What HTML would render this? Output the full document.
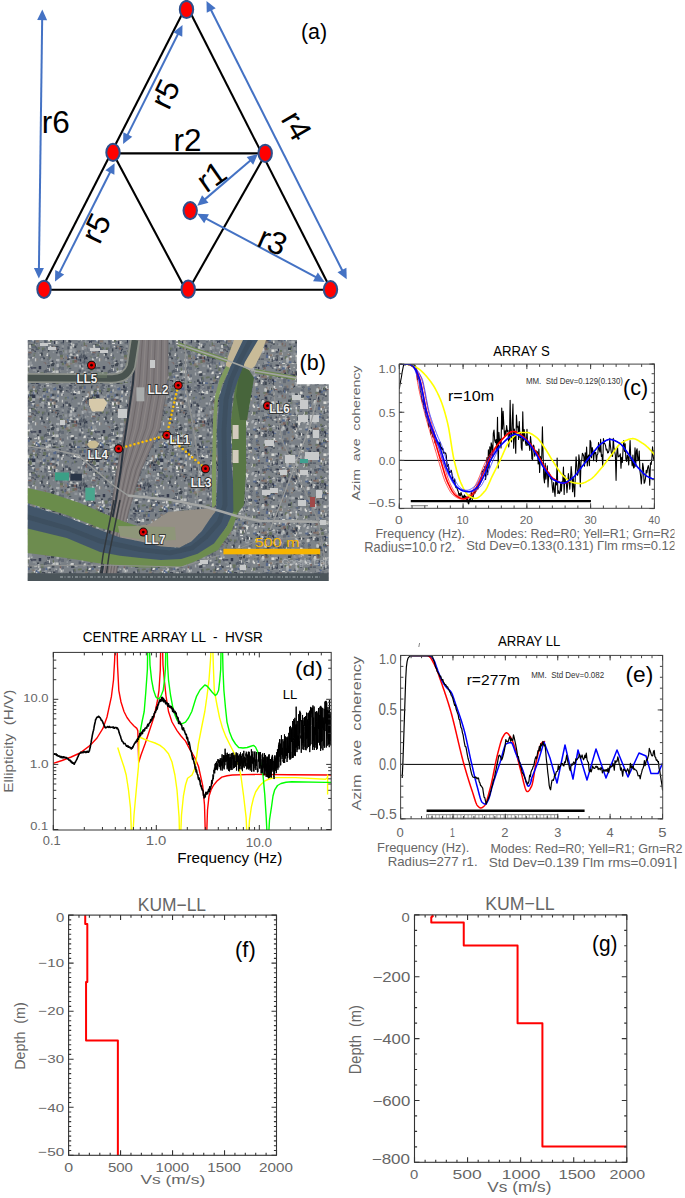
<!DOCTYPE html>
<html><head><meta charset="utf-8"><title>Figure</title>
<style>html,body{margin:0;padding:0;background:#fff;}svg{display:block;}</style>
</head><body>
<svg width="685" height="1198" viewBox="0 0 685 1198">
<rect width="685" height="1198" fill="#fff"/>
<line x1="184.73" y1="9" x2="41.65" y2="289" stroke="#000" stroke-width="2.1" />
<line x1="188.49" y1="9" x2="330.93" y2="289.5" stroke="#000" stroke-width="2.1" />
<line x1="113" y1="153.4" x2="265" y2="153.4" stroke="#000" stroke-width="2.1" />
<line x1="44" y1="289.7" x2="330.5" y2="289.7" stroke="#000" stroke-width="2.1" />
<line x1="112.54" y1="152.4" x2="185.45" y2="289.2" stroke="#000" stroke-width="2.1" />
<line x1="266.07" y1="153.3" x2="188.87" y2="289.2" stroke="#000" stroke-width="2.1" />
<line x1="42.18" y1="19.1" x2="38.92" y2="269" stroke="#4472c4" stroke-width="2" />
<polygon points="42.3,9.6 37.16,20.03 47.16,20.16" fill="#4472c4"/>
<polygon points="38.8,278.5 33.94,267.94 43.94,268.07" fill="#4472c4"/>
<line x1="178.25" y1="33.5" x2="127.35" y2="135.4" stroke="#4472c4" stroke-width="2" />
<polygon points="182.5,25 173.33,32.16 182.28,36.63" fill="#4472c4"/>
<polygon points="123.1,143.9 123.32,132.27 132.27,136.74" fill="#4472c4"/>
<line x1="110.33" y1="171.69" x2="59.27" y2="273.11" stroke="#4472c4" stroke-width="2" />
<polygon points="114.6,163.2 105.41,170.33 114.35,174.83" fill="#4472c4"/>
<polygon points="55,281.6 55.25,269.97 64.19,274.47" fill="#4472c4"/>
<line x1="210.77" y1="9.48" x2="342.43" y2="270.82" stroke="#4472c4" stroke-width="2" />
<polygon points="206.5,1 206.76,12.63 215.69,8.13" fill="#4472c4"/>
<polygon points="346.7,279.3 337.51,272.17 346.44,267.67" fill="#4472c4"/>
<line x1="204.53" y1="199.63" x2="250.67" y2="160.27" stroke="#4472c4" stroke-width="2" />
<polygon points="197.3,205.8 208.53,202.79 202.04,195.18" fill="#4472c4"/>
<polygon points="257.9,154.1 253.16,164.72 246.67,157.11" fill="#4472c4"/>
<line x1="205.68" y1="218.28" x2="316.32" y2="277.42" stroke="#4472c4" stroke-width="2" />
<polygon points="197.3,213.8 204.2,223.16 208.92,214.34" fill="#4472c4"/>
<polygon points="324.7,281.9 313.08,281.36 317.8,272.54" fill="#4472c4"/>
<ellipse cx="186.5" cy="9.5" rx="6.7" ry="8.6" fill="#ff0000" stroke="#2e4f8c" stroke-width="2"/>
<ellipse cx="113" cy="152.4" rx="6.7" ry="8.6" fill="#ff0000" stroke="#2e4f8c" stroke-width="2"/>
<ellipse cx="265.2" cy="153.3" rx="6.7" ry="8.6" fill="#ff0000" stroke="#2e4f8c" stroke-width="2"/>
<ellipse cx="190.2" cy="210.6" rx="6.7" ry="8.6" fill="#ff0000" stroke="#2e4f8c" stroke-width="2"/>
<ellipse cx="44" cy="289.3" rx="6.7" ry="8.6" fill="#ff0000" stroke="#2e4f8c" stroke-width="2"/>
<ellipse cx="188.2" cy="289.2" rx="6.7" ry="8.6" fill="#ff0000" stroke="#2e4f8c" stroke-width="2"/>
<ellipse cx="330.5" cy="289.6" rx="6.7" ry="8.6" fill="#ff0000" stroke="#2e4f8c" stroke-width="2"/>
<text x="41.7" y="133" font-family="Liberation Sans" font-size="31.5" fill="#000">r6</text>
<text x="173.5" y="150.7" font-family="Liberation Sans" font-size="31.5" fill="#000">r2</text>
<g transform="translate(165,93.9) rotate(-64)"><text x="0" y="0" font-family="Liberation Sans" font-size="31.5" text-anchor="middle" dominant-baseline="central" fill="#000">r5</text></g>
<g transform="translate(95.8,228) rotate(-64)"><text x="0" y="0" font-family="Liberation Sans" font-size="31.5" text-anchor="middle" dominant-baseline="central" fill="#000">r5</text></g>
<g transform="translate(296.7,125.6) rotate(60)"><text x="0" y="0" font-family="Liberation Sans" font-size="31.5" text-anchor="middle" dominant-baseline="central" fill="#000">r4</text></g>
<g transform="translate(272.7,240.9) rotate(23.5)"><text x="0" y="0" font-family="Liberation Sans" font-size="31.5" text-anchor="middle" dominant-baseline="central" fill="#000">r3</text></g>
<g transform="translate(211.4,176.5) rotate(-35)"><text x="0" y="0" font-family="Liberation Sans" font-size="31.5" text-anchor="middle" dominant-baseline="central" fill="#000">r1</text></g>
<text x="300.9" y="39.4" font-family="Liberation Sans" font-size="21.87" fill="#000" text-anchor="start" textLength="26.22" lengthAdjust="spacingAndGlyphs" style="white-space:pre" >(a)</text>
<defs><pattern id="urb1" patternUnits="userSpaceOnUse" width="64" height="64"><rect width="64" height="64" fill="#7a8086"/><rect x="32.76" y="60.83" width="1.35" height="3.28" fill="#646b75"/><rect x="27.09" y="52.97" width="1.98" height="2.32" fill="#3e4550"/><rect x="48.22" y="34.44" width="1.79" height="2.89" fill="#646b75"/><rect x="29.02" y="8.58" width="1.97" height="1.49" fill="#646b75"/><rect x="48.02" y="17.95" width="2.16" height="3.35" fill="#dcdcd8"/><rect x="46.39" y="34.64" width="1.66" height="1.39" fill="#dcdcd8"/><rect x="33.03" y="7.42" width="2.5" height="2.86" fill="#a9adb0"/><rect x="58.71" y="2.53" width="2.27" height="2.1" fill="#3e4550"/><rect x="41.05" y="54.57" width="2.42" height="1.62" fill="#66725f"/><rect x="32.61" y="32.7" width="2.81" height="1.36" fill="#66725f"/><rect x="43.73" y="50.37" width="1.46" height="2.93" fill="#525a66"/><rect x="5.22" y="54.73" width="3.07" height="3.1" fill="#7a8088"/><rect x="17.54" y="0.45" width="2.55" height="2.73" fill="#66725f"/><rect x="18.04" y="13.77" width="2.53" height="2.93" fill="#dcdcd8"/><rect x="9.63" y="30.86" width="3.15" height="2.01" fill="#a9adb0"/><rect x="1.57" y="43.1" width="3.21" height="2.98" fill="#857a72"/><rect x="42.26" y="15.72" width="2.84" height="1.51" fill="#66725f"/><rect x="4.01" y="52.83" width="1.39" height="1.9" fill="#646b75"/><rect x="44.25" y="11.43" width="1.95" height="1.01" fill="#646b75"/><rect x="26.96" y="6.78" width="2.52" height="1.91" fill="#c4c6c4"/><rect x="41.85" y="27.6" width="3.08" height="2.52" fill="#66725f"/><rect x="21.87" y="34.79" width="1.47" height="3.39" fill="#646b75"/><rect x="16.44" y="4.68" width="1.62" height="2.83" fill="#c4c6c4"/><rect x="8.24" y="24.08" width="2.01" height="2.6" fill="#7a8088"/><rect x="37.54" y="53.74" width="2.74" height="1.88" fill="#7a8088"/><rect x="23.53" y="7.02" width="1.49" height="1.68" fill="#646b75"/><rect x="20.04" y="36.91" width="3.33" height="2.86" fill="#30374a"/><rect x="48.59" y="38.21" width="3.2" height="2.66" fill="#90959a"/><rect x="4.93" y="31.26" width="1.51" height="1.32" fill="#90959a"/><rect x="50.25" y="18.88" width="2.85" height="2.26" fill="#525a66"/><rect x="61.76" y="25.7" width="1.71" height="3.03" fill="#525a66"/><rect x="46.95" y="12.02" width="1.94" height="1.56" fill="#66725f"/><rect x="24.96" y="62.38" width="2.5" height="2.66" fill="#90959a"/><rect x="19.77" y="25.32" width="3.26" height="1.48" fill="#7a6460"/><rect x="48.53" y="23.03" width="2.54" height="1.91" fill="#7a8088"/><rect x="32.24" y="1.07" width="2.18" height="3.33" fill="#646b75"/><rect x="47.89" y="28.34" width="1.5" height="3.17" fill="#3e4550"/><rect x="19.42" y="63.94" width="1.63" height="3.04" fill="#a9adb0"/><rect x="51.59" y="40.34" width="1.87" height="2.83" fill="#3e4550"/><rect x="28.6" y="23.8" width="2.14" height="1.31" fill="#525a66"/><rect x="35.97" y="24.82" width="2.9" height="2.45" fill="#857a72"/><rect x="46.87" y="38.52" width="1.69" height="2.88" fill="#646b75"/><rect x="4.81" y="61.62" width="2.3" height="2.86" fill="#90959a"/><rect x="39.14" y="2.17" width="1.45" height="2.62" fill="#90959a"/><rect x="10.15" y="60.93" width="1.37" height="2.22" fill="#525a66"/><rect x="45.91" y="17.68" width="1.32" height="1.11" fill="#525a66"/><rect x="12.28" y="34.37" width="2.08" height="3.3" fill="#dcdcd8"/><rect x="50.98" y="42.98" width="3.03" height="3.25" fill="#3e4550"/><rect x="7.56" y="23.06" width="1.22" height="2.44" fill="#646b75"/><rect x="16.92" y="18.45" width="1.23" height="2.78" fill="#a9adb0"/><rect x="38.82" y="2.18" width="2.03" height="2.64" fill="#525a66"/><rect x="24.68" y="1.27" width="1.2" height="1.52" fill="#7a8088"/><rect x="29.65" y="56.61" width="1.76" height="1.05" fill="#66725f"/><rect x="3.96" y="5.95" width="3.31" height="2.81" fill="#646b75"/><rect x="8.46" y="24.75" width="1.81" height="3.1" fill="#7a8088"/><rect x="5.25" y="59.32" width="2.49" height="1.28" fill="#525a66"/><rect x="29.82" y="5.89" width="2.52" height="2.48" fill="#3e4550"/><rect x="51.68" y="50.35" width="3.2" height="2.61" fill="#c4c6c4"/><rect x="10.48" y="1.53" width="1.16" height="3.31" fill="#a9adb0"/><rect x="60.6" y="22.36" width="2.81" height="1.16" fill="#525a66"/><rect x="17.74" y="35.22" width="2.34" height="2.2" fill="#7a8088"/><rect x="36.85" y="61.87" width="2.1" height="3.01" fill="#3e4550"/><rect x="24.68" y="35.87" width="2.49" height="1.6" fill="#7a8088"/><rect x="60.61" y="41.53" width="2.4" height="1.16" fill="#3e4550"/><rect x="13.53" y="8.82" width="3.36" height="1.01" fill="#7a8088"/><rect x="3.74" y="40.96" width="1.11" height="1.16" fill="#3e4550"/><rect x="17.39" y="36.89" width="2.93" height="1.64" fill="#646b75"/><rect x="52.77" y="47.74" width="1.3" height="2.94" fill="#66725f"/><rect x="11.38" y="40.12" width="1.47" height="1.58" fill="#90959a"/><rect x="33.42" y="30.66" width="2.3" height="1.51" fill="#30374a"/><rect x="17.78" y="58.41" width="2.24" height="1.73" fill="#525a66"/><rect x="31.05" y="24.08" width="2.5" height="2.2" fill="#3e4550"/><rect x="53.32" y="3.31" width="2.99" height="2.95" fill="#56688a"/><rect x="42.52" y="10.28" width="2.06" height="2.05" fill="#a9adb0"/><rect x="24.39" y="43.24" width="1.49" height="1.85" fill="#90959a"/><rect x="27.37" y="7.84" width="3.32" height="2.66" fill="#66725f"/><rect x="22.88" y="60.47" width="2.95" height="3.35" fill="#525a66"/><rect x="30.54" y="24.69" width="2.47" height="1.6" fill="#3e4550"/><rect x="30.5" y="40.93" width="1.92" height="3.37" fill="#7a8088"/><rect x="19.19" y="52.09" width="2.12" height="1.66" fill="#646b75"/><rect x="60.62" y="61.55" width="2.55" height="1.67" fill="#c4c6c4"/><rect x="13.87" y="20.61" width="2.3" height="1.96" fill="#646b75"/><rect x="62.34" y="10.89" width="2.47" height="1.09" fill="#3e4550"/><rect x="13.44" y="63.47" width="2.74" height="3.08" fill="#3e4550"/><rect x="43.61" y="28.16" width="2" height="2.7" fill="#646b75"/><rect x="32.86" y="16.69" width="1.94" height="2.28" fill="#525a66"/><rect x="17.68" y="26.91" width="2.13" height="2.92" fill="#a9adb0"/><rect x="36" y="55.67" width="1.47" height="1.25" fill="#7a8088"/><rect x="8.78" y="35.58" width="2.38" height="1.32" fill="#c4c6c4"/><rect x="35.62" y="27.08" width="3.2" height="3.05" fill="#525a66"/><rect x="10.66" y="58.59" width="1.38" height="2.82" fill="#646b75"/><rect x="23.12" y="35.44" width="3.22" height="1" fill="#525a66"/><rect x="46.09" y="25.25" width="1.69" height="3.31" fill="#646b75"/><rect x="45.71" y="61.71" width="2.83" height="2.7" fill="#c4c6c4"/><rect x="51.53" y="17.36" width="2.5" height="2.93" fill="#857a72"/><rect x="57.97" y="57.85" width="1.23" height="1.9" fill="#7a8088"/><rect x="57.07" y="26.83" width="1.64" height="1.05" fill="#646b75"/><rect x="49.97" y="1.29" width="1.4" height="1.75" fill="#90959a"/><rect x="23.23" y="56.49" width="1.5" height="2.35" fill="#30374a"/><rect x="59.49" y="55.9" width="1.33" height="2.9" fill="#c4c6c4"/><rect x="26.98" y="1.64" width="1.4" height="2.8" fill="#3e4550"/><rect x="20.01" y="16.33" width="2.79" height="1.86" fill="#3e4550"/><rect x="23.71" y="20.92" width="2.72" height="1.77" fill="#c4c6c4"/><rect x="34.47" y="56.81" width="2.76" height="1.98" fill="#90959a"/><rect x="30.17" y="55.79" width="1.33" height="2.02" fill="#90959a"/><rect x="27.92" y="38.27" width="2.2" height="1.99" fill="#c4c6c4"/><rect x="21.08" y="38.84" width="2.75" height="1.31" fill="#646b75"/><rect x="60.46" y="61.83" width="3.38" height="1.1" fill="#66725f"/><rect x="59.86" y="57.72" width="2.72" height="2.62" fill="#c4c6c4"/><rect x="36.79" y="50.46" width="2.2" height="1.54" fill="#3e4550"/><rect x="58.13" y="48.31" width="1.43" height="2.97" fill="#646b75"/><rect x="40.68" y="22.79" width="1.51" height="1.42" fill="#3e4550"/><rect x="4.76" y="4.42" width="1.22" height="3" fill="#90959a"/><rect x="8.23" y="33.6" width="2.3" height="2.19" fill="#525a66"/><rect x="27.8" y="55.73" width="1.92" height="2.21" fill="#56688a"/><rect x="14.9" y="46.43" width="2.16" height="2.89" fill="#7a8088"/><rect x="34.71" y="23.57" width="3.08" height="3.2" fill="#a9adb0"/><rect x="62.79" y="46.85" width="2.99" height="3.15" fill="#646b75"/><rect x="63.15" y="24.99" width="2.19" height="1.43" fill="#66725f"/><rect x="21.56" y="44.12" width="1.52" height="1.84" fill="#7a8088"/><rect x="15.14" y="2.24" width="2.85" height="3.28" fill="#525a66"/><rect x="10.41" y="22.25" width="1.2" height="2.56" fill="#7a8088"/><rect x="36" y="57.97" width="3.07" height="3.21" fill="#56688a"/><rect x="37.75" y="32.15" width="1.09" height="1.25" fill="#90959a"/><rect x="54.78" y="27.69" width="1.01" height="1.51" fill="#30374a"/><rect x="10.14" y="12.77" width="1.69" height="2.46" fill="#66725f"/><rect x="14.01" y="38.37" width="2.27" height="2.07" fill="#90959a"/><rect x="52.1" y="13.92" width="2.19" height="1.24" fill="#90959a"/><rect x="50.62" y="63.91" width="2.14" height="1.71" fill="#90959a"/><rect x="23.79" y="7.49" width="2.26" height="2.92" fill="#857a72"/><rect x="62.6" y="23.53" width="1.6" height="1.27" fill="#7a8088"/><rect x="51.65" y="15.02" width="3.04" height="2.71" fill="#525a66"/><rect x="40.43" y="52.46" width="3.24" height="1.39" fill="#66725f"/><rect x="49.65" y="15.6" width="1.71" height="3.3" fill="#7a8088"/><rect x="18.49" y="46.08" width="1.32" height="2.16" fill="#7a8088"/><rect x="34.82" y="38.61" width="2.54" height="2.04" fill="#857a72"/><rect x="53.48" y="59.73" width="2.07" height="2.75" fill="#7a8088"/><rect x="17.84" y="41.72" width="3.27" height="2.93" fill="#646b75"/><rect x="14.6" y="49.39" width="2.69" height="3.07" fill="#525a66"/><rect x="55.15" y="27.69" width="1.66" height="1.82" fill="#7a6460"/><rect x="61.19" y="5.36" width="1.76" height="2.73" fill="#3e4550"/><rect x="2.3" y="2.87" width="3.08" height="1.8" fill="#646b75"/><rect x="50.77" y="20.39" width="2.77" height="1.89" fill="#646b75"/><rect x="24.78" y="10.75" width="1.18" height="3.09" fill="#857a72"/><rect x="29.49" y="44.06" width="3.07" height="1.94" fill="#c4c6c4"/><rect x="48.31" y="5" width="1.33" height="2.8" fill="#c4c6c4"/><rect x="11.86" y="52.91" width="2.92" height="1.8" fill="#646b75"/><rect x="7.08" y="28.51" width="1.26" height="2.3" fill="#a9adb0"/><rect x="37.24" y="4.59" width="2.49" height="2.81" fill="#525a66"/><rect x="38.08" y="52.42" width="1.46" height="3.19" fill="#dcdcd8"/><rect x="45.55" y="55.81" width="1.65" height="2.6" fill="#56688a"/><rect x="2.86" y="52.53" width="1.57" height="2.92" fill="#a9adb0"/><rect x="51.3" y="25.66" width="2.08" height="3.22" fill="#3e4550"/><rect x="10" y="62.26" width="3.19" height="1.35" fill="#dcdcd8"/><rect x="16.99" y="57.09" width="3.17" height="1.06" fill="#3e4550"/><rect x="20.93" y="59.6" width="2.9" height="1.93" fill="#857a72"/><rect x="19.68" y="22.23" width="1.46" height="3.3" fill="#66725f"/><rect x="29.6" y="16.91" width="3.32" height="1.95" fill="#525a66"/><rect x="27.18" y="46.02" width="2.85" height="1.26" fill="#dcdcd8"/><rect x="43.17" y="4" width="3.01" height="3.33" fill="#66725f"/><rect x="0.63" y="30.28" width="2.41" height="3.13" fill="#90959a"/><rect x="4.95" y="59.75" width="3.28" height="2.17" fill="#3e4550"/><rect x="53.69" y="47.47" width="3.33" height="1.02" fill="#7a8088"/><rect x="18.16" y="6.89" width="2.76" height="1.82" fill="#3e4550"/><rect x="8.55" y="51.58" width="2.45" height="1.52" fill="#c4c6c4"/><rect x="8.35" y="43.08" width="2.57" height="1.01" fill="#90959a"/><rect x="46.48" y="48.55" width="2.69" height="3.12" fill="#30374a"/><rect x="59.01" y="26.55" width="1.08" height="1.43" fill="#646b75"/><rect x="2.67" y="6.92" width="2.25" height="1.61" fill="#646b75"/><rect x="47.45" y="54.7" width="3.07" height="1.89" fill="#c4c6c4"/><rect x="54.55" y="9.66" width="1.48" height="2.56" fill="#646b75"/><rect x="12.33" y="23.52" width="1.04" height="2.05" fill="#3e4550"/><rect x="15.66" y="13.92" width="1.79" height="1.3" fill="#7a8088"/><rect x="44.02" y="21.69" width="3.23" height="3.06" fill="#646b75"/><rect x="2.49" y="49.16" width="1.58" height="1.8" fill="#90959a"/><rect x="63.93" y="19.18" width="2.12" height="2.51" fill="#c4c6c4"/><rect x="13.58" y="38.1" width="2.31" height="2.58" fill="#525a66"/><rect x="8.08" y="62.43" width="2.97" height="2.99" fill="#56688a"/><rect x="61.48" y="25.18" width="2.81" height="2.54" fill="#90959a"/><rect x="43.48" y="20.44" width="3.07" height="1.98" fill="#525a66"/><rect x="0.7" y="40.91" width="1.56" height="3.29" fill="#525a66"/><rect x="20.24" y="62.98" width="2.25" height="3.21" fill="#30374a"/><rect x="7.61" y="13.82" width="1.93" height="3.11" fill="#646b75"/><rect x="29.64" y="30.77" width="1.78" height="2.89" fill="#3e4550"/><rect x="14.46" y="52.81" width="2.48" height="2.23" fill="#7a8088"/><rect x="8.33" y="29.23" width="3.37" height="2.43" fill="#90959a"/><rect x="63.37" y="56.67" width="3.4" height="3.29" fill="#a9adb0"/><rect x="19.54" y="40.2" width="1.84" height="2.95" fill="#525a66"/><rect x="29.6" y="53.81" width="2.09" height="2.44" fill="#3e4550"/><rect x="18.25" y="61.09" width="2.58" height="1.88" fill="#90959a"/><rect x="49.59" y="50.4" width="2.99" height="1.7" fill="#646b75"/><rect x="40.86" y="33.74" width="2.36" height="1.52" fill="#646b75"/><rect x="48.13" y="22.93" width="2.82" height="1.11" fill="#dcdcd8"/><rect x="13.32" y="30.61" width="3.21" height="1.61" fill="#525a66"/><rect x="63.08" y="57.88" width="2.28" height="1.15" fill="#a9adb0"/><rect x="16.1" y="13.7" width="3.24" height="2.49" fill="#7a8088"/><rect x="4.01" y="23.78" width="3.07" height="1.73" fill="#646b75"/><rect x="38.84" y="16.14" width="2.34" height="2.84" fill="#646b75"/><rect x="30.26" y="36.88" width="1.87" height="1.54" fill="#525a66"/><rect x="36.19" y="60" width="1.05" height="3.08" fill="#dcdcd8"/><rect x="34.71" y="61.94" width="2.69" height="2.31" fill="#7a8088"/><rect x="29.85" y="43.65" width="1.56" height="2.72" fill="#90959a"/><rect x="43.18" y="60.22" width="1.56" height="1.97" fill="#646b75"/><rect x="3.37" y="39.81" width="2.51" height="3.4" fill="#a9adb0"/><rect x="25.35" y="57.67" width="1.04" height="1.73" fill="#30374a"/><rect x="10.34" y="23.12" width="3.04" height="1.83" fill="#646b75"/><rect x="57" y="4.95" width="3.06" height="1.76" fill="#525a66"/><rect x="31.22" y="30.94" width="3.32" height="2.81" fill="#7a8088"/><rect x="35.8" y="20.38" width="3.36" height="1.93" fill="#857a72"/><rect x="41.99" y="58.63" width="1.85" height="2" fill="#7a8088"/><rect x="52.93" y="61" width="2.98" height="2.08" fill="#66725f"/><rect x="46.73" y="33.22" width="1.44" height="1.57" fill="#c4c6c4"/><rect x="12.72" y="35.86" width="2.93" height="2.57" fill="#a9adb0"/><rect x="16.49" y="7.68" width="1.08" height="1.11" fill="#646b75"/><rect x="35.69" y="27.12" width="1.49" height="1.73" fill="#7a8088"/><rect x="51.13" y="41.98" width="1.1" height="2.16" fill="#525a66"/><rect x="54.71" y="56.63" width="2.33" height="2.77" fill="#c4c6c4"/><rect x="52.28" y="17.84" width="1.55" height="2.79" fill="#dcdcd8"/><rect x="14.71" y="36.34" width="2.31" height="1.9" fill="#30374a"/><rect x="8.43" y="23.79" width="2.03" height="3.29" fill="#c4c6c4"/><rect x="45.5" y="63.99" width="1.54" height="2.45" fill="#3e4550"/><rect x="10.4" y="44.55" width="2.98" height="2.53" fill="#90959a"/><rect x="50.6" y="61.2" width="3.22" height="2.94" fill="#7a8088"/><rect x="49.05" y="14.97" width="3.17" height="1.67" fill="#7a6460"/><rect x="19.31" y="16.9" width="1.81" height="2.16" fill="#525a66"/><rect x="16.88" y="56.59" width="3.24" height="1.37" fill="#7a8088"/><rect x="26.87" y="53.01" width="2.58" height="1.98" fill="#30374a"/><rect x="38.73" y="13.4" width="2.9" height="2.12" fill="#857a72"/><rect x="42.57" y="9.67" width="2.82" height="2.39" fill="#90959a"/><rect x="26.86" y="42.42" width="1.15" height="2.21" fill="#56688a"/><rect x="13.11" y="8.77" width="1.99" height="2.25" fill="#7a8088"/><rect x="30.97" y="43.18" width="2.9" height="1.12" fill="#7a8088"/><rect x="39.63" y="1.34" width="3.28" height="2.54" fill="#90959a"/><rect x="28.69" y="9.42" width="1.16" height="2.63" fill="#56688a"/><rect x="50.71" y="1.37" width="1.09" height="2.23" fill="#90959a"/><rect x="38.81" y="56.07" width="3.15" height="3.37" fill="#646b75"/><rect x="29.99" y="63.59" width="2.68" height="1.14" fill="#56688a"/><rect x="39.47" y="12.4" width="1.83" height="2.39" fill="#a9adb0"/><rect x="26.29" y="47.64" width="2.28" height="3.34" fill="#66725f"/><rect x="9.61" y="6.6" width="3.05" height="2.46" fill="#dcdcd8"/><rect x="27.89" y="11.48" width="1.09" height="2.84" fill="#3e4550"/><rect x="41.21" y="36.07" width="2.77" height="3.27" fill="#646b75"/><rect x="30.89" y="48.1" width="1.49" height="1.22" fill="#525a66"/><rect x="59.63" y="50.52" width="1.48" height="1.04" fill="#a9adb0"/><rect x="20.6" y="14.59" width="1.48" height="2.13" fill="#646b75"/><rect x="60.17" y="36.22" width="3.16" height="3.22" fill="#857a72"/><rect x="31.89" y="37.33" width="2.28" height="1.05" fill="#dcdcd8"/><rect x="9.67" y="35.42" width="2.64" height="2.89" fill="#90959a"/><rect x="40.9" y="52.93" width="2.54" height="2.6" fill="#66725f"/><rect x="4.7" y="33.19" width="1.06" height="1.36" fill="#3e4550"/><rect x="55.44" y="21.1" width="2.25" height="2.89" fill="#c4c6c4"/><rect x="59.28" y="31.35" width="2.69" height="3.08" fill="#3e4550"/><rect x="30.07" y="5.63" width="2.34" height="1.75" fill="#66725f"/><rect x="29.98" y="10.43" width="3.1" height="2.02" fill="#3e4550"/><rect x="17.2" y="24.52" width="1.06" height="1.34" fill="#646b75"/><rect x="21.61" y="28.01" width="1.71" height="1.77" fill="#7a8088"/><rect x="22.52" y="47.99" width="2.87" height="1.04" fill="#525a66"/><rect x="6.52" y="22.58" width="1.86" height="2.8" fill="#c4c6c4"/><rect x="56.47" y="43.71" width="2.43" height="3.39" fill="#a9adb0"/><rect x="24.93" y="19.51" width="1.09" height="3.27" fill="#30374a"/><rect x="24.13" y="56" width="2.83" height="2.12" fill="#dcdcd8"/><rect x="57.11" y="28.55" width="2.02" height="1.36" fill="#3e4550"/><rect x="22.86" y="13.73" width="1.16" height="2.77" fill="#dcdcd8"/><rect x="43.99" y="58.08" width="3.09" height="2.55" fill="#90959a"/><rect x="22.91" y="31.68" width="1.77" height="1.41" fill="#90959a"/><rect x="42.31" y="37.46" width="2.77" height="1.81" fill="#3e4550"/><rect x="13.61" y="18.54" width="2.33" height="1.93" fill="#a9adb0"/><rect x="14.33" y="29.95" width="1.01" height="2.65" fill="#857a72"/><rect x="54.95" y="55.98" width="1.47" height="3.36" fill="#90959a"/><rect x="11.88" y="5.83" width="1.17" height="2.53" fill="#a9adb0"/><rect x="50.35" y="42.15" width="2.25" height="1.39" fill="#c4c6c4"/><rect x="0.26" y="42.26" width="1.4" height="1.38" fill="#56688a"/><rect x="59.35" y="46.1" width="1.55" height="2.13" fill="#646b75"/><rect x="7.53" y="15.16" width="1.14" height="3.33" fill="#646b75"/><rect x="24.78" y="15.78" width="2.56" height="2.35" fill="#30374a"/><rect x="0.73" y="13.1" width="2.44" height="2.38" fill="#66725f"/><rect x="5.15" y="23.75" width="1.97" height="2.23" fill="#646b75"/><rect x="47.02" y="6.68" width="1.15" height="1.75" fill="#3e4550"/><rect x="25.11" y="37.02" width="1.2" height="2.1" fill="#90959a"/><rect x="36.13" y="1.93" width="2.86" height="2.73" fill="#646b75"/><rect x="30.17" y="47.31" width="3" height="1.59" fill="#30374a"/><rect x="27.15" y="61" width="3.11" height="1.86" fill="#7a8088"/><rect x="31.09" y="61.48" width="1.35" height="2.32" fill="#a9adb0"/><rect x="46.08" y="4.3" width="2.44" height="2.08" fill="#646b75"/><rect x="62.11" y="6.79" width="2.7" height="1.49" fill="#dcdcd8"/><rect x="32.02" y="29.02" width="1.6" height="2.28" fill="#857a72"/><rect x="4.61" y="42.13" width="1.35" height="1.54" fill="#66725f"/><rect x="4.63" y="46.83" width="1.14" height="2.22" fill="#a9adb0"/><rect x="9.41" y="51.34" width="1.53" height="2.14" fill="#646b75"/><rect x="48.87" y="16.07" width="1.63" height="1.03" fill="#857a72"/><rect x="2.15" y="20.13" width="2.55" height="1.8" fill="#a9adb0"/><rect x="23.33" y="56.32" width="1.38" height="1.04" fill="#3e4550"/><rect x="33.54" y="37.91" width="3" height="3.29" fill="#7a8088"/><rect x="52.72" y="25.93" width="1.89" height="1.32" fill="#857a72"/><rect x="21.51" y="41.39" width="2.24" height="3.39" fill="#646b75"/><rect x="35.3" y="50.54" width="1.46" height="2.98" fill="#90959a"/><rect x="6.63" y="61.96" width="1.99" height="2.14" fill="#30374a"/><rect x="61.74" y="15.71" width="1.33" height="2.79" fill="#c4c6c4"/><rect x="28.58" y="41.45" width="3.27" height="3.02" fill="#90959a"/><rect x="58.15" y="58.43" width="2.85" height="1.28" fill="#90959a"/><rect x="38.87" y="56.28" width="2.24" height="2.47" fill="#c4c6c4"/><rect x="5.37" y="3.61" width="1.07" height="1.26" fill="#646b75"/><rect x="3.1" y="38.17" width="2.37" height="2.09" fill="#3e4550"/><rect x="33.23" y="8.09" width="1.01" height="2.91" fill="#56688a"/><rect x="4.63" y="42.18" width="1.13" height="2.4" fill="#a9adb0"/><rect x="37.55" y="63.38" width="2.47" height="1.4" fill="#56688a"/><rect x="19.14" y="34.52" width="2.04" height="2.94" fill="#3e4550"/><rect x="23.53" y="28.33" width="2.43" height="3.18" fill="#646b75"/><rect x="22.11" y="43.01" width="1.5" height="2.22" fill="#646b75"/><rect x="39.92" y="37.16" width="2.65" height="2.03" fill="#646b75"/><rect x="0.94" y="38.5" width="1.54" height="1.01" fill="#7a8088"/><rect x="17.54" y="43.7" width="1.71" height="1.88" fill="#c4c6c4"/><rect x="43.15" y="10.29" width="2.41" height="3.24" fill="#56688a"/><rect x="54.36" y="18.05" width="3.3" height="1.48" fill="#7a8088"/><rect x="7.3" y="36.2" width="2.73" height="2.65" fill="#3e4550"/><rect x="62.88" y="19.84" width="2.78" height="3.22" fill="#30374a"/><rect x="33.49" y="34.47" width="1.35" height="1.92" fill="#66725f"/><rect x="43.6" y="42.47" width="2.64" height="1.84" fill="#7a6460"/><rect x="21.52" y="11.98" width="2.6" height="1.41" fill="#dcdcd8"/><rect x="36.83" y="7.69" width="1.06" height="2.44" fill="#3e4550"/><rect x="3.36" y="26.4" width="2.08" height="2.99" fill="#525a66"/><rect x="55.57" y="25.92" width="3.05" height="1.36" fill="#3e4550"/><rect x="27.89" y="13.8" width="2.15" height="2.97" fill="#857a72"/><rect x="5.56" y="16.45" width="1.73" height="1.42" fill="#7a8088"/><rect x="3.43" y="12.63" width="1.16" height="2.1" fill="#56688a"/><rect x="9.8" y="56.78" width="1.76" height="2.79" fill="#66725f"/><rect x="38.72" y="46.03" width="2.52" height="3.23" fill="#30374a"/><rect x="26.9" y="18.62" width="1.38" height="2.23" fill="#525a66"/><rect x="15.03" y="56.45" width="2.68" height="2.29" fill="#66725f"/><rect x="33.62" y="25.24" width="2.65" height="2.46" fill="#525a66"/><rect x="20.39" y="35.9" width="1.52" height="3.2" fill="#3e4550"/><rect x="56.09" y="62.71" width="2.48" height="1.51" fill="#66725f"/><rect x="28.25" y="45.6" width="1.77" height="1.53" fill="#dcdcd8"/><rect x="4.85" y="3.72" width="2.88" height="2.86" fill="#646b75"/><rect x="23.94" y="44.03" width="2.44" height="2.56" fill="#7a8088"/><rect x="62.74" y="9.47" width="2.52" height="1.49" fill="#646b75"/><rect x="19.04" y="52.81" width="2.39" height="1.79" fill="#90959a"/><rect x="29.52" y="34.82" width="1.57" height="1.9" fill="#7a8088"/><rect x="5.32" y="0.92" width="2.42" height="1.5" fill="#30374a"/><rect x="1.6" y="14.29" width="2.51" height="1.32" fill="#7a8088"/><rect x="19.09" y="17.19" width="1.56" height="3.34" fill="#646b75"/><rect x="7.54" y="58.58" width="1.38" height="2.77" fill="#a9adb0"/><rect x="45.93" y="49.49" width="1.43" height="1.09" fill="#7a8088"/><rect x="28.47" y="15.14" width="2.94" height="1.26" fill="#90959a"/><rect x="33.82" y="0.6" width="2.95" height="1.86" fill="#7a8088"/><rect x="10.29" y="25.54" width="2.09" height="2.45" fill="#3e4550"/><rect x="27.36" y="31.3" width="3.29" height="2.43" fill="#c4c6c4"/><rect x="28.17" y="31.6" width="3.36" height="2" fill="#7a6460"/><rect x="39.01" y="58.65" width="2.38" height="2.97" fill="#66725f"/><rect x="24.69" y="21.07" width="3.26" height="1.79" fill="#30374a"/><rect x="11.35" y="31.3" width="1.91" height="1.66" fill="#646b75"/><rect x="61.77" y="42.81" width="2.12" height="2.37" fill="#66725f"/><rect x="43.32" y="8.22" width="1.51" height="3.14" fill="#90959a"/><rect x="37.79" y="10.43" width="1.33" height="1.52" fill="#646b75"/><rect x="35.77" y="23.84" width="2.63" height="2.04" fill="#90959a"/><rect x="60.92" y="2.7" width="2.53" height="2.77" fill="#525a66"/><rect x="55.07" y="7.86" width="2.94" height="1.46" fill="#7a8088"/><rect x="25.31" y="36.63" width="2.52" height="1.1" fill="#66725f"/><rect x="33.69" y="58.78" width="1.41" height="2.07" fill="#dcdcd8"/><rect x="40.62" y="32.46" width="2.13" height="3.2" fill="#3e4550"/><rect x="63.39" y="30.14" width="2.97" height="2.16" fill="#66725f"/><rect x="6.3" y="27.24" width="2.85" height="3.39" fill="#90959a"/><rect x="4.76" y="47.84" width="2.56" height="1.36" fill="#525a66"/><rect x="32.12" y="10.64" width="3.2" height="3.38" fill="#30374a"/><rect x="54.02" y="21.2" width="1.26" height="2.75" fill="#30374a"/><rect x="44.47" y="11.33" width="1.06" height="2.33" fill="#525a66"/><rect x="18.86" y="30.49" width="1.6" height="3.24" fill="#646b75"/><rect x="35.9" y="62.27" width="2.61" height="1.93" fill="#30374a"/><rect x="12.39" y="6.65" width="1.09" height="2.6" fill="#a9adb0"/><rect x="42.94" y="43.1" width="2.4" height="3.26" fill="#7a8088"/><rect x="7.89" y="16" width="1.98" height="2.47" fill="#7a8088"/><rect x="27.89" y="18.79" width="2.75" height="3.03" fill="#646b75"/><rect x="51.22" y="12.61" width="3.34" height="1.85" fill="#a9adb0"/><rect x="38.54" y="5.26" width="2.41" height="1.11" fill="#90959a"/><rect x="34.38" y="60.93" width="1.44" height="1.12" fill="#a9adb0"/><rect x="19.84" y="35.22" width="1.61" height="2.66" fill="#525a66"/><rect x="32.76" y="49.38" width="3.14" height="1.79" fill="#90959a"/><rect x="61" y="8.86" width="2.99" height="2.76" fill="#dcdcd8"/><rect x="31.27" y="29.14" width="2.31" height="1.87" fill="#3e4550"/><rect x="36.39" y="24.95" width="2.21" height="2.68" fill="#7a8088"/><rect x="10.38" y="53.17" width="3.27" height="1.56" fill="#a9adb0"/><rect x="24.15" y="44.92" width="1.13" height="3.21" fill="#66725f"/><rect x="8.88" y="41.03" width="1.79" height="1.5" fill="#66725f"/><rect x="48.19" y="36.94" width="2.49" height="3.09" fill="#646b75"/><rect x="31.55" y="14.68" width="2.09" height="1.41" fill="#646b75"/><rect x="41.16" y="17.71" width="2.57" height="2.91" fill="#a9adb0"/><rect x="30.03" y="25.01" width="1.17" height="2.84" fill="#dcdcd8"/><rect x="15.44" y="44.56" width="2.45" height="2.95" fill="#c4c6c4"/><rect x="12.55" y="8.63" width="1.81" height="1.45" fill="#a9adb0"/><rect x="5.62" y="43.22" width="2.88" height="1.1" fill="#857a72"/><rect x="52.5" y="2.73" width="2.31" height="1.07" fill="#90959a"/><rect x="5.19" y="36.86" width="1.19" height="1.21" fill="#dcdcd8"/><rect x="51.75" y="43.05" width="2.89" height="1.51" fill="#3e4550"/><rect x="20.61" y="48.7" width="2.81" height="2.72" fill="#7a8088"/><rect x="32.56" y="47.36" width="2.41" height="1.53" fill="#7a8088"/><rect x="59.83" y="61.51" width="1.19" height="1.29" fill="#3e4550"/><rect x="32.34" y="57.48" width="2.24" height="1.8" fill="#857a72"/><rect x="15.45" y="35.17" width="3.13" height="3.09" fill="#525a66"/><rect x="19.52" y="26.1" width="2.85" height="2.65" fill="#90959a"/><rect x="24.12" y="18.36" width="2.4" height="2.93" fill="#646b75"/><rect x="18.19" y="0.63" width="1.26" height="1.32" fill="#7a8088"/><rect x="49.65" y="25.88" width="1.35" height="1.4" fill="#dcdcd8"/><rect x="39.69" y="18.97" width="3.03" height="3.27" fill="#90959a"/><rect x="28.99" y="24.74" width="1.9" height="3.07" fill="#c4c6c4"/><rect x="58.34" y="2.12" width="1.32" height="2.26" fill="#a9adb0"/><rect x="27.53" y="33.12" width="3.16" height="2.35" fill="#646b75"/><rect x="31.99" y="19.05" width="2.51" height="2.41" fill="#c4c6c4"/><rect x="62.34" y="31.91" width="1.09" height="2.19" fill="#90959a"/><rect x="50.61" y="59.37" width="1.39" height="3.13" fill="#525a66"/><rect x="37.78" y="0.3" width="3.03" height="1.99" fill="#525a66"/><rect x="60.55" y="5.49" width="1.84" height="2.12" fill="#646b75"/><rect x="22.89" y="54.01" width="1.47" height="2.34" fill="#525a66"/><rect x="39.64" y="16.03" width="1.76" height="2.26" fill="#646b75"/><rect x="46.7" y="14.37" width="3.01" height="2.68" fill="#525a66"/><rect x="33.29" y="4.24" width="1.41" height="1.75" fill="#c4c6c4"/><rect x="39.57" y="34.05" width="1.44" height="1.71" fill="#c4c6c4"/><rect x="31.4" y="20.65" width="1.17" height="1.11" fill="#56688a"/><rect x="26.63" y="57.13" width="1.58" height="2.42" fill="#646b75"/><rect x="56.48" y="14.32" width="2.31" height="3.32" fill="#c4c6c4"/><rect x="35.49" y="23.31" width="2.27" height="1.01" fill="#525a66"/><rect x="17.86" y="3" width="1.57" height="2.01" fill="#857a72"/><rect x="58.82" y="1.32" width="2.1" height="2.64" fill="#30374a"/><rect x="10.2" y="0.46" width="1.6" height="1.75" fill="#525a66"/><rect x="14.11" y="42.37" width="1.53" height="1.45" fill="#646b75"/><rect x="29.15" y="12.68" width="2.19" height="3.25" fill="#66725f"/><rect x="48.09" y="60.32" width="3.21" height="2.33" fill="#c4c6c4"/><rect x="22.57" y="34.45" width="3.21" height="2.22" fill="#7a8088"/><rect x="42.12" y="29.76" width="1.23" height="1.91" fill="#525a66"/><rect x="58.54" y="47.42" width="2.05" height="1.17" fill="#525a66"/><rect x="16.79" y="33.55" width="1.25" height="1.87" fill="#525a66"/><rect x="6.66" y="7.73" width="1.29" height="3" fill="#525a66"/><rect x="7.13" y="53.17" width="3.31" height="2.76" fill="#3e4550"/><rect x="8.65" y="9.31" width="1.23" height="2.15" fill="#3e4550"/><rect x="50.87" y="26.29" width="1.47" height="1.22" fill="#90959a"/><rect x="49.8" y="37.3" width="1.57" height="2.93" fill="#90959a"/><rect x="37.46" y="58.09" width="2.62" height="1.28" fill="#c4c6c4"/><rect x="18.59" y="50.56" width="2.35" height="2.3" fill="#525a66"/><rect x="1.74" y="62.39" width="1.07" height="1.12" fill="#7a8088"/><rect x="59.99" y="34.65" width="3.38" height="2.72" fill="#66725f"/><rect x="52.44" y="60.35" width="3.33" height="1.79" fill="#c4c6c4"/><rect x="32.54" y="62.64" width="2.42" height="1.96" fill="#3e4550"/><rect x="46.65" y="0.81" width="2.56" height="1.64" fill="#c4c6c4"/><rect x="63.48" y="22.3" width="2.34" height="2.34" fill="#525a66"/><rect x="47.23" y="45" width="2.85" height="1.53" fill="#3e4550"/><rect x="25.2" y="7.5" width="1.66" height="1.04" fill="#7a8088"/><rect x="23.08" y="20.88" width="1.93" height="1.1" fill="#7a8088"/><rect x="41.84" y="20.75" width="2.36" height="2.93" fill="#90959a"/><rect x="59.32" y="49.33" width="2.34" height="1.2" fill="#7a8088"/><rect x="2.21" y="61.16" width="1.11" height="1.5" fill="#525a66"/><rect x="55.12" y="58.09" width="2.74" height="3.05" fill="#646b75"/><rect x="57.3" y="6.47" width="1.74" height="3.06" fill="#c4c6c4"/><rect x="59.74" y="54.32" width="1.51" height="2" fill="#7a6460"/><rect x="44.99" y="50.81" width="1.2" height="3.29" fill="#90959a"/><rect x="9.83" y="36.72" width="3.2" height="2.31" fill="#7a6460"/><rect x="59.36" y="31.82" width="3.32" height="2.84" fill="#646b75"/><rect x="6.3" y="1.74" width="2.25" height="2.81" fill="#525a66"/><rect x="12.92" y="62.32" width="2.94" height="1.78" fill="#56688a"/><rect x="30.55" y="16.25" width="1.83" height="1.65" fill="#c4c6c4"/><rect x="23.93" y="36.98" width="2.49" height="2.21" fill="#7a8088"/><rect x="22.55" y="14.95" width="1.23" height="2.68" fill="#3e4550"/><rect x="46.94" y="48.26" width="2.93" height="2.54" fill="#dcdcd8"/><rect x="24.48" y="29.37" width="1.69" height="1.02" fill="#7a8088"/><rect x="31.94" y="29.69" width="1.09" height="1.38" fill="#646b75"/><rect x="26.2" y="13.14" width="1.87" height="1.69" fill="#3e4550"/><rect x="56.08" y="38.9" width="3.36" height="2.45" fill="#a9adb0"/><rect x="23.29" y="51.52" width="2.11" height="2.98" fill="#7a8088"/><rect x="47.31" y="42.4" width="1.95" height="1.22" fill="#646b75"/><rect x="28.2" y="30.39" width="1.52" height="1.63" fill="#646b75"/><rect x="35.05" y="5.72" width="1.98" height="2.64" fill="#66725f"/><rect x="33.02" y="60.8" width="2.77" height="2.9" fill="#525a66"/><rect x="32.35" y="2.27" width="2.6" height="1.78" fill="#857a72"/><rect x="8.37" y="4.76" width="1.95" height="1.38" fill="#90959a"/><rect x="27.75" y="1.49" width="1.58" height="1.37" fill="#525a66"/><rect x="63.13" y="37.14" width="2.87" height="1.92" fill="#525a66"/><rect x="21.48" y="44.53" width="1.99" height="1.02" fill="#90959a"/><rect x="32.74" y="43.61" width="1.07" height="3.13" fill="#7a8088"/><rect x="23.1" y="18.5" width="3.04" height="1.64" fill="#646b75"/><rect x="57" y="30.07" width="1.12" height="1.29" fill="#30374a"/><rect x="20.84" y="19.49" width="1.71" height="3.33" fill="#90959a"/><rect x="57.34" y="50.85" width="2.89" height="2.86" fill="#646b75"/><rect x="52.76" y="31.43" width="1.42" height="1.61" fill="#90959a"/><rect x="30.82" y="63.15" width="2.49" height="2.49" fill="#3e4550"/><rect x="4.32" y="19.34" width="2.07" height="3.23" fill="#3e4550"/><rect x="46.28" y="39.77" width="1.59" height="3.2" fill="#7a8088"/><rect x="53.51" y="17.51" width="2.36" height="2.87" fill="#857a72"/><rect x="22.9" y="13.52" width="2.57" height="2.54" fill="#3e4550"/><rect x="38.52" y="60.31" width="1.59" height="2.51" fill="#56688a"/><rect x="24.64" y="52.41" width="3.15" height="1.12" fill="#646b75"/><rect x="15.59" y="58.16" width="2.44" height="1.3" fill="#7a8088"/><rect x="17.41" y="63.65" width="3.11" height="3.04" fill="#3e4550"/><rect x="24.41" y="28.23" width="1.77" height="3.13" fill="#7a8088"/><rect x="48.94" y="37.28" width="1.97" height="1.21" fill="#66725f"/><rect x="30.76" y="4.66" width="2.15" height="1.11" fill="#646b75"/><rect x="57.45" y="22.01" width="1.8" height="1.73" fill="#90959a"/><rect x="31.94" y="24.41" width="3.05" height="2.12" fill="#66725f"/><rect x="25.83" y="22.49" width="1.42" height="1.16" fill="#90959a"/><rect x="22.8" y="9.35" width="2.26" height="2.72" fill="#a9adb0"/><rect x="1.23" y="23.7" width="2.61" height="1.95" fill="#7a8088"/><rect x="50.5" y="9.89" width="1.41" height="2.84" fill="#56688a"/><rect x="10.51" y="3.73" width="2.96" height="2.36" fill="#646b75"/><rect x="3" y="35.23" width="1.37" height="3.16" fill="#56688a"/><rect x="47.08" y="62.94" width="1.73" height="1.28" fill="#a9adb0"/><rect x="15.64" y="44.51" width="1.18" height="1.82" fill="#a9adb0"/><rect x="59.96" y="5.48" width="2.08" height="3.27" fill="#3e4550"/><rect x="29.15" y="47.86" width="2.15" height="3.05" fill="#7a8088"/><rect x="19.59" y="1.63" width="2.18" height="3.35" fill="#56688a"/><rect x="0.05" y="2.04" width="1.14" height="3.06" fill="#7a8088"/><rect x="17.67" y="47.54" width="1.81" height="1.92" fill="#c4c6c4"/><rect x="57.13" y="11.36" width="1.49" height="1.48" fill="#56688a"/><rect x="35.81" y="52.52" width="1.45" height="3.07" fill="#646b75"/><rect x="39.69" y="13.86" width="2.23" height="2.81" fill="#525a66"/><rect x="61.7" y="54.33" width="2.69" height="2.81" fill="#646b75"/><rect x="5.93" y="20.82" width="1.32" height="1.8" fill="#30374a"/><rect x="10.97" y="4.75" width="2.94" height="3.24" fill="#7a8088"/><rect x="13.77" y="56.65" width="1.14" height="1.83" fill="#66725f"/><rect x="46.81" y="48.76" width="2.15" height="2.69" fill="#646b75"/><rect x="55.39" y="50.43" width="3.26" height="2.84" fill="#c4c6c4"/><rect x="12.13" y="36.43" width="1.18" height="3.2" fill="#30374a"/><rect x="34.22" y="53.3" width="3.09" height="1.86" fill="#c4c6c4"/><rect x="8.43" y="3.17" width="2.86" height="1.52" fill="#7a8088"/><rect x="31.33" y="60.45" width="2.87" height="2.32" fill="#66725f"/><rect x="15.94" y="5.5" width="1.61" height="2.43" fill="#646b75"/><rect x="63.26" y="35.35" width="2.36" height="2.78" fill="#90959a"/><rect x="11.12" y="12.89" width="2.09" height="1.61" fill="#525a66"/><rect x="23.54" y="51.34" width="3.08" height="1.63" fill="#525a66"/><rect x="2.3" y="0.59" width="1.88" height="1.46" fill="#90959a"/><rect x="8.41" y="40.11" width="2.34" height="3.19" fill="#66725f"/><rect x="7.78" y="35.01" width="1.88" height="1.1" fill="#90959a"/><rect x="62.44" y="9.29" width="1.01" height="1.48" fill="#7a8088"/><rect x="16.91" y="44.37" width="1.64" height="3.07" fill="#525a66"/><rect x="9.95" y="62.04" width="1.18" height="2.81" fill="#3e4550"/><rect x="10.16" y="39.98" width="2.98" height="2.48" fill="#7a6460"/><rect x="63.12" y="9.58" width="2.12" height="2.13" fill="#525a66"/><rect x="42.16" y="55.68" width="2.77" height="2.89" fill="#646b75"/><rect x="36.22" y="11.34" width="2.83" height="3.23" fill="#90959a"/><rect x="33.15" y="47.27" width="3.14" height="1.22" fill="#30374a"/><rect x="57.31" y="13.34" width="1.71" height="2.13" fill="#a9adb0"/><rect x="29.31" y="36.69" width="1.93" height="2.01" fill="#646b75"/><rect x="41.85" y="60.02" width="3.37" height="1.92" fill="#3e4550"/><rect x="40.61" y="61.02" width="3.29" height="2.65" fill="#7a8088"/><rect x="5.33" y="29.56" width="2.57" height="2.73" fill="#a9adb0"/><rect x="50.35" y="7.21" width="2.24" height="2.08" fill="#90959a"/><rect x="29.82" y="38.7" width="1.26" height="1.03" fill="#7a8088"/><rect x="37.67" y="27.15" width="2.24" height="1.96" fill="#66725f"/><rect x="51.85" y="9.67" width="2.5" height="2.26" fill="#3e4550"/><rect x="5.64" y="52.1" width="2.72" height="1.38" fill="#a9adb0"/><rect x="57.19" y="33.49" width="2.44" height="2.62" fill="#90959a"/><rect x="56.28" y="16.34" width="1.54" height="1.24" fill="#7a8088"/><rect x="20.9" y="31.99" width="1.42" height="2.15" fill="#90959a"/><rect x="19.56" y="51.48" width="2.21" height="2.43" fill="#dcdcd8"/><rect x="56.13" y="41.28" width="1.01" height="2.55" fill="#646b75"/><rect x="15.81" y="38.74" width="1.42" height="2.77" fill="#30374a"/><rect x="8.82" y="9.73" width="3.22" height="1.07" fill="#30374a"/><rect x="47.8" y="45.01" width="1.08" height="3.26" fill="#525a66"/><rect x="55.86" y="32.05" width="1.78" height="1.42" fill="#3e4550"/><rect x="14.99" y="7.44" width="1.02" height="2.6" fill="#dcdcd8"/><rect x="32.92" y="52.51" width="3.33" height="1.19" fill="#7a8088"/><rect x="26.99" y="15.92" width="2.72" height="2.33" fill="#525a66"/><rect x="60.53" y="7.63" width="1.12" height="2.81" fill="#7a8088"/><rect x="41.77" y="1.88" width="1.19" height="1.68" fill="#646b75"/><rect x="33.78" y="20.36" width="1.56" height="3.28" fill="#525a66"/><rect x="32.16" y="14.31" width="2.95" height="2.49" fill="#a9adb0"/><rect x="27.87" y="29.33" width="3.38" height="2.02" fill="#a9adb0"/><rect x="5.64" y="33.57" width="2.81" height="2.13" fill="#c4c6c4"/><rect x="42.51" y="7.03" width="2.15" height="1.07" fill="#3e4550"/><rect x="43.09" y="14.07" width="1.12" height="2.12" fill="#c4c6c4"/><rect x="17.93" y="12.2" width="1.55" height="1.06" fill="#3e4550"/><rect x="29.6" y="13.79" width="2.03" height="3.19" fill="#66725f"/><rect x="52.91" y="59.46" width="2.6" height="2.05" fill="#3e4550"/><rect x="46.19" y="7.12" width="1.73" height="1.67" fill="#56688a"/><rect x="55.46" y="16.29" width="1.9" height="2.15" fill="#3e4550"/><rect x="1.23" y="36.42" width="2.2" height="2.51" fill="#857a72"/><rect x="8.85" y="57.34" width="1.5" height="3.21" fill="#525a66"/><rect x="25.57" y="47.13" width="1.48" height="1.28" fill="#646b75"/><rect x="21.53" y="56.7" width="1.6" height="2.64" fill="#66725f"/><rect x="0.85" y="17.52" width="3.17" height="2.4" fill="#525a66"/><rect x="31.56" y="25.61" width="3.01" height="2.9" fill="#646b75"/><rect x="62.92" y="3.06" width="3.18" height="1.23" fill="#90959a"/><rect x="26.81" y="52.7" width="2.15" height="1.68" fill="#c4c6c4"/><rect x="24.45" y="27.21" width="2.96" height="1.85" fill="#90959a"/><rect x="51.76" y="52.91" width="2.64" height="2.7" fill="#3e4550"/><rect x="34.89" y="38.27" width="1.34" height="3.13" fill="#c4c6c4"/><rect x="6.6" y="7.79" width="1.25" height="1.35" fill="#a9adb0"/><rect x="6.24" y="26.16" width="1.69" height="2.57" fill="#c4c6c4"/><rect x="40.86" y="38.11" width="2.33" height="2.84" fill="#90959a"/><rect x="13.7" y="7" width="2.44" height="2.93" fill="#c4c6c4"/><rect x="45.3" y="49.74" width="1.19" height="3.04" fill="#3e4550"/><rect x="35.81" y="26.59" width="1.32" height="2.38" fill="#525a66"/><rect x="3.24" y="45.5" width="3.14" height="2.06" fill="#66725f"/><rect x="61.05" y="46.76" width="2.01" height="3.26" fill="#646b75"/><rect x="15.27" y="42.87" width="2.98" height="1.63" fill="#646b75"/><rect x="1.78" y="6.07" width="1.79" height="1.23" fill="#3e4550"/><rect x="49.32" y="56.53" width="1.33" height="1.82" fill="#3e4550"/><rect x="26.92" y="7.64" width="2.36" height="2.63" fill="#c4c6c4"/><rect x="6.68" y="51.15" width="3.01" height="1.65" fill="#dcdcd8"/><rect x="21.6" y="16.48" width="1.38" height="3.31" fill="#7a6460"/><rect x="50.14" y="19.21" width="1.45" height="2.96" fill="#66725f"/><rect x="44.27" y="0.9" width="1.22" height="2.37" fill="#3e4550"/><rect x="52.35" y="62.58" width="3.35" height="2.99" fill="#3e4550"/><rect x="7.26" y="62.65" width="2.3" height="1.27" fill="#3e4550"/></pattern><pattern id="urb2" patternUnits="userSpaceOnUse" width="52" height="52"><rect width="52" height="52" fill="#7e8489"/><rect x="13.6" y="15.52" width="2.95" height="1.22" fill="#a9adb0"/><rect x="37.89" y="9.77" width="1.13" height="1.66" fill="#a9adb0"/><rect x="29.24" y="7.8" width="2.04" height="2.61" fill="#7a8088"/><rect x="32.93" y="50.31" width="2.64" height="1.94" fill="#525a66"/><rect x="17.99" y="26.58" width="3.14" height="2.86" fill="#646b75"/><rect x="48.06" y="24.49" width="2.67" height="1.26" fill="#3e4550"/><rect x="10.5" y="45.99" width="2.63" height="3.04" fill="#a9adb0"/><rect x="21.14" y="26.86" width="2.42" height="3.07" fill="#7a8088"/><rect x="46.4" y="31.91" width="2.99" height="2.2" fill="#c4c6c4"/><rect x="17.63" y="27.19" width="1.52" height="1.24" fill="#3e4550"/><rect x="36.5" y="23.73" width="3.15" height="3" fill="#7a8088"/><rect x="50.63" y="30.79" width="2.84" height="1.98" fill="#525a66"/><rect x="8.93" y="9.42" width="2.45" height="1.27" fill="#3e4550"/><rect x="43.32" y="5.17" width="2.08" height="2.17" fill="#a9adb0"/><rect x="26.21" y="48.74" width="2.8" height="2.38" fill="#a9adb0"/><rect x="26.34" y="50.17" width="1.54" height="2.65" fill="#90959a"/><rect x="2.18" y="15.4" width="3.23" height="2.88" fill="#3e4550"/><rect x="15.42" y="0.51" width="2.99" height="1.26" fill="#3e4550"/><rect x="51.06" y="23.19" width="1.76" height="1.12" fill="#7a8088"/><rect x="19.03" y="27.22" width="1.02" height="1.36" fill="#525a66"/><rect x="22.91" y="15.72" width="2.47" height="1.69" fill="#56688a"/><rect x="50.02" y="3.09" width="1.5" height="2.35" fill="#30374a"/><rect x="3.33" y="9.61" width="2.1" height="2.6" fill="#56688a"/><rect x="45.08" y="41.28" width="1.13" height="3.34" fill="#a9adb0"/><rect x="4.48" y="13.26" width="2.49" height="1.93" fill="#7a8088"/><rect x="41.84" y="42.85" width="2.31" height="2.9" fill="#7a8088"/><rect x="50.67" y="31.47" width="3.32" height="1.11" fill="#857a72"/><rect x="29.09" y="37.11" width="1.46" height="2.32" fill="#646b75"/><rect x="5.48" y="0.17" width="3.18" height="2.61" fill="#525a66"/><rect x="13.41" y="24.21" width="2.96" height="1.28" fill="#dcdcd8"/><rect x="49.08" y="12.72" width="2.54" height="1.86" fill="#c4c6c4"/><rect x="4.52" y="24.44" width="2.41" height="2.5" fill="#c4c6c4"/><rect x="46.35" y="12.55" width="1.37" height="1.94" fill="#90959a"/><rect x="49.95" y="36.95" width="2.77" height="3.33" fill="#646b75"/><rect x="13.49" y="21.97" width="1.71" height="2.56" fill="#dcdcd8"/><rect x="7.98" y="26.93" width="2.63" height="2.18" fill="#56688a"/><rect x="38.32" y="45.87" width="1.27" height="1.47" fill="#3e4550"/><rect x="43.12" y="50.07" width="1.03" height="2.89" fill="#c4c6c4"/><rect x="47.23" y="14.06" width="2.72" height="1.57" fill="#3e4550"/><rect x="38.75" y="2.2" width="2.68" height="1.68" fill="#90959a"/><rect x="46.36" y="12.66" width="2.12" height="1.85" fill="#525a66"/><rect x="24.63" y="9.44" width="2.92" height="2.48" fill="#646b75"/><rect x="50.6" y="17.95" width="2.61" height="2.76" fill="#646b75"/><rect x="0.61" y="46.42" width="3.3" height="1.41" fill="#525a66"/><rect x="22.5" y="31.07" width="3.37" height="3.31" fill="#7a6460"/><rect x="12.77" y="31.14" width="2.05" height="1.56" fill="#3e4550"/><rect x="8.77" y="18.64" width="1.21" height="1.36" fill="#3e4550"/><rect x="32.39" y="25.62" width="1.58" height="2.26" fill="#7a8088"/><rect x="34.28" y="48.5" width="1.85" height="2.55" fill="#525a66"/><rect x="48.87" y="32.12" width="1.38" height="1.62" fill="#525a66"/><rect x="9.31" y="15.95" width="2.98" height="2.1" fill="#646b75"/><rect x="21.79" y="13.9" width="2.76" height="1.14" fill="#646b75"/><rect x="16.81" y="9.44" width="2.77" height="1.43" fill="#646b75"/><rect x="2.94" y="39.29" width="1.87" height="2.57" fill="#525a66"/><rect x="1.13" y="16.77" width="2.87" height="3.01" fill="#646b75"/><rect x="44.04" y="2.62" width="2.25" height="1.62" fill="#7a8088"/><rect x="11.53" y="46.47" width="1.73" height="3.27" fill="#3e4550"/><rect x="22.35" y="23.06" width="2.7" height="1.83" fill="#90959a"/><rect x="3.66" y="16.17" width="2.74" height="1.25" fill="#7a8088"/><rect x="12.31" y="8.61" width="1.29" height="2.95" fill="#c4c6c4"/><rect x="19.73" y="20.37" width="2.75" height="2.45" fill="#56688a"/><rect x="47.81" y="25.07" width="2.58" height="2.31" fill="#646b75"/><rect x="23.58" y="37.5" width="2.33" height="2.52" fill="#90959a"/><rect x="49.55" y="40.38" width="1.31" height="2.95" fill="#56688a"/><rect x="42.47" y="17.84" width="1.88" height="1.58" fill="#3e4550"/><rect x="24.55" y="44.22" width="2.85" height="2.59" fill="#66725f"/><rect x="34.27" y="11.61" width="2.93" height="1.88" fill="#857a72"/><rect x="16.98" y="4.78" width="2.75" height="1.26" fill="#857a72"/><rect x="21.42" y="40.57" width="1.13" height="2.31" fill="#c4c6c4"/><rect x="6.73" y="31.64" width="1.34" height="1.73" fill="#7a8088"/><rect x="32.22" y="6.77" width="1.44" height="2.88" fill="#c4c6c4"/><rect x="23.62" y="14.66" width="2.66" height="2.12" fill="#646b75"/><rect x="45.48" y="10.5" width="2.93" height="2.48" fill="#a9adb0"/><rect x="35.47" y="38.91" width="3.11" height="3.21" fill="#646b75"/><rect x="8.52" y="46.61" width="1.49" height="1.53" fill="#66725f"/><rect x="50.24" y="43.92" width="2.24" height="1.9" fill="#7a6460"/><rect x="38.28" y="32.71" width="1.03" height="1.47" fill="#3e4550"/><rect x="47.17" y="12.3" width="1.41" height="2.4" fill="#525a66"/><rect x="28.42" y="49.39" width="3.07" height="1.59" fill="#56688a"/><rect x="20.77" y="27.2" width="1.78" height="3.4" fill="#646b75"/><rect x="38.34" y="32.23" width="2.65" height="1.25" fill="#90959a"/><rect x="51.85" y="29.28" width="1.47" height="1.13" fill="#646b75"/><rect x="38.77" y="1.29" width="1.12" height="2.58" fill="#857a72"/><rect x="22.81" y="32.46" width="1.62" height="1.65" fill="#90959a"/><rect x="11.39" y="23.6" width="1.36" height="3.22" fill="#a9adb0"/><rect x="4.9" y="10.04" width="2.99" height="1.89" fill="#646b75"/><rect x="1.21" y="35.11" width="2.37" height="3.02" fill="#525a66"/><rect x="39.12" y="43.01" width="2.98" height="2.79" fill="#7a8088"/><rect x="2.47" y="33.5" width="1.06" height="1.21" fill="#7a8088"/><rect x="6.28" y="23.5" width="3.04" height="1.42" fill="#30374a"/><rect x="51.87" y="1.94" width="2.02" height="2.7" fill="#c4c6c4"/><rect x="14.56" y="42.07" width="1.89" height="1.48" fill="#90959a"/><rect x="31.85" y="43.56" width="2.59" height="1.2" fill="#90959a"/><rect x="17.9" y="36.66" width="1.11" height="2.58" fill="#30374a"/><rect x="2.09" y="0.8" width="3.14" height="3.15" fill="#525a66"/><rect x="47.97" y="21.14" width="2.25" height="2.13" fill="#646b75"/><rect x="45.98" y="31.75" width="3.24" height="2.49" fill="#56688a"/><rect x="26.79" y="24.69" width="2.37" height="1.01" fill="#30374a"/><rect x="7.26" y="49.09" width="1.11" height="2.7" fill="#30374a"/><rect x="28.17" y="4.98" width="2.95" height="1.77" fill="#646b75"/><rect x="36" y="50.54" width="1.23" height="2.05" fill="#c4c6c4"/><rect x="14.4" y="48.1" width="2.45" height="1.18" fill="#525a66"/><rect x="7.45" y="23.71" width="3.18" height="1.27" fill="#525a66"/><rect x="11.01" y="29.8" width="2.03" height="2" fill="#525a66"/><rect x="42.86" y="24.93" width="3.08" height="1.07" fill="#7a8088"/><rect x="19.16" y="43.75" width="2.66" height="2.25" fill="#525a66"/><rect x="35.49" y="46.59" width="2.86" height="3.32" fill="#a9adb0"/><rect x="16.31" y="11.49" width="2.92" height="2.95" fill="#a9adb0"/><rect x="40.67" y="25.27" width="3.04" height="2.67" fill="#646b75"/><rect x="30.55" y="34.12" width="1.49" height="3.25" fill="#66725f"/><rect x="7.55" y="11.43" width="1.01" height="3.25" fill="#525a66"/><rect x="43.36" y="26.6" width="1.14" height="1.51" fill="#646b75"/><rect x="39.75" y="19.12" width="1.34" height="3.27" fill="#90959a"/><rect x="3.46" y="50.6" width="2.62" height="2.06" fill="#525a66"/><rect x="36.06" y="5.04" width="3.25" height="2.8" fill="#c4c6c4"/><rect x="40.05" y="44.92" width="2.13" height="2.95" fill="#525a66"/><rect x="36.42" y="39.06" width="1.51" height="1.27" fill="#56688a"/><rect x="46.36" y="5.72" width="2.41" height="1.43" fill="#525a66"/><rect x="48.32" y="34.47" width="2.82" height="1.68" fill="#30374a"/><rect x="34.81" y="18.01" width="2.19" height="1.6" fill="#a9adb0"/><rect x="9.72" y="23.33" width="3.05" height="2.58" fill="#a9adb0"/><rect x="5.82" y="42.73" width="2.49" height="3.28" fill="#56688a"/><rect x="48.45" y="27.79" width="2.85" height="1.24" fill="#3e4550"/><rect x="40.89" y="35.01" width="3.27" height="1.73" fill="#90959a"/><rect x="40.91" y="31.67" width="3.04" height="1.95" fill="#66725f"/><rect x="44.79" y="46.96" width="1.96" height="3.18" fill="#646b75"/><rect x="30.88" y="50.96" width="2.55" height="2.42" fill="#7a8088"/><rect x="26.71" y="25.51" width="2.63" height="2.3" fill="#646b75"/><rect x="9.92" y="51.34" width="2.49" height="1.42" fill="#646b75"/><rect x="33.81" y="12.41" width="3.15" height="2.3" fill="#c4c6c4"/><rect x="34.5" y="8.41" width="3.24" height="3.03" fill="#525a66"/><rect x="29.62" y="27.45" width="1.74" height="1.9" fill="#646b75"/><rect x="32.83" y="22.29" width="1.24" height="1.55" fill="#525a66"/><rect x="32.73" y="28.82" width="1.94" height="2.31" fill="#a9adb0"/><rect x="11.26" y="2.89" width="3.31" height="1.45" fill="#646b75"/><rect x="36.62" y="51.26" width="1.3" height="1.97" fill="#66725f"/><rect x="4.42" y="13.02" width="2.47" height="2.99" fill="#3e4550"/><rect x="21.65" y="30.79" width="2.31" height="2.29" fill="#7a6460"/><rect x="51.17" y="10.94" width="1.61" height="1.96" fill="#3e4550"/><rect x="7.61" y="29.38" width="3.37" height="1.71" fill="#525a66"/><rect x="32.06" y="15.47" width="1.03" height="1.22" fill="#857a72"/><rect x="5.65" y="33.35" width="2" height="2.85" fill="#90959a"/><rect x="12.01" y="10.98" width="1.56" height="1.56" fill="#646b75"/><rect x="15.57" y="31.1" width="2.27" height="1.16" fill="#7a8088"/><rect x="48.36" y="48.86" width="1.77" height="1.37" fill="#646b75"/><rect x="6.9" y="13.45" width="3.22" height="3.1" fill="#7a8088"/><rect x="28.59" y="36.43" width="2.68" height="2.66" fill="#c4c6c4"/><rect x="30.73" y="6.91" width="2.65" height="2.61" fill="#525a66"/><rect x="10.14" y="33.1" width="1.93" height="2.95" fill="#646b75"/><rect x="34.64" y="31.97" width="1.27" height="1.67" fill="#7a8088"/><rect x="15.7" y="4.73" width="1.57" height="2.29" fill="#525a66"/><rect x="33.06" y="21.58" width="2.1" height="1.5" fill="#30374a"/><rect x="4.03" y="49.11" width="2.41" height="3.27" fill="#90959a"/><rect x="18.28" y="19.23" width="3.23" height="2.25" fill="#7a8088"/><rect x="8.11" y="7.89" width="2" height="2.08" fill="#66725f"/><rect x="6.33" y="23.61" width="1.32" height="1.61" fill="#90959a"/><rect x="45.6" y="6.88" width="1.42" height="2.69" fill="#90959a"/><rect x="4.56" y="35.41" width="3.3" height="2.77" fill="#7a6460"/><rect x="38.63" y="17.1" width="2.92" height="2.36" fill="#3e4550"/><rect x="18.85" y="49.21" width="2.57" height="1.89" fill="#c4c6c4"/><rect x="35.52" y="8.23" width="2.11" height="2.93" fill="#525a66"/><rect x="28.48" y="6.18" width="1.66" height="2.84" fill="#7a8088"/><rect x="42.77" y="37.76" width="2.53" height="1.36" fill="#7a8088"/><rect x="45.67" y="32.9" width="1.16" height="2.21" fill="#7a8088"/><rect x="25.34" y="21.56" width="2.95" height="2.28" fill="#857a72"/><rect x="49.58" y="46.55" width="2.85" height="1.05" fill="#3e4550"/><rect x="8.92" y="26.89" width="1.72" height="1.32" fill="#56688a"/><rect x="22.35" y="10.34" width="2.23" height="3.36" fill="#c4c6c4"/><rect x="48.08" y="6.04" width="2.78" height="1.81" fill="#7a8088"/><rect x="23.75" y="24.06" width="2.9" height="1.71" fill="#7a8088"/><rect x="22.52" y="32.37" width="2.34" height="1.11" fill="#66725f"/><rect x="33.41" y="7.91" width="2.19" height="3.16" fill="#857a72"/><rect x="20.99" y="12.39" width="3.28" height="2.76" fill="#a9adb0"/><rect x="21.26" y="44.99" width="1.46" height="2.99" fill="#30374a"/><rect x="27.16" y="18.93" width="2.65" height="1.93" fill="#7a8088"/><rect x="14.02" y="40.73" width="1.37" height="2.19" fill="#7a8088"/><rect x="51.28" y="5.73" width="2.36" height="1.53" fill="#dcdcd8"/><rect x="6.54" y="47.65" width="2.55" height="1.46" fill="#7a8088"/><rect x="14.34" y="24.83" width="2.98" height="2.15" fill="#7a6460"/><rect x="47.4" y="11.25" width="1.32" height="2.64" fill="#7a8088"/><rect x="13.8" y="48.13" width="2.39" height="1.64" fill="#90959a"/><rect x="28.62" y="41.56" width="1.99" height="2.21" fill="#525a66"/><rect x="44.13" y="47.8" width="1.01" height="2.81" fill="#dcdcd8"/><rect x="44.67" y="41.57" width="1.52" height="3.38" fill="#7a8088"/><rect x="44.6" y="40.47" width="2.46" height="3.32" fill="#dcdcd8"/><rect x="23.07" y="24.57" width="3.17" height="2.08" fill="#857a72"/><rect x="11.8" y="13.13" width="1.93" height="1.74" fill="#7a8088"/><rect x="11.52" y="8.53" width="1.91" height="1.43" fill="#646b75"/><rect x="20.63" y="48.99" width="2" height="2.42" fill="#56688a"/><rect x="23.1" y="14.33" width="2.36" height="2.98" fill="#646b75"/><rect x="38.34" y="25.03" width="2.27" height="2.55" fill="#7a8088"/><rect x="9.68" y="12.03" width="1.12" height="3.12" fill="#a9adb0"/><rect x="48.83" y="16.52" width="2.34" height="2.37" fill="#525a66"/><rect x="28.9" y="31.49" width="2.04" height="1.84" fill="#646b75"/><rect x="4" y="31.13" width="1.47" height="1.19" fill="#7a6460"/><rect x="46.29" y="18.78" width="2.13" height="1.49" fill="#7a6460"/><rect x="15.64" y="43.45" width="2.79" height="1.04" fill="#3e4550"/><rect x="22.88" y="1.59" width="3.2" height="3.33" fill="#a9adb0"/><rect x="15.91" y="11.07" width="1.33" height="2.36" fill="#525a66"/><rect x="11.42" y="37.41" width="3.09" height="2.52" fill="#dcdcd8"/><rect x="42.5" y="22.5" width="1.86" height="1.47" fill="#30374a"/><rect x="26.28" y="45.56" width="2.18" height="3.1" fill="#c4c6c4"/><rect x="29.62" y="38.38" width="2.76" height="1.11" fill="#66725f"/><rect x="5.64" y="28.11" width="2.17" height="2.83" fill="#525a66"/><rect x="36.29" y="41.03" width="1.83" height="2.39" fill="#7a8088"/><rect x="39.28" y="45.89" width="2.22" height="1.03" fill="#56688a"/><rect x="30.51" y="9.38" width="2.76" height="2.09" fill="#525a66"/><rect x="17.75" y="31.68" width="1.8" height="1.34" fill="#3e4550"/><rect x="20.04" y="37.93" width="1.83" height="1.99" fill="#66725f"/><rect x="33.24" y="51.14" width="3" height="3.25" fill="#90959a"/><rect x="40.22" y="51.98" width="1.03" height="2.13" fill="#30374a"/><rect x="12.02" y="3.67" width="2.21" height="1.16" fill="#525a66"/><rect x="2.62" y="38.01" width="1.12" height="3.21" fill="#90959a"/><rect x="20.89" y="7.66" width="1.94" height="1.61" fill="#857a72"/><rect x="26.5" y="1" width="3.25" height="3.37" fill="#7a6460"/><rect x="14.16" y="26.01" width="2.72" height="1.26" fill="#7a8088"/><rect x="16.72" y="44.77" width="1.06" height="3.22" fill="#3e4550"/><rect x="48.07" y="23.66" width="1.44" height="1.75" fill="#56688a"/><rect x="9.87" y="42.33" width="3.13" height="1.71" fill="#a9adb0"/><rect x="27.06" y="48.57" width="1.45" height="1.9" fill="#a9adb0"/><rect x="7.41" y="13.54" width="2.85" height="2.55" fill="#90959a"/><rect x="45.16" y="12.63" width="3.2" height="1.78" fill="#56688a"/><rect x="37.82" y="37.58" width="2.46" height="2.86" fill="#646b75"/><rect x="38.18" y="6.1" width="2.57" height="3.34" fill="#dcdcd8"/><rect x="12.73" y="46.83" width="2.43" height="2.05" fill="#7a8088"/><rect x="23.45" y="23.54" width="3.28" height="2.83" fill="#525a66"/><rect x="40.61" y="31.15" width="3.38" height="1.69" fill="#30374a"/><rect x="26.94" y="11.67" width="1.29" height="3.15" fill="#3e4550"/><rect x="13.15" y="24.6" width="1.7" height="2.33" fill="#525a66"/><rect x="40.47" y="30.34" width="2.55" height="3.34" fill="#525a66"/><rect x="24.28" y="8.16" width="1.72" height="2.21" fill="#30374a"/><rect x="9.53" y="42.2" width="2.75" height="2.14" fill="#857a72"/><rect x="22.11" y="51.08" width="3.32" height="2" fill="#dcdcd8"/><rect x="40.08" y="27.51" width="2.47" height="2.92" fill="#dcdcd8"/><rect x="47.09" y="49.74" width="1.97" height="1.02" fill="#525a66"/><rect x="19.82" y="5.02" width="2.31" height="1.29" fill="#646b75"/><rect x="15.86" y="47.35" width="2.12" height="1.27" fill="#30374a"/><rect x="48.73" y="37.08" width="1.01" height="3.03" fill="#525a66"/><rect x="42.66" y="42.77" width="2.64" height="1.18" fill="#7a8088"/><rect x="6.59" y="40.55" width="1.16" height="2.06" fill="#30374a"/><rect x="42.92" y="22.14" width="1.2" height="3.11" fill="#646b75"/><rect x="25.61" y="0.12" width="1.72" height="3.26" fill="#c4c6c4"/><rect x="37.27" y="29.45" width="1.33" height="1.54" fill="#dcdcd8"/><rect x="5.77" y="34.58" width="1.9" height="2.76" fill="#525a66"/><rect x="5.49" y="28.34" width="1.62" height="2.89" fill="#7a6460"/><rect x="7.17" y="12.99" width="1.42" height="1.94" fill="#646b75"/><rect x="31.71" y="19.58" width="2.25" height="3.07" fill="#857a72"/><rect x="9.22" y="13.63" width="2.37" height="2.14" fill="#3e4550"/><rect x="38.32" y="41.14" width="2.04" height="1.3" fill="#c4c6c4"/><rect x="3.38" y="3.31" width="2.38" height="2.05" fill="#7a6460"/><rect x="13.08" y="9.44" width="1.77" height="3.1" fill="#c4c6c4"/><rect x="0.2" y="6.71" width="3.28" height="2.36" fill="#7a8088"/><rect x="3.97" y="11.69" width="1.04" height="3.04" fill="#56688a"/><rect x="27.84" y="41.21" width="1.33" height="1.67" fill="#a9adb0"/><rect x="35.45" y="31.39" width="1.22" height="3.24" fill="#646b75"/><rect x="35.6" y="44.83" width="1.32" height="2.1" fill="#a9adb0"/><rect x="51.48" y="36.78" width="2.03" height="2.67" fill="#90959a"/><rect x="5.73" y="11.37" width="2.5" height="2.62" fill="#7a8088"/><rect x="13.55" y="2.95" width="2.8" height="1.48" fill="#c4c6c4"/><rect x="48.96" y="42.78" width="2.42" height="1.13" fill="#c4c6c4"/><rect x="51.04" y="15.86" width="3.01" height="2.29" fill="#30374a"/><rect x="37.88" y="15.7" width="2.16" height="1.23" fill="#525a66"/><rect x="14.9" y="37.17" width="1.94" height="3.07" fill="#a9adb0"/><rect x="47.72" y="41.1" width="2.05" height="1.25" fill="#90959a"/><rect x="26.76" y="5.78" width="1.36" height="3.36" fill="#66725f"/><rect x="18.72" y="1.47" width="1.64" height="2.32" fill="#dcdcd8"/><rect x="1.23" y="37.36" width="3.3" height="3.31" fill="#a9adb0"/><rect x="40.85" y="35.42" width="1.04" height="1.66" fill="#56688a"/><rect x="5.21" y="8.34" width="2.48" height="3.15" fill="#7a8088"/><rect x="31.26" y="50.9" width="3.01" height="1.03" fill="#c4c6c4"/><rect x="5.64" y="49.68" width="2.73" height="3.17" fill="#90959a"/><rect x="3.1" y="10.82" width="1.2" height="2.81" fill="#857a72"/><rect x="23.57" y="43.53" width="1.52" height="2.05" fill="#7a8088"/><rect x="25.49" y="1.54" width="1.41" height="1.25" fill="#a9adb0"/><rect x="24.86" y="51.73" width="2.53" height="1.49" fill="#3e4550"/><rect x="35.55" y="42.76" width="1.32" height="2.24" fill="#dcdcd8"/><rect x="46.99" y="5.93" width="2.18" height="3.09" fill="#a9adb0"/><rect x="1.06" y="18.2" width="1.68" height="1.81" fill="#dcdcd8"/><rect x="42.5" y="51.85" width="2.91" height="3.32" fill="#7a8088"/><rect x="48.71" y="28.38" width="2.95" height="1.48" fill="#857a72"/><rect x="20.64" y="48.96" width="1.74" height="1.95" fill="#90959a"/><rect x="45.96" y="38.08" width="1.63" height="2.2" fill="#66725f"/><rect x="46.15" y="38.68" width="1.79" height="3.21" fill="#7a8088"/><rect x="37.94" y="41.82" width="2.65" height="1.13" fill="#525a66"/><rect x="40.62" y="33.94" width="3.03" height="2.69" fill="#c4c6c4"/><rect x="45.79" y="48.29" width="1.69" height="3" fill="#dcdcd8"/><rect x="6.21" y="22.98" width="2.3" height="2.35" fill="#857a72"/><rect x="0.4" y="3.46" width="2.88" height="1.66" fill="#7a8088"/><rect x="7.56" y="49.87" width="2.18" height="1.17" fill="#56688a"/><rect x="30.65" y="13.2" width="1.22" height="1.07" fill="#857a72"/><rect x="6.32" y="11.44" width="2.33" height="1.16" fill="#c4c6c4"/><rect x="33.59" y="33.76" width="1.86" height="1.68" fill="#30374a"/><rect x="50.99" y="30.98" width="3.19" height="1.38" fill="#30374a"/><rect x="12.2" y="14.47" width="1.07" height="3.25" fill="#525a66"/><rect x="11.86" y="18.02" width="2.03" height="2.95" fill="#3e4550"/><rect x="3.79" y="11.46" width="3.11" height="2.99" fill="#857a72"/><rect x="26.43" y="0.3" width="2.46" height="1.67" fill="#525a66"/><rect x="15.61" y="37.71" width="2.41" height="2.77" fill="#a9adb0"/><rect x="30.57" y="28.72" width="2.86" height="2.64" fill="#a9adb0"/><rect x="17.84" y="11.18" width="2.87" height="2.52" fill="#30374a"/><rect x="16.5" y="0.9" width="2.87" height="1.41" fill="#30374a"/><rect x="2.78" y="4.99" width="1.28" height="1.34" fill="#66725f"/><rect x="1.27" y="15.91" width="2.32" height="2.29" fill="#c4c6c4"/><rect x="27.94" y="7.07" width="1.19" height="2.87" fill="#646b75"/><rect x="7.78" y="14.97" width="1.3" height="2.84" fill="#525a66"/><rect x="30.36" y="21.47" width="2.39" height="3.23" fill="#90959a"/><rect x="7.05" y="35.83" width="1.74" height="1.63" fill="#66725f"/><rect x="12.11" y="15.3" width="2.05" height="2.86" fill="#30374a"/><rect x="20.35" y="0.42" width="1.01" height="1.27" fill="#7a6460"/><rect x="22.91" y="25.91" width="2.68" height="2.18" fill="#525a66"/><rect x="36.99" y="9.33" width="1.82" height="1.06" fill="#a9adb0"/><rect x="41.88" y="17.37" width="1.13" height="1.84" fill="#525a66"/><rect x="11.06" y="34.45" width="2.49" height="2.46" fill="#7a8088"/><rect x="31.05" y="24.03" width="1.91" height="1.2" fill="#857a72"/><rect x="19.42" y="43.76" width="3.13" height="1.96" fill="#a9adb0"/><rect x="27.11" y="41.84" width="3.37" height="1.01" fill="#857a72"/><rect x="12.19" y="10.91" width="2.69" height="1.57" fill="#90959a"/><rect x="6.88" y="0.71" width="2.16" height="1.38" fill="#56688a"/><rect x="1.44" y="6" width="3.24" height="1.61" fill="#a9adb0"/><rect x="1.88" y="36.06" width="2.24" height="2.96" fill="#c4c6c4"/><rect x="34.52" y="24.95" width="2.37" height="2.85" fill="#7a8088"/><rect x="34.73" y="6.8" width="3.07" height="2.47" fill="#525a66"/><rect x="11.75" y="17.33" width="1.18" height="2.17" fill="#90959a"/><rect x="28.74" y="21.03" width="1.47" height="2.78" fill="#7a8088"/><rect x="0.33" y="39.02" width="1.1" height="2.47" fill="#90959a"/><rect x="47.65" y="47.18" width="1.85" height="2.38" fill="#525a66"/><rect x="27.57" y="15.55" width="1.99" height="1.91" fill="#56688a"/><rect x="29.74" y="43.75" width="2.05" height="1.82" fill="#dcdcd8"/><rect x="16.59" y="2.51" width="1.53" height="2.77" fill="#7a8088"/><rect x="40.52" y="35.69" width="3.16" height="1.38" fill="#857a72"/><rect x="9.87" y="22.49" width="3.25" height="1.79" fill="#90959a"/><rect x="18.61" y="5.79" width="2.23" height="1.15" fill="#3e4550"/><rect x="23" y="17.04" width="2.98" height="2.14" fill="#646b75"/><rect x="13.33" y="46.27" width="2.89" height="2.36" fill="#525a66"/><rect x="28.21" y="3.13" width="1.29" height="1.91" fill="#3e4550"/><rect x="3.3" y="28.19" width="2.92" height="1.57" fill="#66725f"/><rect x="7.46" y="22.09" width="1.87" height="2.86" fill="#90959a"/><rect x="29.23" y="4.07" width="1.43" height="1.62" fill="#c4c6c4"/><rect x="44.74" y="47.77" width="3.02" height="2.97" fill="#66725f"/><rect x="33.49" y="2.73" width="1.26" height="1.15" fill="#c4c6c4"/><rect x="35.79" y="7.92" width="1.65" height="1.34" fill="#66725f"/><rect x="40.25" y="35.78" width="2.45" height="2.19" fill="#7a8088"/><rect x="6.9" y="26.21" width="2.37" height="2.53" fill="#3e4550"/><rect x="47.65" y="35.82" width="2.59" height="1.6" fill="#90959a"/><rect x="32.47" y="10.24" width="2.58" height="2.41" fill="#30374a"/><rect x="27.99" y="35.52" width="3.27" height="2.56" fill="#3e4550"/><rect x="3.36" y="20.29" width="2.05" height="2.46" fill="#7a8088"/><rect x="21.84" y="3.35" width="2.98" height="2.2" fill="#56688a"/><rect x="47.14" y="49.94" width="2.55" height="1.14" fill="#7a8088"/><rect x="26.22" y="12.39" width="1.09" height="2.76" fill="#30374a"/><rect x="9.38" y="0.55" width="2.73" height="2.62" fill="#525a66"/><rect x="9.26" y="11.92" width="2.55" height="3.07" fill="#66725f"/><rect x="9.4" y="16.93" width="2.27" height="2.5" fill="#646b75"/><rect x="18.15" y="31.23" width="2.53" height="2.79" fill="#90959a"/><rect x="1.28" y="11.82" width="2.31" height="1.73" fill="#7a6460"/><rect x="13.07" y="45.03" width="1.49" height="2.84" fill="#c4c6c4"/><rect x="51.7" y="34.69" width="3.22" height="3.11" fill="#7a8088"/><rect x="28.51" y="5.27" width="1.5" height="3.12" fill="#525a66"/><rect x="17.04" y="9.92" width="2.95" height="1.37" fill="#a9adb0"/><rect x="8.55" y="43.92" width="1.36" height="2.46" fill="#dcdcd8"/><rect x="35.13" y="29.5" width="2.78" height="2.01" fill="#3e4550"/><rect x="37.41" y="45.55" width="1.6" height="2.11" fill="#66725f"/><rect x="13.95" y="16.76" width="1.8" height="1.35" fill="#56688a"/><rect x="33.54" y="34.73" width="2.83" height="3.07" fill="#90959a"/><rect x="50.31" y="0.26" width="1.58" height="1.43" fill="#a9adb0"/><rect x="38.97" y="43.52" width="3.36" height="3.23" fill="#7a8088"/><rect x="25.96" y="27.29" width="1" height="2.12" fill="#c4c6c4"/><rect x="3.04" y="14.87" width="1.34" height="1.24" fill="#646b75"/><rect x="23.02" y="6.17" width="2.56" height="2.58" fill="#7a6460"/><rect x="36.99" y="1.04" width="1.32" height="3.21" fill="#525a66"/><rect x="10.9" y="24.04" width="2.92" height="2.13" fill="#3e4550"/><rect x="18.94" y="49.84" width="1.55" height="2.65" fill="#646b75"/><rect x="2.68" y="18.26" width="2.16" height="3.07" fill="#525a66"/><rect x="45.62" y="6.98" width="1.77" height="2.03" fill="#dcdcd8"/><rect x="19.5" y="17.38" width="1.09" height="1.57" fill="#a9adb0"/><rect x="37.59" y="22.26" width="3.24" height="1.08" fill="#a9adb0"/><rect x="19.78" y="26.54" width="1.78" height="1.33" fill="#525a66"/><rect x="4.92" y="29.5" width="3.36" height="1.32" fill="#857a72"/><rect x="34.63" y="14.76" width="1.36" height="1.45" fill="#dcdcd8"/><rect x="30.29" y="51.5" width="1.62" height="1.32" fill="#90959a"/><rect x="4.5" y="24.39" width="2.24" height="3.28" fill="#c4c6c4"/><rect x="0.37" y="1.99" width="1.02" height="2.31" fill="#90959a"/><rect x="29.17" y="45.81" width="1.5" height="2.27" fill="#857a72"/><rect x="36.37" y="19.14" width="1.15" height="1.2" fill="#dcdcd8"/><rect x="6.99" y="1.97" width="2.89" height="2.34" fill="#7a8088"/><rect x="34.02" y="12.46" width="1.9" height="1.67" fill="#525a66"/><rect x="35.65" y="19.76" width="1.94" height="2.39" fill="#a9adb0"/><rect x="40.48" y="35.94" width="1.69" height="1.19" fill="#a9adb0"/><rect x="10.3" y="20.74" width="3.1" height="1.13" fill="#7a8088"/><rect x="10.99" y="25.65" width="2.26" height="1.61" fill="#56688a"/><rect x="29.39" y="6.7" width="2.89" height="2.6" fill="#7a8088"/><rect x="39.92" y="39.44" width="1.81" height="3.18" fill="#a9adb0"/><rect x="2.98" y="9.57" width="1.04" height="2.53" fill="#525a66"/><rect x="24.04" y="25.66" width="1.14" height="3.38" fill="#56688a"/><rect x="51.61" y="18.23" width="1.69" height="1.33" fill="#7a6460"/><rect x="40.29" y="6.89" width="1.01" height="2.98" fill="#646b75"/><rect x="19.06" y="40.46" width="2.92" height="2.28" fill="#857a72"/><rect x="24.2" y="22.1" width="2.48" height="2.26" fill="#646b75"/><rect x="38.63" y="35.14" width="1.38" height="2.36" fill="#90959a"/><rect x="28.75" y="29" width="2.65" height="2.07" fill="#90959a"/><rect x="46.58" y="2.87" width="2.79" height="1.14" fill="#3e4550"/><rect x="45.4" y="6.02" width="1.17" height="2.95" fill="#646b75"/><rect x="23.27" y="30.57" width="2.2" height="2.75" fill="#7a8088"/><rect x="40.85" y="17.04" width="1.29" height="2.85" fill="#dcdcd8"/><rect x="43.95" y="4.08" width="2.12" height="2.54" fill="#a9adb0"/><rect x="42.79" y="51.43" width="2.51" height="3.11" fill="#7a8088"/><rect x="27.32" y="46.49" width="1.52" height="2.37" fill="#a9adb0"/><rect x="15.63" y="38.74" width="2.81" height="2.45" fill="#525a66"/><rect x="12.97" y="28.56" width="1.54" height="2.7" fill="#c4c6c4"/><rect x="4.64" y="32.69" width="2.65" height="2.59" fill="#30374a"/><rect x="35.54" y="8.3" width="1.66" height="2.63" fill="#30374a"/><rect x="11.62" y="23.06" width="1.29" height="2.72" fill="#66725f"/><rect x="2.25" y="42.99" width="1.69" height="1.87" fill="#7a8088"/><rect x="46.69" y="18.86" width="2.92" height="3.39" fill="#c4c6c4"/><rect x="35.13" y="35.24" width="2.34" height="1.05" fill="#7a8088"/><rect x="18.18" y="9.26" width="2.69" height="1.43" fill="#525a66"/><rect x="4.78" y="17.72" width="2.03" height="3.23" fill="#3e4550"/><rect x="38.84" y="12.07" width="3" height="1.93" fill="#a9adb0"/><rect x="33.46" y="40.75" width="3.08" height="2.33" fill="#90959a"/><rect x="18.85" y="21.68" width="3.16" height="1.67" fill="#a9adb0"/></pattern></defs>
<clipPath id="clipb"><polygon points="27.5,340 297,340 297,384.2 328.8,384.2 328.8,581 27.5,581"/></clipPath>
<filter id="blurb" x="0" y="0" width="1" height="1"><feGaussianBlur stdDeviation="0.45"/></filter>
<g clip-path="url(#clipb)"><g filter="url(#blurb)"><rect x="27.5" y="340.0" width="301.3" height="241.0" fill="url(#urb1)"/>
<rect x="245" y="340.0" width="83.80000000000001" height="241.0" fill="url(#urb2)"/>
<polygon points="136,340 168,340 168,375 160,428 141,470 129,510 121,545 115,581 101,581 106,545 111,510 117,470 125,428 132,384" fill="#7f7a7b"/>
<polyline points="136,340 132,384 125,428 117,470 111,510 106,545 101,581" fill="none" stroke="#686264" stroke-width="0.8"/>
<polyline points="139.2,340 135.6,384 128.5,428 119.4,470 112.8,510 107.5,545 102.4,581" fill="none" stroke="#918a8a" stroke-width="0.8"/>
<polyline points="142.4,340 139.2,384 132,428 121.8,470 114.6,510 109,545 103.8,581" fill="none" stroke="#686264" stroke-width="0.8"/>
<polyline points="145.6,340 142.8,384 135.5,428 124.2,470 116.4,510 110.5,545 105.2,581" fill="none" stroke="#918a8a" stroke-width="0.8"/>
<polyline points="148.8,340 146.4,384 139,428 126.6,470 118.2,510 112,545 106.6,581" fill="none" stroke="#686264" stroke-width="0.8"/>
<polyline points="152,340 150,384 142.5,428 129,470 120,510 113.5,545 108,581" fill="none" stroke="#918a8a" stroke-width="0.8"/>
<polyline points="155.2,340 153.6,384 146,428 131.4,470 121.8,510 115,545 109.4,581" fill="none" stroke="#686264" stroke-width="0.8"/>
<polyline points="158.4,340 157.2,384 149.5,428 133.8,470 123.6,510 116.5,545 110.8,581" fill="none" stroke="#918a8a" stroke-width="0.8"/>
<polyline points="161.6,340 160.8,384 153,428 136.2,470 125.4,510 118,545 112.2,581" fill="none" stroke="#686264" stroke-width="0.8"/>
<polyline points="164.8,340 164.4,384 156.5,428 138.6,470 127.2,510 119.5,545 113.6,581" fill="none" stroke="#918a8a" stroke-width="0.8"/>
<polyline points="168,340 168,384 160,428 141,470 129,510 121,545 115,581" fill="none" stroke="#686264" stroke-width="0.8"/>
<rect x="136.4" y="387.3" width="8" height="14" fill="#a9acac"/>
<polyline points="136.4,340 132.9,383.8 127.7,418.8 123.3,448.6 120.7,470 116,500 110,530 104,560 100.5,581" fill="none" stroke="#2c3440" stroke-width="2"/>
<path d="M27.5 378 L112 378.5 Q127 378.5 131 366 L135 340" fill="none" stroke="#8d918a" stroke-width="10"/>
<path d="M27.5 378 L112 378.5 Q127 378.5 131 366 L135 340" fill="none" stroke="#48524f" stroke-width="6.5"/>
<polygon points="27.5,488 50,493 80,503 105,514 125,522 150,530 176,536 170,540 140,538 100,528 66.7,515 27.5,503" fill="#6b8c4c"/>
<polygon points="168,512 212,508 216,510.9 209.9,519 201.7,531.3 191.5,541.5 179.3,547.7 160.9,546.6 148.6,543.6 120,537.4 121,528 150,524" fill="#958f86"/>
<polygon points="118,526 175,527 176,540 150,541 120,536" fill="#8e9679"/>
<polygon points="27.5,527 66.7,537 100,551 140.4,557 181.3,558 214,543 226.3,527 233.4,511 238,512 232,530 218,550 196,561 181,567 140,567.5 100,563.5 66.7,558 27.5,553" fill="#6d8c4f"/>
<polygon points="236,380 246,372 246,420 246,470 244,505 238,513 233,512 233,470 231,420" fill="#587744"/>
<rect x="232.6" y="425" width="6" height="14" fill="#d2cbbd"/><rect x="232.6" y="450" width="6" height="13" fill="#d2cbbd"/>
<polygon points="246,340 266,340 262,352 255,366 249,371 244,366 244,356" fill="#c9bb98"/>
<polygon points="240,366 249,370 254,378 251,396 247,420 240,420 236,396" fill="#46653a"/>
<polygon points="234,340 244,340 233,362 226,374 226,362" fill="#c2b596"/>
<polygon points="226,366 230,368 222,385 218,400 216.5,420 216,470 216,505 212,508 212,470 213,420 215,396 220,378" fill="#7f9a5e"/>
<polygon points="258,340 245,362 238,380 232.6,396 231,420 231,460 233,480 233.4,511 226.3,527 214,543.6 197.7,553.8 181.3,558.9 160.9,559.9 140.4,557.9 120,555.8 100,552 66.7,538 27.5,528.6 27.5,505 66.7,517 100,530 120,537.4 140.4,541.5 148.6,543.6 160.9,546.6 179.3,547.7 191.5,541.5 201.7,531.3 209.9,519 216,510.9 217.1,490 218,470 217,430 219.4,396 225,380 232.6,362 243,340" fill="#43576a"/>
<polyline points="27.5,517 66.7,528 100,541 140,549.5 170,553 192,548 206,537 219,522 225,505 224.5,470 224,430 226,400 231,380 239,362 250.5,340" fill="none" stroke="#3a4b5a" stroke-width="5" opacity="0.55"/>
<polyline points="114,500 108,530 103,555 99.5,581" fill="none" stroke="#33393e" stroke-width="1.5"/>
<polyline points="120,500 114,530 109,555 105.5,581" fill="none" stroke="#33393e" stroke-width="1.5"/>
<polyline points="128,495.5 170,499.7 205.8,506.8 236.5,516 260,521 300,521.5 328.8,522" fill="none" stroke="#a5a7a6" stroke-width="2.4"/>
<polyline points="178,344 190.5,348.3 227.3,360.5" fill="none" stroke="#6f8a52" stroke-width="4"/>
<polyline points="255.3,371 295.6,378" fill="none" stroke="#6f8a52" stroke-width="4"/>
<polyline points="178,344 190.5,348.3 227.3,360.5 255.3,371 297,378.2" fill="none" stroke="#a3a5a2" stroke-width="1.7"/>
<polyline points="27.5,446 55,450 78,455 95,470 113,485 128,495.5" fill="none" stroke="#999b9a" stroke-width="1.5"/>
<polyline points="185,340 186,390 192,420 198,460 199,480 197,499" fill="none" stroke="#909292" stroke-width="1.3"/>
<polyline points="272,384.2 282,440 300,480 318,520 325,560" fill="none" stroke="#8f9191" stroke-width="1.2"/>
<polyline points="27.5,566 100,565 181,567 230,552 260,540 328.8,535" fill="none" stroke="#8f9191" stroke-width="1.2"/>
<rect x="70.2" y="473.7" width="11.7" height="7" fill="#2c3646"/><rect x="55" y="472.5" width="14" height="8" fill="#3a9f86"/><rect x="85.4" y="487.7" width="9.4" height="12.8" fill="#48a68e"/>
<polygon points="89,399 104,398.4 107.3,403 103,411.5 92,411.5 89,405" fill="#d6c9aa"/>
<ellipse cx="93" cy="444.5" rx="5.5" ry="4" fill="#c9bc94"/>
<rect x="95" y="372" width="12" height="6" fill="#70806a" opacity="0.5"/>
<rect x="298" y="415" width="10" height="7" fill="#c8cacb"/>
<rect x="305" y="452" width="14" height="8" fill="#c8cacb"/>
<rect x="300" y="470" width="8" height="5" fill="#c8cacb"/>
<rect x="313" y="430" width="6" height="8" fill="#c8cacb"/>
<rect x="298" y="500" width="8" height="6" fill="#c8cacb"/>
<rect x="316" y="490" width="6" height="8" fill="#c8cacb"/>
<rect x="265" y="440" width="9" height="6" fill="#c8cacb"/>
<rect x="280" y="470" width="7" height="5" fill="#c8cacb"/>
<rect x="320" y="520" width="6" height="5" fill="#c8cacb"/>
<rect x="270" y="488" width="8" height="5" fill="#c8cacb"/>
<rect x="292" y="395" width="9" height="5" fill="#c8cacb"/>
<rect x="118" y="409" width="9" height="9" fill="#c8cacb"/>
<rect x="40" y="343" width="8" height="3" fill="#c8cacb"/>
<rect x="48" y="347" width="8" height="3" fill="#c8cacb"/>
<rect x="90" y="348" width="10" height="3" fill="#c8cacb"/>
<rect x="100" y="350" width="8" height="3" fill="#c8cacb"/>
<rect x="300" y="400" width="8" height="9" fill="#c8cacb"/>
<rect x="310" y="415" width="9" height="7" fill="#c8cacb"/>
<rect x="285" y="455" width="10" height="8" fill="#c8cacb"/>
<rect x="262" y="490" width="8" height="5" fill="#c8cacb"/>
<rect x="240" y="565" width="6" height="5" fill="#c8cacb"/>
<rect x="150" y="360" width="5" height="8" fill="#c8cacb"/>
<rect x="60" y="420" width="5" height="5" fill="#c8cacb"/>
<rect x="200" y="560" width="8" height="4" fill="#c8cacb"/>
<polyline points="318,395 310,426 295,465 283,497 270,530" fill="none" stroke="#9a9c9c" stroke-width="1.3"/>
<rect x="310" y="497" width="5" height="10" fill="#a04848"/><rect x="300" y="459" width="8" height="4" fill="#40a090"/>
<text x="282" y="565" font-family="Liberation Sans" font-size="9" fill="#b8bcbf" opacity="0.8">Google Earth</text>
<rect x="27.5" y="573.2" width="301.3" height="7.8" fill="#4b545a"/>
<line x1="60" y1="577" x2="320" y2="577" stroke="#8b9296" stroke-width="1.4" stroke-dasharray="3,1.5,1,2"/></g></g>
<line x1="166.8" y1="435.3" x2="178.2" y2="385.3" stroke="#ffc000" stroke-width="2.5" stroke-linecap="round" stroke-dasharray="0,4.2"/>
<line x1="166.8" y1="435.3" x2="205.5" y2="468.7" stroke="#ffc000" stroke-width="2.5" stroke-linecap="round" stroke-dasharray="0,4.2"/>
<line x1="166.8" y1="435.3" x2="118.6" y2="448.7" stroke="#ffc000" stroke-width="2.5" stroke-linecap="round" stroke-dasharray="0,4.2"/>
<circle cx="166.8" cy="435.3" r="4.5" fill="#111"/><circle cx="166.8" cy="435.3" r="3.5" fill="#e00000"/><circle cx="166.8" cy="435.3" r="1.4" fill="#1a0000"/>
<circle cx="178.2" cy="385.3" r="4.5" fill="#111"/><circle cx="178.2" cy="385.3" r="3.5" fill="#e00000"/><circle cx="178.2" cy="385.3" r="1.4" fill="#1a0000"/>
<circle cx="205.5" cy="468.7" r="4.5" fill="#111"/><circle cx="205.5" cy="468.7" r="3.5" fill="#e00000"/><circle cx="205.5" cy="468.7" r="1.4" fill="#1a0000"/>
<circle cx="118.6" cy="448.7" r="4.5" fill="#111"/><circle cx="118.6" cy="448.7" r="3.5" fill="#e00000"/><circle cx="118.6" cy="448.7" r="1.4" fill="#1a0000"/>
<circle cx="91.5" cy="365.2" r="4.5" fill="#111"/><circle cx="91.5" cy="365.2" r="3.5" fill="#e00000"/><circle cx="91.5" cy="365.2" r="1.4" fill="#1a0000"/>
<circle cx="267.5" cy="405.7" r="4.5" fill="#111"/><circle cx="267.5" cy="405.7" r="3.5" fill="#e00000"/><circle cx="267.5" cy="405.7" r="1.4" fill="#1a0000"/>
<circle cx="143.3" cy="532.1" r="4.5" fill="#111"/><circle cx="143.3" cy="532.1" r="3.5" fill="#e00000"/><circle cx="143.3" cy="532.1" r="1.4" fill="#1a0000"/>
<text x="76.6" y="383.2" font-family="Liberation Sans" font-size="12.6" font-weight="bold" fill="#f2f2f2" stroke="#262626" stroke-width="1.8" stroke-opacity="0.85" paint-order="stroke" textLength="20.6" lengthAdjust="spacingAndGlyphs">LL5</text>
<text x="147.8" y="394.2" font-family="Liberation Sans" font-size="12.6" font-weight="bold" fill="#f2f2f2" stroke="#262626" stroke-width="1.8" stroke-opacity="0.85" paint-order="stroke" textLength="20.6" lengthAdjust="spacingAndGlyphs">LL2</text>
<text x="269.2" y="413.1" font-family="Liberation Sans" font-size="12.6" font-weight="bold" fill="#f2f2f2" stroke="#262626" stroke-width="1.8" stroke-opacity="0.85" paint-order="stroke" textLength="20.6" lengthAdjust="spacingAndGlyphs">LL6</text>
<text x="169.4" y="443.5" font-family="Liberation Sans" font-size="12.6" font-weight="bold" fill="#f2f2f2" stroke="#262626" stroke-width="1.8" stroke-opacity="0.85" paint-order="stroke" textLength="20.6" lengthAdjust="spacingAndGlyphs">LL1</text>
<text x="87.4" y="458.5" font-family="Liberation Sans" font-size="12.6" font-weight="bold" fill="#f2f2f2" stroke="#262626" stroke-width="1.8" stroke-opacity="0.85" paint-order="stroke" textLength="20.6" lengthAdjust="spacingAndGlyphs">LL4</text>
<text x="190.8" y="487.3" font-family="Liberation Sans" font-size="12.6" font-weight="bold" fill="#f2f2f2" stroke="#262626" stroke-width="1.8" stroke-opacity="0.85" paint-order="stroke" textLength="20.6" lengthAdjust="spacingAndGlyphs">LL3</text>
<text x="144.8" y="543.8" font-family="Liberation Sans" font-size="12.6" font-weight="bold" fill="#f2f2f2" stroke="#262626" stroke-width="1.8" stroke-opacity="0.85" paint-order="stroke" textLength="20.6" lengthAdjust="spacingAndGlyphs">LL7</text>
<rect x="223.4" y="548.8" width="96.8" height="5.5" fill="#f7b500"/>
<text x="254.8" y="546.6" font-family="Liberation Sans" font-size="13.5" fill="#f7b500" text-anchor="start" textLength="44.84" lengthAdjust="spacingAndGlyphs" style="white-space:pre" >500 m</text>
<text x="299.6" y="369.8" font-family="Liberation Sans" font-size="22.5" fill="#000" text-anchor="start" textLength="26.3" lengthAdjust="spacingAndGlyphs" style="white-space:pre" >(b)</text>
<clipPath id="clipc"><rect x="399.3" y="364.1" width="255.09999999999997" height="144.2"/></clipPath>
<g clip-path="url(#clipc)"><line x1="399.3" y1="460.4" x2="654.4" y2="460.4" stroke="#000" stroke-width="1" />
<line x1="410.78" y1="501.2" x2="590.94" y2="501.2" stroke="#000" stroke-width="2.3" />
<line x1="410.78" y1="505.6" x2="428" y2="505.6" stroke="#999" stroke-width="1.2" />
<polyline points="399.3,389.14 400,384.44 400.7,380.67 401.4,377.17 402.11,372.47 402.81,368.81 403.51,365.41 404.21,364.1 404.91,364.88 405.61,364.75 406.32,364.1 407.02,364.1 407.72,364.1 408.42,364.82 409.12,364.12 409.82,364.1 410.52,365.14 411.23,364.45 411.93,365.56 412.63,365.09 413.33,365.52 414.03,364.6 414.73,366.28 415.44,365.88 416.14,367.95 416.84,370.98 417.54,379.94 418.24,376.57 418.94,377.93 419.64,381.46 420.35,390.93 421.05,392.81 421.75,398.81 422.45,402.02 423.15,399.86 423.85,408.31 424.55,408.96 425.26,409.04 425.96,415.86 426.66,416.96 427.36,418.67 428.06,421.09 428.76,427.04 429.47,425.46 430.17,423.86 430.87,434.28 431.57,429.25 432.27,433.21 432.97,437.11 433.67,431.05 434.38,436.05 435.08,443.01 435.78,440.54 436.48,440.21 437.18,443.48 437.88,441.94 438.59,445.04 439.29,443.79 439.99,442.36 440.69,449.1 441.39,447.11 442.09,449.59 442.79,448.5 443.5,453.08 444.2,452.34 444.9,453.1 445.6,452.91 446.3,455.56 447,465.69 447.71,466.48 448.41,464.42 449.11,474.03 449.81,471.5 450.51,472.28 451.21,470.2 451.91,473.71 452.62,478.57 453.32,480.63 454.02,482.22 454.72,478.98 455.42,486.4 456.12,487.7 456.83,487.3 457.53,489.98 458.23,491.49 458.93,495.45 459.63,493.55 460.33,496.01 461.03,492.44 461.74,494.83 462.44,497.48 463.14,495.91 463.84,498.94 464.54,494.92 465.24,497.97 465.94,496.27 466.65,501.69 467.35,496.96 468.05,502.83 468.75,503.84 469.45,498.84 470.15,500.56 470.86,497.47 471.56,491.21 472.26,499.5 472.96,498.01 473.66,494.49 474.36,492.35 475.06,492.83 475.77,491.38 476.47,487.18 477.17,486.14 477.87,489.11 478.57,484.71 479.27,482.53 479.98,483.67 480.68,477.77 481.38,478.83 482.08,471.37 482.78,471.5 483.48,469.77 484.18,469.78 484.89,466.45 485.59,479.55 486.29,470.93 486.99,457.48 487.69,474.75 488.39,449.91 489.1,467.98 489.8,446.81 490.5,457.28 491.2,442.85 491.9,445.87 492.6,456.76 493.3,433.4 494.01,430.16 494.71,440.23 495.41,442.58 496.11,439.46 496.81,450.64 497.51,417.33 498.22,467.97 498.92,432.42 499.62,442.64 500.32,438.95 501.02,447.99 501.72,408.06 502.42,429.09 503.13,411.3 503.83,425.65 504.53,436.43 505.23,430.77 505.93,434.36 506.63,425.61 507.33,431.51 508.04,430.35 508.74,446.97 509.44,438.16 510.14,400.25 510.84,436.07 511.54,441.97 512.25,420.53 512.95,404.05 513.65,448.14 514.35,428.96 515.05,435.59 515.75,453.21 516.45,415.08 517.16,427.19 517.86,426.24 518.56,439.51 519.26,421.56 519.96,437.58 520.66,432.22 521.37,447.87 522.07,450.33 522.77,411.82 523.47,441.03 524.17,429.58 524.87,435.64 525.57,443.12 526.28,445.49 526.98,429.41 527.68,445.31 528.38,444.58 529.08,443.53 529.78,450.5 530.49,436.63 531.19,442.78 531.89,458.84 532.59,459.49 533.29,445.03 533.99,446.07 534.69,456.26 535.4,451.77 536.1,450.88 536.8,451.51 537.5,451.79 538.2,464.07 538.9,448.94 539.61,472.53 540.31,456.26 541.01,460.24 541.71,458.1 542.41,426.81 543.11,455 543.81,477.45 544.52,482.83 545.22,463.23 545.92,479.12 546.62,471.81 547.32,465.71 548.02,486.91 548.72,475.23 549.43,473.04 550.13,475.71 550.83,479.06 551.53,477.75 552.23,486.15 552.93,492.52 553.64,482.5 554.34,490.04 555.04,496.42 555.74,479.6 556.44,484.9 557.14,457.99 557.84,493.37 558.55,490.81 559.25,493.59 559.95,492.56 560.65,483.5 561.35,491.24 562.05,481.57 562.76,481.3 563.46,467.05 564.16,494.52 564.86,475.32 565.56,482.75 566.26,481.54 566.96,492.69 567.67,483.98 568.37,473.52 569.07,479.58 569.77,489.15 570.47,479.49 571.17,466.6 571.88,475.1 572.58,491.75 573.28,478.18 573.98,487.4 574.68,496.68 575.38,473.21 576.08,456.82 576.79,466.28 577.49,475.29 578.19,472.53 578.89,454.72 579.59,461.82 580.29,486.84 580.99,461.85 581.7,460.27 582.4,453.2 583.1,454.51 583.8,456.55 584.5,466.19 585.2,452.86 585.91,462.1 586.61,447.08 587.31,466.05 588.01,456.45 588.71,455.09 589.41,465.6 590.11,440.4 590.82,442.3 591.52,457.83 592.22,447.51 592.92,450.54 593.62,460.79 594.32,451.23 595.03,453.62 595.73,452.28 596.43,461.63 597.13,454.87 597.83,453.98 598.53,442.65 599.23,449.49 599.94,452.13 600.64,439.42 601.34,456.34 602.04,454.84 602.74,466.39 603.44,438.55 604.15,443.38 604.85,443.66 605.55,445.6 606.25,450.08 606.95,449.15 607.65,452.91 608.35,452.47 609.06,450.34 609.76,438.4 610.46,446.25 611.16,451.37 611.86,455.78 612.56,456.43 613.27,438.35 613.97,447.59 614.67,451.48 615.37,455.19 616.07,480.35 616.77,453.59 617.47,446.25 618.18,456.97 618.88,455.97 619.58,456.25 620.28,453.87 620.98,468.1 621.68,457.25 622.38,462.54 623.09,448.5 623.79,440.46 624.49,451.34 625.19,443.72 625.89,458.88 626.59,461.36 627.3,454.98 628,456.67 628.7,464.89 629.4,453.1 630.1,440.5 630.8,459.24 631.5,458.94 632.21,466 632.91,455.02 633.61,468.06 634.31,467.15 635.01,447.89 635.71,466.21 636.42,450.9 637.12,448.69 637.82,460.8 638.52,460.38 639.22,451.03 639.92,470.73 640.62,475.98 641.33,483.98 642.03,474 642.73,463.24 643.43,467.94 644.13,483.33 644.83,481.97 645.54,478.05 646.24,470.22 646.94,472.8 647.64,467.8 648.34,465.6 649.04,469.08 649.74,485.19 650.45,462.88 651.15,464.4 651.85,458.78 652.55,446.83 653.25,456.59 653.95,460.33" fill="none" stroke="#000" stroke-width="1.1" stroke-linejoin="round" />
<polyline points="399.3,364.1 399.64,364.1 399.98,364.1 400.32,364.1 400.66,364.1 401,364.1 401.34,364.1 401.68,364.1 402.02,364.1 402.36,364.1 402.7,364.1 403.04,364.1 403.38,364.1 403.72,364.1 404.06,364.1 404.4,364.1 404.74,364.1 405.08,364.1 405.42,364.1 405.76,364.1 406.1,364.1 406.44,364.1 406.78,364.1 407.12,364.1 407.46,364.13 407.8,364.17 408.14,364.24 408.48,364.32 408.82,364.43 409.16,364.54 409.5,364.67 409.84,364.81 410.18,364.96 410.52,365.11 410.86,365.27 411.2,365.44 411.54,365.6 411.88,365.76 412.22,365.93 412.56,366.1 412.9,366.3 413.24,366.51 413.58,366.76 413.92,367.05 414.26,367.39 414.6,367.78 414.94,368.23 415.28,368.76 415.62,369.36 415.96,370.12 416.3,372.63 416.64,376 416.98,378.45 417.32,380.5 417.66,382.47 418,384.36 418.34,386.18 418.68,387.93 419.02,389.63 419.36,391.26 419.7,392.85 420.04,394.38 420.38,395.88 420.72,397.33 421.06,398.75 421.4,400.14 421.74,401.51 422.08,402.85 422.42,404.19 422.76,405.51 423.1,406.82 423.44,408.14 423.78,409.45 424.12,410.78 424.46,412.12 424.8,413.45 425.14,414.77 425.48,416.06 425.82,417.34 426.16,418.59 426.5,419.83 426.84,421.06 427.18,422.27 427.52,423.46 427.86,424.65 428.2,425.82 428.54,426.99 428.88,428.15 429.22,429.3 429.56,430.45 429.9,431.6 430.24,432.75 430.58,433.89 430.92,435.04 431.26,436.19 431.6,437.34 431.94,438.5 432.28,439.67 432.62,440.83 432.96,442 433.3,443.16 433.64,444.31 433.98,445.47 434.32,446.62 434.66,447.77 435,448.91 435.34,450.06 435.68,451.19 436.02,452.33 436.36,453.46 436.7,454.58 437.04,455.7 437.38,456.82 437.72,457.93 438.06,459.04 438.4,460.16 438.74,461.31 439.08,462.47 439.42,463.64 439.76,464.82 440.1,466 440.44,467.19 440.78,468.36 441.12,469.54 441.46,470.7 441.8,471.85 442.14,472.98 442.48,474.09 442.82,475.18 443.16,476.23 443.5,477.26 443.84,478.25 444.18,479.2 444.52,480.11 444.86,480.97 445.19,481.79 445.53,482.54 445.87,483.27 446.21,484 446.55,484.71 446.89,485.42 447.23,486.12 447.57,486.8 447.91,487.47 448.25,488.13 448.59,488.77 448.93,489.39 449.27,490 449.61,490.58 449.95,491.14 450.29,491.68 450.63,492.19 450.97,492.67 451.31,493.13 451.65,493.55 451.99,493.95 452.33,494.31 452.67,494.64 453.01,494.93 453.35,495.19 453.69,495.44 454.03,495.69 454.37,495.94 454.71,496.18 455.05,496.42 455.39,496.65 455.73,496.88 456.07,497.1 456.41,497.3 456.75,497.51 457.09,497.7 457.43,497.88 457.77,498.04 458.11,498.2 458.45,498.34 458.79,498.47 459.13,498.59 459.47,498.69 459.81,498.77 460.15,498.83 460.49,498.88 460.83,498.91 461.17,498.92 461.51,498.91 461.85,498.88 462.19,498.83 462.53,498.76 462.87,498.68 463.21,498.58 463.55,498.46 463.89,498.33 464.23,498.19 464.57,498.03 464.91,497.86 465.25,497.68 465.59,497.49 465.93,497.29 466.27,497.08 466.61,496.86 466.95,496.64 467.29,496.4 467.63,496.17 467.97,495.92 468.31,495.68 468.65,495.43 468.99,495.17 469.33,494.91 469.67,494.61 470.01,494.27 470.35,493.88 470.69,493.46 471.03,493.01 471.37,492.52 471.71,492.01 472.05,491.47 472.39,490.91 472.73,490.32 473.07,489.71 473.41,489.09 473.75,488.45 474.09,487.81 474.43,487.15 474.77,486.49 475.11,485.82 475.45,485.15 475.79,484.48 476.13,483.81 476.47,483.15 476.81,482.5 477.15,481.84 477.49,481.14 477.83,480.41 478.17,479.66 478.51,478.89 478.85,478.09 479.19,477.28 479.53,476.45 479.87,475.61 480.21,474.75 480.55,473.89 480.89,473.03 481.23,472.16 481.57,471.29 481.91,470.42 482.25,469.55 482.59,468.7 482.93,467.85 483.27,467.01 483.61,466.19 483.95,465.39 484.29,464.6 484.63,463.84 484.97,463.1 485.31,462.39 485.65,461.71 485.99,461.05 486.33,460.44 486.67,459.85 487.01,459.26 487.35,458.69 487.69,458.12 488.03,457.55 488.37,457 488.71,456.45 489.05,455.91 489.39,455.38 489.73,454.85 490.07,454.33 490.41,453.82 490.75,453.31 491.09,452.82 491.43,452.33 491.77,451.84 492.11,451.37 492.45,450.9 492.79,450.43 493.13,449.98 493.47,449.53 493.81,449.09 494.15,448.65 494.49,448.22 494.83,447.8 495.17,447.38 495.51,446.98 495.85,446.57 496.19,446.18 496.53,445.79 496.87,445.41 497.21,445.03 497.55,444.67 497.89,444.3 498.23,443.95 498.57,443.59 498.91,443.23 499.25,442.86 499.59,442.49 499.93,442.12 500.27,441.74 500.61,441.36 500.95,440.98 501.29,440.6 501.63,440.22 501.97,439.84 502.31,439.46 502.65,439.09 502.99,438.71 503.33,438.34 503.67,437.97 504.01,437.61 504.35,437.25 504.69,436.9 505.03,436.55 505.37,436.21 505.71,435.87 506.05,435.54 506.39,435.23 506.73,434.92 507.07,434.62 507.41,434.33 507.75,434.05 508.09,433.78 508.43,433.52 508.77,433.28 509.11,433.05 509.45,432.83 509.79,432.63 510.13,432.44 510.47,432.27 510.81,432.11 511.15,431.97 511.49,431.85 511.83,431.74 512.17,431.66 512.51,431.59 512.85,431.54 513.19,431.52 513.53,431.51 513.87,431.52 514.21,431.56 514.55,431.61 514.89,431.67 515.23,431.76 515.57,431.86 515.91,431.97 516.25,432.1 516.59,432.24 516.93,432.4 517.27,432.57 517.61,432.75 517.95,432.94 518.29,433.14 518.63,433.36 518.97,433.58 519.31,433.81 519.65,434.04 519.99,434.29 520.33,434.54 520.67,434.8 521.01,435.06 521.35,435.33 521.69,435.6 522.03,435.87 522.37,436.15 522.71,436.43 523.05,436.71 523.39,436.99 523.73,437.27 524.07,437.55 524.41,437.82 524.75,438.1 525.09,438.37 525.43,438.66 525.77,438.96 526.11,439.27 526.45,439.59 526.79,439.93 527.13,440.27 527.47,440.63 527.81,441 528.15,441.38 528.49,441.77 528.83,442.17 529.17,442.58 529.51,443 529.85,443.42 530.19,443.85 530.53,444.29 530.87,444.74 531.21,445.2 531.55,445.66 531.89,446.12 532.23,446.6 532.57,447.07 532.91,447.55 533.25,448.04 533.59,448.53 533.93,449.02 534.27,449.52 534.61,450.02 534.95,450.52 535.29,451.02 535.63,451.52 535.97,452.03 536.31,452.53 536.65,453.04 536.98,453.57 537.32,454.13 537.66,454.7 538,455.28 538.34,455.89 538.68,456.5 539.02,457.12 539.36,457.76 539.7,458.4 540.04,459.04 540.38,459.68 540.72,460.32 541.06,460.97 541.4,461.6 541.74,462.23 542.08,462.85 542.42,463.46 542.76,464.05 543.1,464.63 543.44,465.2 543.78,465.74 544.12,466.26 544.46,466.78 544.8,467.3 545.14,467.82 545.48,468.35 545.82,468.88 546.16,469.4 546.5,469.93 546.84,470.45 547.18,470.97 547.52,471.49 547.86,472 548.2,472.5 548.54,473 548.88,473.48 549.22,473.96 549.56,474.42 549.9,474.87 550.24,475.31 550.58,475.74 550.92,476.14 551.26,476.53 551.6,476.91 551.94,477.26 552.28,477.59 552.62,477.91 552.96,478.2 553.3,478.46 553.64,478.7 553.98,478.93 554.32,479.16 554.66,479.39 555,479.61 555.34,479.84 555.68,480.06 556.02,480.28 556.36,480.49 556.7,480.7 557.04,480.91 557.38,481.1 557.72,481.3 558.06,481.48 558.4,481.66 558.74,481.83 559.08,481.99 559.42,482.14 559.76,482.29 560.1,482.42 560.44,482.54 560.78,482.65 561.12,482.74 561.46,482.83 561.8,482.9 562.14,482.95 562.48,482.99 562.82,483.02 563.16,483.03 563.5,483.03 563.84,483.01 564.18,482.99 564.52,482.96 564.86,482.91 565.2,482.86 565.54,482.8 565.88,482.72 566.22,482.64 566.56,482.55 566.9,482.44 567.24,482.33 567.58,482.2 567.92,482.06 568.26,481.91 568.6,481.76 568.94,481.59" fill="none" stroke="#ff2020" stroke-width="0.8" stroke-linejoin="round" />
<polyline points="399.3,364.1 399.64,364.1 399.98,364.1 400.32,364.1 400.66,364.1 401,364.1 401.34,364.1 401.68,364.1 402.02,364.1 402.36,364.1 402.7,364.1 403.04,364.1 403.38,364.1 403.72,364.1 404.06,364.1 404.4,364.1 404.74,364.1 405.08,364.1 405.42,364.1 405.76,364.1 406.1,364.1 406.44,364.1 406.78,364.1 407.12,364.1 407.46,364.13 407.8,364.17 408.14,364.24 408.48,364.32 408.82,364.43 409.16,364.54 409.5,364.67 409.84,364.81 410.18,364.96 410.52,365.11 410.86,365.27 411.2,365.44 411.54,365.61 411.88,365.8 412.22,366.04 412.56,366.3 412.9,366.59 413.24,366.91 413.58,367.25 413.92,367.61 414.26,367.99 414.6,368.37 414.94,368.77 415.28,369.17 415.62,369.57 415.96,369.97 416.3,370.37 416.64,370.77 416.98,371.18 417.32,371.6 417.66,372.03 418,372.48 418.34,372.95 418.68,373.44 419.02,373.95 419.36,374.49 419.7,375.07 420.04,375.68 420.38,376.33 420.72,377.01 421.06,377.75 421.4,378.6 421.74,379.6 422.08,380.73 422.42,381.99 422.76,383.35 423.1,384.81 423.44,386.35 423.78,387.97 424.12,389.65 424.46,391.38 424.8,393.15 425.14,394.95 425.48,396.76 425.82,398.58 426.16,400.39 426.5,402.18 426.84,403.94 427.18,405.65 427.52,407.31 427.86,408.91 428.2,410.42 428.54,411.85 428.88,413.2 429.22,414.52 429.56,415.81 429.9,417.09 430.24,418.35 430.58,419.59 430.92,420.82 431.26,422.03 431.6,423.23 431.94,424.42 432.28,425.6 432.62,426.77 432.96,427.93 433.3,429.08 433.64,430.23 433.98,431.38 434.32,432.53 434.66,433.67 435,434.82 435.34,435.97 435.68,437.12 436.02,438.28 436.36,439.44 436.7,440.61 437.04,441.77 437.38,442.93 437.72,444.09 438.06,445.25 438.4,446.4 438.74,447.55 439.08,448.69 439.42,449.83 439.76,450.97 440.1,452.11 440.44,453.24 440.78,454.36 441.12,455.48 441.46,456.6 441.8,457.71 442.14,458.82 442.48,459.94 442.82,461.09 443.16,462.24 443.5,463.41 443.84,464.59 444.18,465.77 444.52,466.96 444.86,468.14 445.19,469.31 445.53,470.48 445.87,471.63 446.21,472.76 446.55,473.88 446.89,474.97 447.23,476.03 447.57,477.06 447.91,478.06 448.25,479.02 448.59,479.94 448.93,480.81 449.27,481.63 449.61,482.4 449.95,483.13 450.29,483.86 450.63,484.58 450.97,485.28 451.31,485.98 451.65,486.67 451.99,487.35 452.33,488 452.67,488.65 453.01,489.27 453.35,489.88 453.69,490.47 454.03,491.03 454.37,491.57 454.71,492.09 455.05,492.58 455.39,493.04 455.73,493.47 456.07,493.87 456.41,494.24 456.75,494.58 457.09,494.88 457.43,495.14 457.77,495.39 458.11,495.65 458.45,495.89 458.79,496.14 459.13,496.38 459.47,496.61 459.81,496.83 460.15,497.05 460.49,497.26 460.83,497.47 461.17,497.66 461.51,497.84 461.85,498.01 462.19,498.17 462.53,498.32 462.87,498.45 463.21,498.57 463.55,498.67 463.89,498.75 464.23,498.82 464.57,498.87 464.91,498.91 465.25,498.92 465.59,498.91 465.93,498.89 466.27,498.84 466.61,498.78 466.95,498.7 467.29,498.6 467.63,498.49 467.97,498.36 468.31,498.22 468.65,498.06 468.99,497.9 469.33,497.72 469.67,497.53 470.01,497.33 470.35,497.12 470.69,496.91 471.03,496.68 471.37,496.45 471.71,496.21 472.05,495.97 472.39,495.73 472.73,495.48 473.07,495.22 473.41,494.97 473.75,494.67 474.09,494.34 474.43,493.96 474.77,493.55 475.11,493.1 475.45,492.62 475.79,492.11 476.13,491.58 476.47,491.02 476.81,490.43 477.15,489.83 477.49,489.21 477.83,488.58 478.17,487.93 478.51,487.28 478.85,486.61 479.19,485.95 479.53,485.28 479.87,484.61 480.21,483.94 480.55,483.28 480.89,482.63 481.23,481.97 481.57,481.29 481.91,480.6 482.25,479.88 482.59,479.15 482.93,478.4 483.27,477.64 483.61,476.87 483.95,476.08 484.29,475.28 484.63,474.47 484.97,473.66 485.31,472.84 485.65,472.01 485.99,471.18 486.33,470.34 486.67,469.51 487.01,468.67 487.35,467.84 487.69,467.01 488.03,466.18 488.37,465.36 488.71,464.54 489.05,463.73 489.39,462.93 489.73,462.14 490.07,461.36 490.41,460.6 490.75,459.84 491.09,459.06 491.43,458.26 491.77,457.45 492.11,456.63 492.45,455.81 492.79,454.98 493.13,454.15 493.47,453.32 493.81,452.5 494.15,451.69 494.49,450.9 494.83,450.12 495.17,449.36 495.51,448.62 495.85,447.91 496.19,447.23 496.53,446.58 496.87,445.96 497.21,445.39 497.55,444.86 497.89,444.37 498.23,443.93 498.57,443.51 498.91,443.09 499.25,442.67 499.59,442.25 499.93,441.83 500.27,441.42 500.61,441.01 500.95,440.6 501.29,440.2 501.63,439.8 501.97,439.4 502.31,439.01 502.65,438.63 502.99,438.25 503.33,437.88 503.67,437.51 504.01,437.15 504.35,436.8 504.69,436.46 505.03,436.12 505.37,435.79 505.71,435.48 506.05,435.17 506.39,434.87 506.73,434.58 507.07,434.3 507.41,434.03 507.75,433.77 508.09,433.53 508.43,433.29 508.77,433.07 509.11,432.87 509.45,432.67 509.79,432.49 510.13,432.32 510.47,432.17 510.81,432.03 511.15,431.91 511.49,431.8 511.83,431.71 512.17,431.64 512.51,431.58 512.85,431.54 513.19,431.52 513.53,431.51 513.87,431.52 514.21,431.56 514.55,431.61 514.89,431.67 515.23,431.76 515.57,431.86 515.91,431.97 516.25,432.1 516.59,432.24 516.93,432.4 517.27,432.57 517.61,432.75 517.95,432.94 518.29,433.14 518.63,433.36 518.97,433.58 519.31,433.81 519.65,434.04 519.99,434.29 520.33,434.54 520.67,434.8 521.01,435.06 521.35,435.33 521.69,435.6 522.03,435.87 522.37,436.15 522.71,436.43 523.05,436.71 523.39,436.99 523.73,437.27 524.07,437.55 524.41,437.82 524.75,438.1 525.09,438.37 525.43,438.66 525.77,438.96 526.11,439.27 526.45,439.59 526.79,439.93 527.13,440.27 527.47,440.63 527.81,441 528.15,441.38 528.49,441.77 528.83,442.17 529.17,442.58 529.51,443 529.85,443.42 530.19,443.85 530.53,444.29 530.87,444.74 531.21,445.2 531.55,445.66 531.89,446.12 532.23,446.6 532.57,447.07 532.91,447.55 533.25,448.04 533.59,448.53 533.93,449.02 534.27,449.52 534.61,450.02 534.95,450.52 535.29,451.02 535.63,451.52 535.97,452.03 536.31,452.53 536.65,453.04 536.98,453.57 537.32,454.13 537.66,454.7 538,455.28 538.34,455.89 538.68,456.5 539.02,457.12 539.36,457.76 539.7,458.4 540.04,459.04 540.38,459.68 540.72,460.32 541.06,460.97 541.4,461.6 541.74,462.23 542.08,462.85 542.42,463.46 542.76,464.05 543.1,464.63 543.44,465.2 543.78,465.74 544.12,466.26 544.46,466.78 544.8,467.3 545.14,467.82 545.48,468.35 545.82,468.88 546.16,469.4 546.5,469.93 546.84,470.45 547.18,470.97 547.52,471.49 547.86,472 548.2,472.5 548.54,473 548.88,473.48 549.22,473.96 549.56,474.42 549.9,474.87 550.24,475.31 550.58,475.74 550.92,476.14 551.26,476.53 551.6,476.91 551.94,477.26 552.28,477.59 552.62,477.91 552.96,478.2 553.3,478.46 553.64,478.7 553.98,478.93 554.32,479.16 554.66,479.39 555,479.61 555.34,479.84 555.68,480.06 556.02,480.28 556.36,480.49 556.7,480.7 557.04,480.91 557.38,481.1 557.72,481.3 558.06,481.48 558.4,481.66 558.74,481.83 559.08,481.99 559.42,482.14 559.76,482.29 560.1,482.42 560.44,482.54 560.78,482.65 561.12,482.74 561.46,482.83 561.8,482.9 562.14,482.95 562.48,482.99 562.82,483.02 563.16,483.03 563.5,483.03 563.84,483.01 564.18,482.99 564.52,482.96 564.86,482.91 565.2,482.86 565.54,482.8 565.88,482.72 566.22,482.64 566.56,482.55 566.9,482.44 567.24,482.33 567.58,482.2 567.92,482.06 568.26,481.91 568.6,481.76 568.94,481.59" fill="none" stroke="#ff2020" stroke-width="0.8" stroke-linejoin="round" />
<polyline points="399.3,364.1 399.64,364.1 399.98,364.1 400.32,364.1 400.66,364.1 401,364.1 401.34,364.1 401.68,364.1 402.02,364.1 402.36,364.1 402.7,364.1 403.04,364.1 403.38,364.1 403.72,364.1 404.06,364.1 404.4,364.1 404.74,364.1 405.08,364.1 405.42,364.1 405.76,364.1 406.1,364.1 406.44,364.1 406.78,364.1 407.12,364.1 407.46,364.13 407.8,364.17 408.14,364.24 408.48,364.32 408.82,364.43 409.16,364.54 409.5,364.67 409.84,364.81 410.18,364.96 410.52,365.11 410.86,365.27 411.2,365.44 411.54,365.61 411.88,365.79 412.22,366.01 412.56,366.25 412.9,366.51 413.24,366.81 413.58,367.12 413.92,367.46 414.26,367.83 414.6,368.21 414.94,368.62 415.28,369.06 415.62,369.51 415.96,369.99 416.3,370.54 416.64,371.18 416.98,371.91 417.32,372.7 417.66,373.56 418,374.47 418.34,375.42 418.68,376.41 419.02,377.42 419.36,378.49 419.7,379.66 420.04,380.91 420.38,382.26 420.72,383.68 421.06,385.16 421.4,386.71 421.74,388.3 422.08,389.94 422.42,391.62 422.76,393.32 423.1,395.03 423.44,396.76 423.78,398.49 424.12,400.21 424.46,401.91 424.8,403.59 425.14,405.24 425.48,406.84 425.82,408.4 426.16,409.9 426.5,411.34 426.84,412.7 427.18,414.03 427.52,415.33 427.86,416.62 428.2,417.89 428.54,419.13 428.88,420.37 429.22,421.58 429.56,422.79 429.9,423.98 430.24,425.16 430.58,426.33 430.92,427.5 431.26,428.65 431.6,429.8 431.94,430.95 432.28,432.1 432.62,433.24 432.96,434.39 433.3,435.54 433.64,436.69 433.98,437.85 434.32,439.01 434.66,440.17 435,441.34 435.34,442.5 435.68,443.66 436.02,444.82 436.36,445.97 436.7,447.12 437.04,448.27 437.38,449.41 437.72,450.55 438.06,451.69 438.4,452.82 438.74,453.94 439.08,455.07 439.42,456.19 439.76,457.3 440.1,458.41 440.44,459.52 440.78,460.66 441.12,461.81 441.46,462.98 441.8,464.15 442.14,465.33 442.48,466.52 442.82,467.7 443.16,468.88 443.5,470.04 443.84,471.2 444.18,472.34 444.52,473.47 444.86,474.57 445.19,475.64 445.53,476.68 445.87,477.69 446.21,478.67 446.55,479.6 446.89,480.49 447.23,481.33 447.57,482.12 447.91,482.86 448.25,483.59 448.59,484.31 448.93,485.02 449.27,485.72 449.61,486.42 449.95,487.1 450.29,487.76 450.63,488.41 450.97,489.04 451.31,489.66 451.65,490.25 451.99,490.83 452.33,491.38 452.67,491.9 453.01,492.4 453.35,492.87 453.69,493.32 454.03,493.73 454.37,494.11 454.71,494.46 455.05,494.77 455.39,495.05 455.73,495.3 456.07,495.55 456.41,495.8 456.75,496.05 457.09,496.29 457.43,496.52 457.77,496.75 458.11,496.97 458.45,497.19 458.79,497.39 459.13,497.59 459.47,497.78 459.81,497.95 460.15,498.11 460.49,498.26 460.83,498.4 461.17,498.52 461.51,498.63 461.85,498.72 462.19,498.8 462.53,498.86 462.87,498.9 463.21,498.92 463.55,498.92 463.89,498.9 464.23,498.86 464.57,498.8 464.91,498.73 465.25,498.64 465.59,498.53 465.93,498.41 466.27,498.27 466.61,498.12 466.95,497.96 467.29,497.79 467.63,497.6 467.97,497.41 468.31,497.2 468.65,496.99 468.99,496.77 469.33,496.54 469.67,496.3 470.01,496.06 470.35,495.82 470.69,495.57 471.03,495.32 471.37,495.06 471.71,494.79 472.05,494.46 472.39,494.1 472.73,493.7 473.07,493.27 473.41,492.8 473.75,492.3 474.09,491.78 474.43,491.23 474.77,490.65 475.11,490.06 475.45,489.45 475.79,488.82 476.13,488.17 476.47,487.52 476.81,486.86 477.15,486.2 477.49,485.53 477.83,484.86 478.17,484.19 478.51,483.53 478.85,482.87 479.19,482.22 479.53,481.54 479.87,480.84 480.21,480.12 480.55,479.37 480.89,478.61 481.23,477.83 481.57,477.03 481.91,476.22 482.25,475.4 482.59,474.56 482.93,473.72 483.27,472.88 483.61,472.03 483.95,471.18 484.29,470.33 484.63,469.48 484.97,468.63 485.31,467.79 485.65,466.96 485.99,466.14 486.33,465.33 486.67,464.53 487.01,463.75 487.35,462.99 487.69,462.25 488.03,461.53 488.37,460.83 488.71,460.15 489.05,459.48 489.39,458.81 489.73,458.14 490.07,457.47 490.41,456.81 490.75,456.14 491.09,455.49 491.43,454.83 491.77,454.18 492.11,453.54 492.45,452.9 492.79,452.27 493.13,451.65 493.47,451.04 493.81,450.44 494.15,449.85 494.49,449.27 494.83,448.71 495.17,448.16 495.51,447.62 495.85,447.1 496.19,446.59 496.53,446.1 496.87,445.63 497.21,445.18 497.55,444.75 497.89,444.33 498.23,443.94 498.57,443.55 498.91,443.16 499.25,442.77 499.59,442.38 499.93,441.98 500.27,441.59 500.61,441.19 500.95,440.8 501.29,440.41 501.63,440.02 501.97,439.63 502.31,439.25 502.65,438.87 502.99,438.49 503.33,438.12 503.67,437.75 504.01,437.39 504.35,437.04 504.69,436.69 505.03,436.35 505.37,436.01 505.71,435.68 506.05,435.36 506.39,435.06 506.73,434.76 507.07,434.47 507.41,434.19 507.75,433.92 508.09,433.66 508.43,433.41 508.77,433.18 509.11,432.96 509.45,432.76 509.79,432.56 510.13,432.38 510.47,432.22 510.81,432.07 511.15,431.94 511.49,431.83 511.83,431.73 512.17,431.65 512.51,431.59 512.85,431.54 513.19,431.52 513.53,431.51 513.87,431.52 514.21,431.56 514.55,431.61 514.89,431.67 515.23,431.76 515.57,431.86 515.91,431.97 516.25,432.1 516.59,432.24 516.93,432.4 517.27,432.57 517.61,432.75 517.95,432.94 518.29,433.14 518.63,433.36 518.97,433.58 519.31,433.81 519.65,434.04 519.99,434.29 520.33,434.54 520.67,434.8 521.01,435.06 521.35,435.33 521.69,435.6 522.03,435.87 522.37,436.15 522.71,436.43 523.05,436.71 523.39,436.99 523.73,437.27 524.07,437.55 524.41,437.82 524.75,438.1 525.09,438.37 525.43,438.66 525.77,438.96 526.11,439.27 526.45,439.59 526.79,439.93 527.13,440.27 527.47,440.63 527.81,441 528.15,441.38 528.49,441.77 528.83,442.17 529.17,442.58 529.51,443 529.85,443.42 530.19,443.85 530.53,444.29 530.87,444.74 531.21,445.2 531.55,445.66 531.89,446.12 532.23,446.6 532.57,447.07 532.91,447.55 533.25,448.04 533.59,448.53 533.93,449.02 534.27,449.52 534.61,450.02 534.95,450.52 535.29,451.02 535.63,451.52 535.97,452.03 536.31,452.53 536.65,453.04 536.98,453.57 537.32,454.13 537.66,454.7 538,455.28 538.34,455.89 538.68,456.5 539.02,457.12 539.36,457.76 539.7,458.4 540.04,459.04 540.38,459.68 540.72,460.32 541.06,460.97 541.4,461.6 541.74,462.23 542.08,462.85 542.42,463.46 542.76,464.05 543.1,464.63 543.44,465.2 543.78,465.74 544.12,466.26 544.46,466.78 544.8,467.3 545.14,467.82 545.48,468.35 545.82,468.88 546.16,469.4 546.5,469.93 546.84,470.45 547.18,470.97 547.52,471.49 547.86,472 548.2,472.5 548.54,473 548.88,473.48 549.22,473.96 549.56,474.42 549.9,474.87 550.24,475.31 550.58,475.74 550.92,476.14 551.26,476.53 551.6,476.91 551.94,477.26 552.28,477.59 552.62,477.91 552.96,478.2 553.3,478.46 553.64,478.7 553.98,478.93 554.32,479.16 554.66,479.39 555,479.61 555.34,479.84 555.68,480.06 556.02,480.28 556.36,480.49 556.7,480.7 557.04,480.91 557.38,481.1 557.72,481.3 558.06,481.48 558.4,481.66 558.74,481.83 559.08,481.99 559.42,482.14 559.76,482.29 560.1,482.42 560.44,482.54 560.78,482.65 561.12,482.74 561.46,482.83 561.8,482.9 562.14,482.95 562.48,482.99 562.82,483.02 563.16,483.03 563.5,483.03 563.84,483.01 564.18,482.99 564.52,482.96 564.86,482.91 565.2,482.86 565.54,482.8 565.88,482.72 566.22,482.64 566.56,482.55 566.9,482.44 567.24,482.33 567.58,482.2 567.92,482.06 568.26,481.91 568.6,481.76 568.94,481.59" fill="none" stroke="#ff0000" stroke-width="1.6" stroke-linejoin="round" />
<polyline points="403.13,364.1 403.63,364.11 404.13,364.12 404.64,364.14 405.14,364.17 405.64,364.21 406.15,364.26 406.65,364.31 407.15,364.37 407.66,364.43 408.16,364.49 408.67,364.55 409.17,364.63 409.67,364.72 410.18,364.83 410.68,364.97 411.18,365.12 411.69,365.3 412.19,365.48 412.69,365.69 413.2,365.91 413.7,366.14 414.2,366.38 414.71,366.63 415.21,366.89 415.72,367.16 416.22,367.43 416.72,367.71 417.23,367.99 417.73,368.29 418.23,368.6 418.74,368.94 419.24,369.3 419.74,369.68 420.25,370.08 420.75,370.49 421.25,370.93 421.76,371.38 422.26,371.85 422.77,372.33 423.27,372.83 423.77,373.35 424.28,373.87 424.78,374.42 425.28,374.97 425.79,375.54 426.29,376.12 426.79,376.71 427.3,377.32 427.8,377.93 428.3,378.55 428.81,379.19 429.31,379.83 429.81,380.47 430.32,381.13 430.82,381.8 431.33,382.48 431.83,383.19 432.33,383.93 432.84,384.69 433.34,385.48 433.84,386.29 434.35,387.13 434.85,388 435.35,388.89 435.86,389.81 436.36,390.76 436.86,391.74 437.37,392.75 437.87,393.78 438.38,394.85 438.88,395.95 439.38,397.07 439.89,398.23 440.39,399.42 440.89,400.67 441.4,401.98 441.9,403.35 442.4,404.78 442.91,406.27 443.41,407.82 443.91,409.43 444.42,411.1 444.92,412.84 445.43,414.63 445.93,416.49 446.43,418.41 446.94,420.39 447.44,422.43 447.94,424.56 448.45,426.96 448.95,429.65 449.45,432.57 449.96,435.67 450.46,438.88 450.96,442.14 451.47,445.41 451.97,448.62 452.47,451.71 452.98,454.62 453.48,457.31 453.99,459.7 454.49,461.83 454.99,463.88 455.5,465.88 456,467.81 456.5,469.69 457.01,471.49 457.51,473.23 458.01,474.9 458.52,476.49 459.02,478.01 459.52,479.44 460.03,480.79 460.53,482.06 461.04,483.23 461.54,484.34 462.04,485.42 462.55,486.48 463.05,487.51 463.55,488.51 464.06,489.46 464.56,490.37 465.06,491.23 465.57,492.03 466.07,492.77 466.57,493.44 467.08,494.04 467.58,494.56 468.08,495 468.59,495.37 469.09,495.74 469.6,496.1 470.1,496.44 470.6,496.77 471.11,497.08 471.61,497.37 472.11,497.62 472.62,497.85 473.12,498.05 473.62,498.21 474.13,498.33 474.63,498.41 475.13,498.44 475.64,498.42 476.14,498.33 476.65,498.2 477.15,498.01 477.65,497.78 478.16,497.5 478.66,497.17 479.16,496.82 479.67,496.42 480.17,495.99 480.67,495.54 481.18,495.06 481.68,494.56 482.18,494.04 482.69,493.5 483.19,492.96 483.7,492.4 484.2,491.84 484.7,491.28 485.21,490.67 485.71,489.96 486.21,489.14 486.72,488.25 487.22,487.28 487.72,486.24 488.23,485.16 488.73,484.04 489.23,482.9 489.74,481.74 490.24,480.57 490.74,479.42 491.25,478.28 491.75,477.18 492.26,476.12 492.76,475.11 493.26,474.09 493.77,473.08 494.27,472.07 494.77,471.05 495.28,470.04 495.78,469.03 496.28,468.01 496.79,467 497.29,465.98 497.79,464.97 498.3,463.96 498.8,462.94 499.31,461.93 499.81,460.91 500.31,459.9 500.82,458.84 501.32,457.74 501.82,456.62 502.33,455.48 502.83,454.32 503.33,453.16 503.84,451.99 504.34,450.84 504.84,449.7 505.35,448.59 505.85,447.5 506.36,446.46 506.86,445.46 507.36,444.52 507.87,443.64 508.37,442.82 508.87,442.09 509.38,441.44 509.88,440.86 510.38,440.3 510.89,439.74 511.39,439.19 511.89,438.64 512.4,438.1 512.9,437.57 513.4,437.05 513.91,436.55 514.41,436.07 514.92,435.61 515.42,435.17 515.92,434.75 516.43,434.36 516.93,434.01 517.43,433.68 517.94,433.39 518.44,433.13 518.94,432.91 519.45,432.74 519.95,432.6 520.45,432.52 520.96,432.48 521.46,432.47 521.97,432.47 522.47,432.47 522.97,432.47 523.48,432.47 523.98,432.47 524.48,432.47 524.99,432.47 525.49,432.47 525.99,432.47 526.5,432.47 527,432.47 527.5,432.51 528.01,432.58 528.51,432.68 529.02,432.82 529.52,433 530.02,433.2 530.53,433.42 531.03,433.68 531.53,433.95 532.04,434.24 532.54,434.55 533.04,434.88 533.55,435.22 534.05,435.57 534.55,435.93 535.06,436.29 535.56,436.66 536.06,437.03 536.57,437.4 537.07,437.82 537.58,438.28 538.08,438.8 538.58,439.36 539.09,439.96 539.59,440.59 540.09,441.26 540.6,441.94 541.1,442.65 541.6,443.36 542.11,444.09 542.61,444.82 543.11,445.55 543.62,446.28 544.12,446.99 544.63,447.72 545.13,448.46 545.63,449.24 546.14,450.02 546.64,450.83 547.14,451.65 547.65,452.48 548.15,453.32 548.65,454.17 549.16,455.02 549.66,455.87 550.16,456.72 550.67,457.57 551.17,458.41 551.67,459.24 552.18,460.05 552.68,460.86 553.19,461.64 553.69,462.41 554.19,463.17 554.7,463.95 555.2,464.73 555.7,465.52 556.21,466.32 556.71,467.11 557.21,467.89 557.72,468.67 558.22,469.44 558.72,470.2 559.23,470.94 559.73,471.66 560.24,472.35 560.74,473.02 561.24,473.66 561.75,474.27 562.25,474.84 562.75,475.37 563.26,475.86 563.76,476.33 564.26,476.81 564.77,477.27 565.27,477.74 565.77,478.2 566.28,478.64 566.78,479.08 567.29,479.5 567.79,479.9 568.29,480.29 568.8,480.65 569.3,480.99 569.8,481.31 570.31,481.6 570.81,481.86 571.31,482.09 571.82,482.28 572.32,482.44 572.82,482.56 573.33,482.66 573.83,482.76 574.33,482.86 574.84,482.95 575.34,483.04 575.85,483.12 576.35,483.2 576.85,483.26 577.36,483.33 577.86,483.38 578.36,483.42 578.87,483.46 579.37,483.49 579.87,483.51 580.38,483.51 580.88,483.5 581.38,483.45 581.89,483.38 582.39,483.27 582.9,483.14 583.4,482.99 583.9,482.81 584.41,482.62 584.91,482.4 585.41,482.17 585.92,481.92 586.42,481.67 586.92,481.4 587.43,481.12 587.93,480.84 588.43,480.55 588.94,480.26 589.44,479.97 589.95,479.68 590.45,479.38 590.95,479.05 591.46,478.69 591.96,478.3 592.46,477.88 592.97,477.44 593.47,476.97 593.97,476.49 594.48,475.98 594.98,475.45 595.48,474.91 595.99,474.36 596.49,473.79 596.99,473.21 597.5,472.63 598,472.03 598.51,471.43 599.01,470.83 599.51,470.22 600.02,469.62 600.52,469.01 601.02,468.41 601.53,467.82 602.03,467.23 602.53,466.64 603.04,466.03 603.54,465.41 604.04,464.77 604.55,464.12 605.05,463.46 605.56,462.79 606.06,462.12 606.56,461.44 607.07,460.75 607.57,460.07 608.07,459.38 608.58,458.7 609.08,458.02 609.58,457.34 610.09,456.67 610.59,456.01 611.09,455.35 611.6,454.71 612.1,454.07 612.61,453.41 613.11,452.72 613.61,452.02 614.12,451.32 614.62,450.61 615.12,449.9 615.63,449.19 616.13,448.49 616.63,447.81 617.14,447.15 617.64,446.51 618.14,445.9 618.65,445.32 619.15,444.79 619.65,444.29 620.16,443.84 620.66,443.45 621.17,443.11 621.67,442.81 622.17,442.51 622.68,442.22 623.18,441.93 623.68,441.65 624.19,441.37 624.69,441.1 625.19,440.84 625.7,440.59 626.2,440.35 626.7,440.12 627.21,439.9 627.71,439.7 628.22,439.51 628.72,439.33 629.22,439.18 629.73,439.04 630.23,438.92 630.73,438.82 631.24,438.74 631.74,438.68 632.24,438.65 632.75,438.64 633.25,438.66 633.75,438.72 634.26,438.82 634.76,438.95 635.26,439.11 635.77,439.29 636.27,439.51 636.78,439.74 637.28,440 637.78,440.27 638.29,440.56 638.79,440.86 639.29,441.17 639.8,441.49 640.3,441.81 640.8,442.13 641.31,442.45 641.81,442.77 642.31,443.09 642.82,443.4 643.32,443.74 643.83,444.09 644.33,444.46 644.83,444.84 645.34,445.24 645.84,445.65 646.34,446.08 646.85,446.52 647.35,446.98 647.85,447.45 648.36,447.93 648.86,448.43 649.36,448.93 649.87,449.45 650.37,449.99 650.88,450.53 651.38,451.08 651.88,451.65 652.39,452.22 652.89,452.81 653.39,453.4 653.9,454.01 654.4,454.62" fill="none" stroke="#ffff00" stroke-width="1.6" stroke-linejoin="round" />
<polyline points="399.3,364.1 399.81,364.1 400.32,364.1 400.83,364.1 401.34,364.1 401.86,364.1 402.37,364.1 402.88,364.1 403.39,364.1 403.9,364.1 404.41,364.1 404.92,364.1 405.43,364.1 405.95,364.1 406.46,364.1 406.97,364.1 407.48,364.12 407.99,364.18 408.5,364.28 409.01,364.4 409.52,364.55 410.04,364.72 410.55,364.92 411.06,365.12 411.57,365.34 412.08,365.56 412.59,365.8 413.1,366.1 413.61,366.45 414.13,366.84 414.64,367.28 415.15,367.76 415.66,368.29 416.17,368.86 416.68,369.48 417.19,370.14 417.7,370.84 418.22,371.59 418.73,372.38 419.24,373.2 419.75,374.07 420.26,374.98 420.77,375.92 421.28,376.91 421.79,377.95 422.31,379.31 422.82,381.01 423.33,383.01 423.84,385.27 424.35,387.72 424.86,390.33 425.37,393.05 425.88,395.83 426.39,398.62 426.91,401.37 427.42,404.04 427.93,406.57 428.44,408.93 428.95,411.05 429.46,412.91 429.97,414.66 430.48,416.35 431,417.99 431.51,419.57 432.02,421.11 432.53,422.61 433.04,424.07 433.55,425.49 434.06,426.89 434.57,428.26 435.09,429.62 435.6,430.96 436.11,432.28 436.62,433.6 437.13,434.92 437.64,436.18 438.15,437.38 438.66,438.54 439.18,439.68 439.69,440.81 440.2,441.94 440.71,443.08 441.22,444.26 441.73,445.48 442.24,446.76 442.75,448.12 443.27,449.59 443.78,451.17 444.29,452.84 444.8,454.57 445.31,456.33 445.82,458.09 446.33,459.84 446.84,461.54 447.35,463.17 447.87,464.7 448.38,466.1 448.89,467.41 449.4,468.68 449.91,469.91 450.42,471.1 450.93,472.26 451.44,473.38 451.96,474.46 452.47,475.51 452.98,476.52 453.49,477.5 454,478.44 454.51,479.35 455.02,480.27 455.53,481.19 456.05,482.09 456.56,482.97 457.07,483.81 457.58,484.6 458.09,485.35 458.6,486.02 459.11,486.62 459.62,487.14 460.14,487.57 460.65,487.97 461.16,488.36 461.67,488.74 462.18,489.09 462.69,489.43 463.2,489.74 463.71,490.04 464.23,490.3 464.74,490.54 465.25,490.75 465.76,490.93 466.27,491.08 466.78,491.19 467.29,491.28 467.8,491.37 468.32,491.44 468.83,491.51 469.34,491.58 469.85,491.63 470.36,491.67 470.87,491.69 471.38,491.7 471.89,491.67 472.4,491.6 472.92,491.49 473.43,491.34 473.94,491.15 474.45,490.93 474.96,490.68 475.47,490.39 475.98,490.09 476.49,489.76 477.01,489.41 477.52,489.04 478.03,488.65 478.54,488.26 479.05,487.85 479.56,487.44 480.07,486.99 480.58,486.44 481.1,485.79 481.61,485.05 482.12,484.25 482.63,483.37 483.14,482.44 483.65,481.46 484.16,480.44 484.67,479.39 485.19,478.32 485.7,477.24 486.21,476.17 486.72,475.1 487.23,474.04 487.74,472.98 488.25,471.84 488.76,470.65 489.28,469.42 489.79,468.16 490.3,466.88 490.81,465.61 491.32,464.35 491.83,463.12 492.34,461.94 492.85,460.81 493.36,459.74 493.88,458.66 494.39,457.58 494.9,456.49 495.41,455.41 495.92,454.33 496.43,453.27 496.94,452.22 497.45,451.2 497.97,450.21 498.48,449.25 498.99,448.33 499.5,447.46 500.01,446.63 500.52,445.86 501.03,445.16 501.54,444.52 502.06,443.95 502.57,443.4 503.08,442.86 503.59,442.32 504.1,441.78 504.61,441.25 505.12,440.73 505.63,440.21 506.15,439.71 506.66,439.22 507.17,438.74 507.68,438.28 508.19,437.83 508.7,437.41 509.21,437.01 509.72,436.63 510.24,436.27 510.75,435.94 511.26,435.63 511.77,435.36 512.28,435.12 512.79,434.91 513.3,434.73 513.81,434.59 514.33,434.49 514.84,434.42 515.35,434.4 515.86,434.42 516.37,434.48 516.88,434.58 517.39,434.71 517.9,434.88 518.41,435.07 518.93,435.3 519.44,435.55 519.95,435.83 520.46,436.12 520.97,436.44 521.48,436.77 521.99,437.11 522.5,437.46 523.02,437.82 523.53,438.19 524.04,438.56 524.55,438.93 525.06,439.3 525.57,439.71 526.08,440.16 526.59,440.65 527.11,441.18 527.62,441.74 528.13,442.34 528.64,442.97 529.15,443.63 529.66,444.32 530.17,445.03 530.68,445.76 531.2,446.51 531.71,447.27 532.22,448.05 532.73,448.84 533.24,449.64 533.75,450.44 534.26,451.25 534.77,452.06 535.29,452.86 535.8,453.66 536.31,454.45 536.82,455.26 537.33,456.1 537.84,456.99 538.35,457.91 538.86,458.85 539.37,459.81 539.89,460.78 540.4,461.75 540.91,462.71 541.42,463.66 541.93,464.59 542.44,465.5 542.95,466.37 543.46,467.19 543.98,467.97 544.49,468.71 545,469.46 545.51,470.21 546.02,470.96 546.53,471.71 547.04,472.45 547.55,473.18 548.07,473.89 548.58,474.59 549.09,475.26 549.6,475.91 550.11,476.53 550.62,477.11 551.13,477.65 551.64,478.16 552.16,478.62 552.67,479.03 553.18,479.39 553.69,479.69 554.2,479.97 554.71,480.24 555.22,480.51 555.73,480.77 556.25,481.03 556.76,481.28 557.27,481.51 557.78,481.74 558.29,481.95 558.8,482.14 559.31,482.32 559.82,482.49 560.34,482.63 560.85,482.76 561.36,482.86 561.87,482.94 562.38,483 562.89,483.03 563.4,483.03 563.91,482.98 564.42,482.9 564.94,482.77 565.45,482.6 565.96,482.39 566.47,482.16 566.98,481.89 567.49,481.6 568,481.28 568.51,480.94 569.03,480.58 569.54,480.21 570.05,479.83 570.56,479.44 571.07,479.05 571.58,478.65 572.09,478.25 572.6,477.86 573.12,477.46 573.63,477.02 574.14,476.53 574.65,476.01 575.16,475.46 575.67,474.87 576.18,474.26 576.69,473.63 577.21,472.97 577.72,472.31 578.23,471.62 578.74,470.94 579.25,470.24 579.76,469.55 580.27,468.86 580.78,468.17 581.3,467.5 581.81,466.84 582.32,466.2 582.83,465.56 583.34,464.92 583.85,464.28 584.36,463.62 584.87,462.97 585.38,462.31 585.9,461.66 586.41,461 586.92,460.35 587.43,459.7 587.94,459.05 588.45,458.42 588.96,457.78 589.47,457.16 589.99,456.55 590.5,455.94 591.01,455.31 591.52,454.68 592.03,454.04 592.54,453.39 593.05,452.74 593.56,452.09 594.08,451.44 594.59,450.8 595.1,450.16 595.61,449.53 596.12,448.9 596.63,448.29 597.14,447.7 597.65,447.12 598.17,446.55 598.68,446.01 599.19,445.49 599.7,445 600.21,444.53 600.72,444.09 601.23,443.68 601.74,443.31 602.26,442.97 602.77,442.63 603.28,442.29 603.79,441.95 604.3,441.61 604.81,441.28 605.32,440.97 605.83,440.67 606.35,440.39 606.86,440.14 607.37,439.92 607.88,439.73 608.39,439.59 608.9,439.48 609.41,439.42 609.92,439.41 610.43,439.43 610.95,439.49 611.46,439.57 611.97,439.67 612.48,439.8 612.99,439.96 613.5,440.13 614.01,440.32 614.52,440.53 615.04,440.76 615.55,441 616.06,441.25 616.57,441.52 617.08,441.79 617.59,442.07 618.1,442.36 618.61,442.66 619.13,442.95 619.64,443.26 620.15,443.62 620.66,444.04 621.17,444.52 621.68,445.03 622.19,445.59 622.7,446.19 623.22,446.82 623.73,447.48 624.24,448.16 624.75,448.86 625.26,449.57 625.77,450.29 626.28,451.02 626.79,451.75 627.31,452.47 627.82,453.18 628.33,453.88 628.84,454.56 629.35,455.23 629.86,455.93 630.37,456.66 630.88,457.4 631.39,458.15 631.91,458.92 632.42,459.69 632.93,460.47 633.44,461.25 633.95,462.02 634.46,462.79 634.97,463.54 635.48,464.28 636,465 636.51,465.7 637.02,466.38 637.53,467.02 638.04,467.63 638.55,468.21 639.06,468.77 639.57,469.33 640.09,469.89 640.6,470.44 641.11,470.99 641.62,471.52 642.13,472.04 642.64,472.56 643.15,473.05 643.66,473.54 644.18,474 644.69,474.45 645.2,474.87 645.71,475.27 646.22,475.65 646.73,476.01 647.24,476.33 647.75,476.63 648.27,476.9 648.78,477.16 649.29,477.41 649.8,477.65 650.31,477.88 650.82,478.1 651.33,478.3 651.84,478.49 652.36,478.67 652.87,478.83 653.38,478.96 653.89,479.08 654.4,479.18" fill="none" stroke="#3030ff" stroke-width="0.8" stroke-linejoin="round" />
<polyline points="399.3,364.1 399.81,364.1 400.32,364.1 400.83,364.1 401.34,364.1 401.86,364.1 402.37,364.1 402.88,364.1 403.39,364.1 403.9,364.1 404.41,364.1 404.92,364.1 405.43,364.1 405.95,364.1 406.46,364.1 406.97,364.1 407.48,364.12 407.99,364.17 408.5,364.26 409.01,364.37 409.52,364.51 410.04,364.68 410.55,364.87 411.06,365.08 411.57,365.31 412.08,365.56 412.59,365.95 413.1,366.56 413.61,367.36 414.13,368.34 414.64,369.46 415.15,370.69 415.66,372.01 416.17,373.4 416.68,374.81 417.19,376.24 417.7,377.83 418.22,379.68 418.73,381.77 419.24,384.04 419.75,386.47 420.26,389.02 420.77,391.65 421.28,394.31 421.79,396.99 422.31,399.62 422.82,402.19 423.33,404.65 423.84,406.96 424.35,409.08 424.86,410.99 425.37,412.75 425.88,414.46 426.39,416.11 426.91,417.71 427.42,419.26 427.93,420.77 428.44,422.23 428.95,423.67 429.46,425.07 429.97,426.45 430.48,427.81 431,429.15 431.51,430.48 432.02,431.81 432.53,433.13 433.04,434.4 433.55,435.62 434.06,436.79 434.57,437.93 435.09,439.06 435.6,440.19 436.11,441.33 436.62,442.49 437.13,443.7 437.64,444.97 438.15,446.3 438.66,447.74 439.18,449.29 439.69,450.94 440.2,452.66 440.71,454.41 441.22,456.18 441.73,457.93 442.24,459.65 442.75,461.3 443.27,462.86 443.78,464.3 444.29,465.62 444.8,466.9 445.31,468.14 445.82,469.34 446.33,470.51 446.84,471.64 447.35,472.73 447.87,473.79 448.38,474.81 448.89,475.79 449.4,476.74 449.91,477.66 450.42,478.58 450.93,479.5 451.44,480.41 451.96,481.29 452.47,482.14 452.98,482.95 453.49,483.71 454,484.4 454.51,485.02 455.02,485.56 455.53,486.01 456.05,486.42 456.56,486.82 457.07,487.19 457.58,487.56 458.09,487.9 458.6,488.22 459.11,488.52 459.62,488.79 460.14,489.04 460.65,489.25 461.16,489.44 461.67,489.6 462.18,489.72 462.69,489.81 463.2,489.9 463.71,489.98 464.23,490.05 464.74,490.12 465.25,490.17 465.76,490.21 466.27,490.24 466.78,490.25 467.29,490.24 467.8,490.18 468.32,490.08 468.83,489.94 469.34,489.76 469.85,489.55 470.36,489.3 470.87,489.03 471.38,488.73 471.89,488.4 472.4,488.06 472.92,487.69 473.43,487.31 473.94,486.92 474.45,486.52 474.96,486.11 475.47,485.68 475.98,485.15 476.49,484.53 477.01,483.81 477.52,483.02 478.03,482.17 478.54,481.25 479.05,480.28 479.56,479.27 480.07,478.23 480.58,477.17 481.1,476.09 481.61,475.01 482.12,473.94 482.63,472.88 483.14,471.82 483.65,470.66 484.16,469.42 484.67,468.11 485.19,466.77 485.7,465.43 486.21,464.1 486.72,462.82 487.23,461.61 487.74,460.5 488.25,459.52 488.76,458.67 489.28,457.88 489.79,457.12 490.3,456.39 490.81,455.67 491.32,454.98 491.83,454.31 492.34,453.67 492.85,453.04 493.36,452.43 493.88,451.84 494.39,451.27 494.9,450.71 495.41,450.16 495.92,449.63 496.43,449.12 496.94,448.61 497.45,448.11 497.97,447.63 498.48,447.15 498.99,446.68 499.5,446.22 500.01,445.76 500.52,445.31 501.03,444.86 501.54,444.41 502.06,443.96 502.57,443.5 503.08,443.03 503.59,442.55 504.1,442.07 504.61,441.57 505.12,441.08 505.63,440.58 506.15,440.08 506.66,439.59 507.17,439.11 507.68,438.64 508.19,438.17 508.7,437.73 509.21,437.3 509.72,436.89 510.24,436.5 510.75,436.14 511.26,435.8 511.77,435.49 512.28,435.22 512.79,434.98 513.3,434.78 513.81,434.62 514.33,434.5 514.84,434.43 515.35,434.4 515.86,434.42 516.37,434.48 516.88,434.58 517.39,434.71 517.9,434.88 518.41,435.07 518.93,435.3 519.44,435.55 519.95,435.83 520.46,436.12 520.97,436.44 521.48,436.77 521.99,437.11 522.5,437.46 523.02,437.82 523.53,438.19 524.04,438.56 524.55,438.93 525.06,439.3 525.57,439.71 526.08,440.16 526.59,440.65 527.11,441.18 527.62,441.74 528.13,442.34 528.64,442.97 529.15,443.63 529.66,444.32 530.17,445.03 530.68,445.76 531.2,446.51 531.71,447.27 532.22,448.05 532.73,448.84 533.24,449.64 533.75,450.44 534.26,451.25 534.77,452.06 535.29,452.86 535.8,453.66 536.31,454.45 536.82,455.26 537.33,456.1 537.84,456.99 538.35,457.91 538.86,458.85 539.37,459.81 539.89,460.78 540.4,461.75 540.91,462.71 541.42,463.66 541.93,464.59 542.44,465.5 542.95,466.37 543.46,467.19 543.98,467.97 544.49,468.71 545,469.46 545.51,470.21 546.02,470.96 546.53,471.71 547.04,472.45 547.55,473.18 548.07,473.89 548.58,474.59 549.09,475.26 549.6,475.91 550.11,476.53 550.62,477.11 551.13,477.65 551.64,478.16 552.16,478.62 552.67,479.03 553.18,479.39 553.69,479.69 554.2,479.97 554.71,480.24 555.22,480.51 555.73,480.77 556.25,481.03 556.76,481.28 557.27,481.51 557.78,481.74 558.29,481.95 558.8,482.14 559.31,482.32 559.82,482.49 560.34,482.63 560.85,482.76 561.36,482.86 561.87,482.94 562.38,483 562.89,483.03 563.4,483.03 563.91,482.98 564.42,482.9 564.94,482.77 565.45,482.6 565.96,482.39 566.47,482.16 566.98,481.89 567.49,481.6 568,481.28 568.51,480.94 569.03,480.58 569.54,480.21 570.05,479.83 570.56,479.44 571.07,479.05 571.58,478.65 572.09,478.25 572.6,477.86 573.12,477.46 573.63,477.02 574.14,476.53 574.65,476.01 575.16,475.46 575.67,474.87 576.18,474.26 576.69,473.63 577.21,472.97 577.72,472.31 578.23,471.62 578.74,470.94 579.25,470.24 579.76,469.55 580.27,468.86 580.78,468.17 581.3,467.5 581.81,466.84 582.32,466.2 582.83,465.56 583.34,464.92 583.85,464.28 584.36,463.62 584.87,462.97 585.38,462.31 585.9,461.66 586.41,461 586.92,460.35 587.43,459.7 587.94,459.05 588.45,458.42 588.96,457.78 589.47,457.16 589.99,456.55 590.5,455.94 591.01,455.31 591.52,454.68 592.03,454.04 592.54,453.39 593.05,452.74 593.56,452.09 594.08,451.44 594.59,450.8 595.1,450.16 595.61,449.53 596.12,448.9 596.63,448.29 597.14,447.7 597.65,447.12 598.17,446.55 598.68,446.01 599.19,445.49 599.7,445 600.21,444.53 600.72,444.09 601.23,443.68 601.74,443.31 602.26,442.97 602.77,442.63 603.28,442.29 603.79,441.95 604.3,441.61 604.81,441.28 605.32,440.97 605.83,440.67 606.35,440.39 606.86,440.14 607.37,439.92 607.88,439.73 608.39,439.59 608.9,439.48 609.41,439.42 609.92,439.41 610.43,439.43 610.95,439.49 611.46,439.57 611.97,439.67 612.48,439.8 612.99,439.96 613.5,440.13 614.01,440.32 614.52,440.53 615.04,440.76 615.55,441 616.06,441.25 616.57,441.52 617.08,441.79 617.59,442.07 618.1,442.36 618.61,442.66 619.13,442.95 619.64,443.26 620.15,443.62 620.66,444.04 621.17,444.52 621.68,445.03 622.19,445.59 622.7,446.19 623.22,446.82 623.73,447.48 624.24,448.16 624.75,448.86 625.26,449.57 625.77,450.29 626.28,451.02 626.79,451.75 627.31,452.47 627.82,453.18 628.33,453.88 628.84,454.56 629.35,455.23 629.86,455.93 630.37,456.66 630.88,457.4 631.39,458.15 631.91,458.92 632.42,459.69 632.93,460.47 633.44,461.25 633.95,462.02 634.46,462.79 634.97,463.54 635.48,464.28 636,465 636.51,465.7 637.02,466.38 637.53,467.02 638.04,467.63 638.55,468.21 639.06,468.77 639.57,469.33 640.09,469.89 640.6,470.44 641.11,470.99 641.62,471.52 642.13,472.04 642.64,472.56 643.15,473.05 643.66,473.54 644.18,474 644.69,474.45 645.2,474.87 645.71,475.27 646.22,475.65 646.73,476.01 647.24,476.33 647.75,476.63 648.27,476.9 648.78,477.16 649.29,477.41 649.8,477.65 650.31,477.88 650.82,478.1 651.33,478.3 651.84,478.49 652.36,478.67 652.87,478.83 653.38,478.96 653.89,479.08 654.4,479.18" fill="none" stroke="#3030ff" stroke-width="0.8" stroke-linejoin="round" />
<polyline points="399.3,364.1 399.81,364.1 400.32,364.1 400.83,364.1 401.34,364.1 401.86,364.1 402.37,364.1 402.88,364.1 403.39,364.1 403.9,364.1 404.41,364.1 404.92,364.1 405.43,364.1 405.95,364.1 406.46,364.1 406.97,364.1 407.48,364.12 407.99,364.18 408.5,364.27 409.01,364.38 409.52,364.53 410.04,364.7 410.55,364.89 411.06,365.1 411.57,365.32 412.08,365.56 412.59,365.87 413.1,366.3 413.61,366.84 414.13,367.49 414.64,368.23 415.15,369.07 415.66,369.98 416.17,370.97 416.68,372.03 417.19,373.14 417.7,374.3 418.22,375.5 418.73,376.74 419.24,378.01 419.75,379.55 420.26,381.38 420.77,383.46 421.28,385.76 421.79,388.22 422.31,390.81 422.82,393.48 423.33,396.19 423.84,398.91 424.35,401.58 424.86,404.17 425.37,406.64 425.88,408.94 426.39,411.03 426.91,412.89 427.42,414.64 427.93,416.33 428.44,417.97 428.95,419.56 429.46,421.09 429.97,422.59 430.48,424.05 431,425.48 431.51,426.88 432.02,428.25 432.53,429.6 433.04,430.94 433.55,432.27 434.06,433.59 434.57,434.9 435.09,436.16 435.6,437.37 436.11,438.53 436.62,439.67 437.13,440.8 437.64,441.92 438.15,443.07 438.66,444.25 439.18,445.47 439.69,446.75 440.2,448.1 440.71,449.57 441.22,451.16 441.73,452.82 442.24,454.55 442.75,456.31 443.27,458.08 443.78,459.82 444.29,461.52 444.8,463.15 445.31,464.68 445.82,466.09 446.33,467.4 446.84,468.67 447.35,469.9 447.87,471.09 448.38,472.25 448.89,473.37 449.4,474.45 449.91,475.5 450.42,476.51 450.93,477.49 451.44,478.43 451.96,479.34 452.47,480.26 452.98,481.18 453.49,482.08 454,482.96 454.51,483.8 455.02,484.6 455.53,485.34 456.05,486.01 456.56,486.62 457.07,487.13 457.58,487.56 458.09,487.97 458.6,488.36 459.11,488.73 459.62,489.09 460.14,489.43 460.65,489.74 461.16,490.03 461.67,490.3 462.18,490.54 462.69,490.75 463.2,490.93 463.71,491.08 464.23,491.19 464.74,491.28 465.25,491.36 465.76,491.44 466.27,491.51 466.78,491.58 467.29,491.63 467.8,491.67 468.32,491.69 468.83,491.7 469.34,491.67 469.85,491.6 470.36,491.49 470.87,491.34 471.38,491.15 471.89,490.93 472.4,490.68 472.92,490.4 473.43,490.09 473.94,489.76 474.45,489.41 474.96,489.04 475.47,488.66 475.98,488.26 476.49,487.86 477.01,487.44 477.52,486.99 478.03,486.44 478.54,485.79 479.05,485.06 479.56,484.25 480.07,483.38 480.58,482.45 481.1,481.47 481.61,480.45 482.12,479.4 482.63,478.33 483.14,477.26 483.65,476.18 484.16,475.11 484.67,474.05 485.19,472.98 485.7,471.82 486.21,470.59 486.72,469.32 487.23,468.02 487.74,466.71 488.25,465.41 488.76,464.15 489.28,462.94 489.79,461.81 490.3,460.78 490.81,459.84 491.32,458.92 491.83,458.02 492.34,457.14 492.85,456.27 493.36,455.42 493.88,454.59 494.39,453.77 494.9,452.98 495.41,452.2 495.92,451.44 496.43,450.7 496.94,449.98 497.45,449.28 497.97,448.6 498.48,447.94 498.99,447.31 499.5,446.69 500.01,446.1 500.52,445.53 501.03,444.98 501.54,444.46 502.06,443.95 502.57,443.46 503.08,442.95 503.59,442.44 504.1,441.93 504.61,441.42 505.12,440.91 505.63,440.4 506.15,439.91 506.66,439.41 507.17,438.93 507.68,438.47 508.19,438.01 508.7,437.58 509.21,437.16 509.72,436.76 510.24,436.39 510.75,436.04 511.26,435.72 511.77,435.43 512.28,435.17 512.79,434.95 513.3,434.76 513.81,434.6 514.33,434.49 514.84,434.42 515.35,434.4 515.86,434.42 516.37,434.48 516.88,434.58 517.39,434.71 517.9,434.88 518.41,435.07 518.93,435.3 519.44,435.55 519.95,435.83 520.46,436.12 520.97,436.44 521.48,436.77 521.99,437.11 522.5,437.46 523.02,437.82 523.53,438.19 524.04,438.56 524.55,438.93 525.06,439.3 525.57,439.71 526.08,440.16 526.59,440.65 527.11,441.18 527.62,441.74 528.13,442.34 528.64,442.97 529.15,443.63 529.66,444.32 530.17,445.03 530.68,445.76 531.2,446.51 531.71,447.27 532.22,448.05 532.73,448.84 533.24,449.64 533.75,450.44 534.26,451.25 534.77,452.06 535.29,452.86 535.8,453.66 536.31,454.45 536.82,455.26 537.33,456.1 537.84,456.99 538.35,457.91 538.86,458.85 539.37,459.81 539.89,460.78 540.4,461.75 540.91,462.71 541.42,463.66 541.93,464.59 542.44,465.5 542.95,466.37 543.46,467.19 543.98,467.97 544.49,468.71 545,469.46 545.51,470.21 546.02,470.96 546.53,471.71 547.04,472.45 547.55,473.18 548.07,473.89 548.58,474.59 549.09,475.26 549.6,475.91 550.11,476.53 550.62,477.11 551.13,477.65 551.64,478.16 552.16,478.62 552.67,479.03 553.18,479.39 553.69,479.69 554.2,479.97 554.71,480.24 555.22,480.51 555.73,480.77 556.25,481.03 556.76,481.28 557.27,481.51 557.78,481.74 558.29,481.95 558.8,482.14 559.31,482.32 559.82,482.49 560.34,482.63 560.85,482.76 561.36,482.86 561.87,482.94 562.38,483 562.89,483.03 563.4,483.03 563.91,482.98 564.42,482.9 564.94,482.77 565.45,482.6 565.96,482.39 566.47,482.16 566.98,481.89 567.49,481.6 568,481.28 568.51,480.94 569.03,480.58 569.54,480.21 570.05,479.83 570.56,479.44 571.07,479.05 571.58,478.65 572.09,478.25 572.6,477.86 573.12,477.46 573.63,477.02 574.14,476.53 574.65,476.01 575.16,475.46 575.67,474.87 576.18,474.26 576.69,473.63 577.21,472.97 577.72,472.31 578.23,471.62 578.74,470.94 579.25,470.24 579.76,469.55 580.27,468.86 580.78,468.17 581.3,467.5 581.81,466.84 582.32,466.2 582.83,465.56 583.34,464.92 583.85,464.28 584.36,463.62 584.87,462.97 585.38,462.31 585.9,461.66 586.41,461 586.92,460.35 587.43,459.7 587.94,459.05 588.45,458.42 588.96,457.78 589.47,457.16 589.99,456.55 590.5,455.94 591.01,455.31 591.52,454.68 592.03,454.04 592.54,453.39 593.05,452.74 593.56,452.09 594.08,451.44 594.59,450.8 595.1,450.16 595.61,449.53 596.12,448.9 596.63,448.29 597.14,447.7 597.65,447.12 598.17,446.55 598.68,446.01 599.19,445.49 599.7,445 600.21,444.53 600.72,444.09 601.23,443.68 601.74,443.31 602.26,442.97 602.77,442.63 603.28,442.29 603.79,441.95 604.3,441.61 604.81,441.28 605.32,440.97 605.83,440.67 606.35,440.39 606.86,440.14 607.37,439.92 607.88,439.73 608.39,439.59 608.9,439.48 609.41,439.42 609.92,439.41 610.43,439.43 610.95,439.49 611.46,439.57 611.97,439.67 612.48,439.8 612.99,439.96 613.5,440.13 614.01,440.32 614.52,440.53 615.04,440.76 615.55,441 616.06,441.25 616.57,441.52 617.08,441.79 617.59,442.07 618.1,442.36 618.61,442.66 619.13,442.95 619.64,443.26 620.15,443.62 620.66,444.04 621.17,444.52 621.68,445.03 622.19,445.59 622.7,446.19 623.22,446.82 623.73,447.48 624.24,448.16 624.75,448.86 625.26,449.57 625.77,450.29 626.28,451.02 626.79,451.75 627.31,452.47 627.82,453.18 628.33,453.88 628.84,454.56 629.35,455.23 629.86,455.93 630.37,456.66 630.88,457.4 631.39,458.15 631.91,458.92 632.42,459.69 632.93,460.47 633.44,461.25 633.95,462.02 634.46,462.79 634.97,463.54 635.48,464.28 636,465 636.51,465.7 637.02,466.38 637.53,467.02 638.04,467.63 638.55,468.21 639.06,468.77 639.57,469.33 640.09,469.89 640.6,470.44 641.11,470.99 641.62,471.52 642.13,472.04 642.64,472.56 643.15,473.05 643.66,473.54 644.18,474 644.69,474.45 645.2,474.87 645.71,475.27 646.22,475.65 646.73,476.01 647.24,476.33 647.75,476.63 648.27,476.9 648.78,477.16 649.29,477.41 649.8,477.65 650.31,477.88 650.82,478.1 651.33,478.3 651.84,478.49 652.36,478.67 652.87,478.83 653.38,478.96 653.89,479.08 654.4,479.18" fill="none" stroke="#0000ff" stroke-width="1.6" stroke-linejoin="round" /></g>
<rect x="399.3" y="364.1" width="255.1" height="144.2" fill="none" stroke="#444" stroke-width="1"/>
<path d="M399.3 508.3v-2.8M399.3 364.1v2.8M412.06 508.3v-2.8M412.06 364.1v2.8M424.81 508.3v-2.8M424.81 364.1v2.8M437.56 508.3v-2.8M437.56 364.1v2.8M450.32 508.3v-2.8M450.32 364.1v2.8M463.08 508.3v-2.8M463.08 364.1v2.8M475.83 508.3v-2.8M475.83 364.1v2.8M488.59 508.3v-2.8M488.59 364.1v2.8M501.34 508.3v-2.8M501.34 364.1v2.8M514.1 508.3v-2.8M514.1 364.1v2.8M526.85 508.3v-2.8M526.85 364.1v2.8M539.61 508.3v-2.8M539.61 364.1v2.8M552.36 508.3v-2.8M552.36 364.1v2.8M565.12 508.3v-2.8M565.12 364.1v2.8M577.87 508.3v-2.8M577.87 364.1v2.8M590.62 508.3v-2.8M590.62 364.1v2.8M603.38 508.3v-2.8M603.38 364.1v2.8M616.13 508.3v-2.8M616.13 364.1v2.8M628.89 508.3v-2.8M628.89 364.1v2.8M641.64 508.3v-2.8M641.64 364.1v2.8M654.4 508.3v-2.8M654.4 364.1v2.8M399.3 508.3v-5M399.3 364.1v5M463.08 508.3v-5M463.08 364.1v5M526.85 508.3v-5M526.85 364.1v5M590.62 508.3v-5M590.62 364.1v5M654.4 508.3v-5M654.4 364.1v5M399.3 508.55h2.8M654.4 508.55h-2.8M399.3 498.92h2.8M654.4 498.92h-2.8M399.3 489.29h2.8M654.4 489.29h-2.8M399.3 479.66h2.8M654.4 479.66h-2.8M399.3 470.03h2.8M654.4 470.03h-2.8M399.3 460.4h2.8M654.4 460.4h-2.8M399.3 450.77h2.8M654.4 450.77h-2.8M399.3 441.14h2.8M654.4 441.14h-2.8M399.3 431.51h2.8M654.4 431.51h-2.8M399.3 421.88h2.8M654.4 421.88h-2.8M399.3 412.25h2.8M654.4 412.25h-2.8M399.3 402.62h2.8M654.4 402.62h-2.8M399.3 392.99h2.8M654.4 392.99h-2.8M399.3 383.36h2.8M654.4 383.36h-2.8M399.3 373.73h2.8M654.4 373.73h-2.8M399.3 364.1h2.8M654.4 364.1h-2.8M399.3 508.55h5M654.4 508.55h-5M399.3 460.4h5M654.4 460.4h-5M399.3 412.25h5M654.4 412.25h-5M399.3 364.1h5M654.4 364.1h-5" stroke="#444" stroke-width="1" fill="none"/>
<text x="396" y="372.7" font-family="Liberation Sans" font-size="11.5" fill="#666666" text-anchor="end" textLength="17.59" lengthAdjust="spacingAndGlyphs" style="white-space:pre" >1.0</text>
<text x="395.5" y="417.1" font-family="Liberation Sans" font-size="11.5" fill="#666666" text-anchor="end" textLength="16.61" lengthAdjust="spacingAndGlyphs" style="white-space:pre" >0.5</text>
<text x="395.5" y="464.5" font-family="Liberation Sans" font-size="11.5" fill="#666666" text-anchor="end" textLength="16.61" lengthAdjust="spacingAndGlyphs" style="white-space:pre" >0.0</text>
<text x="395.5" y="507.2" font-family="Liberation Sans" font-size="11.5" fill="#666666" text-anchor="end" textLength="26.87" lengthAdjust="spacingAndGlyphs" style="white-space:pre" >−0.5</text>
<text x="398.8" y="523.75" font-family="Liberation Sans" font-size="11.5" fill="#666666" text-anchor="middle" textLength="7.7" lengthAdjust="spacingAndGlyphs" style="white-space:pre" >0</text>
<text x="462.58" y="523.75" font-family="Liberation Sans" font-size="11.5" fill="#666666" text-anchor="middle" textLength="12.16" lengthAdjust="spacingAndGlyphs" style="white-space:pre" >10</text>
<text x="526.35" y="523.75" font-family="Liberation Sans" font-size="11.5" fill="#666666" text-anchor="middle" textLength="13.24" lengthAdjust="spacingAndGlyphs" style="white-space:pre" >20</text>
<text x="590.62" y="523.75" font-family="Liberation Sans" font-size="11.5" fill="#666666" text-anchor="middle" textLength="12.31" lengthAdjust="spacingAndGlyphs" style="white-space:pre" >30</text>
<text x="654.15" y="523.75" font-family="Liberation Sans" font-size="11.5" fill="#666666" text-anchor="middle" textLength="11.71" lengthAdjust="spacingAndGlyphs" style="white-space:pre" >40</text>
<text x="521.5" y="355.9" font-family="Liberation Sans" font-size="14.3" fill="#000" text-anchor="middle" textLength="56.51" lengthAdjust="spacingAndGlyphs" style="white-space:pre" >ARRAY S</text>
<text x="448" y="400.55" font-family="Liberation Sans" font-size="14.5" fill="#000" text-anchor="start" textLength="46.06" lengthAdjust="spacingAndGlyphs" style="white-space:pre" >r=10m</text>
<text x="526" y="383.85" font-family="Liberation Sans" font-size="8.6" fill="#333" text-anchor="start" textLength="97" lengthAdjust="spacingAndGlyphs" style="white-space:pre" >MM.  Std Dev=0.129(0.130)</text>
<text x="623" y="394.85" font-family="Liberation Sans" font-size="22.5" fill="#000" text-anchor="start" textLength="25.09" lengthAdjust="spacingAndGlyphs" style="white-space:pre" >(c)</text>
<text transform="translate(359.95,433) rotate(-90)" font-family="Liberation Sans" font-size="11.31" fill="#666666" text-anchor="middle" textLength="134.83" lengthAdjust="spacingAndGlyphs" style="white-space:pre" >Azim  ave  coherency</text>
<clipPath id="clipct"><rect x="340" y="520" width="334.5" height="40"/></clipPath>
<g clip-path="url(#clipct)"><text x="375.4" y="538" font-family="Liberation Sans" font-size="12" fill="#666666" text-anchor="start" textLength="89.65" lengthAdjust="spacingAndGlyphs" style="white-space:pre" >Frequency (Hz).</text>
<text x="486.4" y="538" font-family="Liberation Sans" font-size="12" fill="#666666" text-anchor="start" textLength="190" lengthAdjust="spacingAndGlyphs" style="white-space:pre" >Modes: Red=R0; Yell=R1; Grn=R2</text>
<text x="364.35" y="552.45" font-family="Liberation Sans" font-size="15.36" fill="#666666" text-anchor="start" textLength="91.02" lengthAdjust="spacingAndGlyphs" style="white-space:pre" >Radius=10.0 r2.</text>
<text x="466.2" y="550.2" font-family="Liberation Sans" font-size="12" fill="#666666" text-anchor="start" textLength="217" lengthAdjust="spacingAndGlyphs" style="white-space:pre" >Std Dev=0.133(0.131) Γlm rms=0.125</text></g>
<clipPath id="clipd"><rect x="53.3" y="652.4" width="277.9" height="177.60000000000002"/></clipPath>
<g clip-path="url(#clipd)"><polyline points="53.2,763.4 62,760.5 71.2,757 80,753 90.2,745.4 97,738 102.9,728.4 107,717 111.4,696.7 113.5,680 114.6,660.7 115.3,640" fill="none" stroke="#ff0000" stroke-width="1.4" stroke-linejoin="round" />
<polyline points="116.9,640 117.5,665 118.8,690.3 121,702 124,711.5 127,717.5 130.4,722.1 134,726 136.8,728.4 137.8,730.6 138.7,762.3 141,755 145.3,743.3 149,732 153.7,717.9 157,703 159,690.3 160.3,670 160.8,640" fill="none" stroke="#ff0000" stroke-width="1.4" stroke-linejoin="round" />
<polyline points="162.3,640 163,665 164.3,679.8 166,696 168.5,711.5 172,722 177,730.6 181,736 185.5,741.1 190,749.6 195,758 198.5,766.5 202.7,785.6 204.5,805 205.5,840" fill="none" stroke="#ff0000" stroke-width="1.4" stroke-linejoin="round" />
<polyline points="206.5,840 207.5,810 209,796.2 211,790 213.3,785.6 217,781 221.8,777.1 227,775.8 232.3,775 253.5,774.4 290,774.8 331,775" fill="none" stroke="#ff0000" stroke-width="1.4" stroke-linejoin="round" />
<polyline points="117.7,747.5 121,758 124,767 126.2,775 128.5,790 130.5,808 131.7,840" fill="none" stroke="#ffff00" stroke-width="1.4" stroke-linejoin="round" />
<polyline points="132.6,840 134,815 135.7,796.2 137.2,780 138.5,766.5 139.2,737 144,739 149.5,741.1 155,743 160,745.4 164,748.5 168.5,753.8 172,762 174.9,775 177,790 179.1,817.3 179.6,840" fill="none" stroke="#ffff00" stroke-width="1.4" stroke-linejoin="round" />
<polyline points="180.5,840 181.5,815 183.4,796.2 185.5,785 187.6,778.2 190,776.5 192,775 195,768 198.5,743.3 201.5,728 204.8,711.5 207,696 209,679.8 210.5,660 211.5,640" fill="none" stroke="#ffff00" stroke-width="1.4" stroke-linejoin="round" />
<polyline points="212.5,640 213.5,670 214.3,690.3 217,705 219.6,717.9 222.5,728 226,736.9 230,745 234.5,753.8 238,763 240.8,775 243.5,795 246.1,817.3 247.2,840" fill="none" stroke="#ffff00" stroke-width="1.4" stroke-linejoin="round" />
<polyline points="248.2,840 249.5,820 251.4,806.8 253.5,798 255.6,792 259.5,786 264.1,781.4 269,779 274.7,777.6 295.8,777.6 325.5,779.2 327.6,777.5" fill="none" stroke="#ffff00" stroke-width="1.4" stroke-linejoin="round" />
<polyline points="327.6,774.5 327.6,794.5" fill="none" stroke="#ffff00" stroke-width="1.4" stroke-linejoin="round" />
<polyline points="140,732.7 142,722 144.2,711.5 145.8,692 147.4,669.2 147.8,640" fill="none" stroke="#00ff00" stroke-width="1.4" stroke-linejoin="round" />
<polyline points="149.2,640 150,665 151.6,679.8 153.5,690 155.8,696.7 157.5,698.5 159,698.8 161,696 163.2,690.3 164.5,680 165.4,669.2 166,640" fill="none" stroke="#00ff00" stroke-width="1.4" stroke-linejoin="round" />
<polyline points="167,640 167.6,665 168.5,679.8 170.5,695 172.8,707.3 175,715 177,720 181.2,724.2 185.5,722.1 188.5,718 191.8,711.5 195,701 196.4,696.7 200,690 204.8,685 207,686 209,688.2 212,692 215.4,695.6 217,694 218.6,690.3 219.8,680 220.7,669.2 221.2,640" fill="none" stroke="#00ff00" stroke-width="1.4" stroke-linejoin="round" />
<polyline points="222.3,640 223,670 223.9,690.3 225.5,708 227,722.1 229.5,732 232.3,739 235.5,744 238.7,747.5 243,748 247.2,747.5 250,746.5 253.5,745.4 255.5,747 257.7,751.7 260.5,762 263,775 264.8,795 266.2,817.3 267.4,840" fill="none" stroke="#00ff00" stroke-width="1.4" stroke-linejoin="round" />
<polyline points="268.4,840 269.5,820 271.5,806.8 273,796 274.7,789.8 277.5,785.5 281,783.5 286,782.3 291.6,781.8 325.5,782.4 331,782.4" fill="none" stroke="#00ff00" stroke-width="1.4" stroke-linejoin="round" />
<polyline points="53.3,754.2 53.65,754.31 54,754.07 54.35,753.91 54.7,753.74 55.05,754.24 55.4,754.38 55.75,754.06 56.1,753.9 56.45,755.43 56.8,755.12 57.15,754.76 57.5,755.2 57.85,756.04 58.2,756.14 58.55,756.27 58.9,755.93 59.25,756.24 59.6,756.66 59.95,756.11 60.3,756.9 60.65,756.73 61,757.51 61.35,756.59 61.7,757.38 62.05,757.66 62.4,756.94 62.75,757.79 63.1,757.81 63.45,756.84 63.8,757.72 64.15,756.93 64.5,757.59 64.85,757.57 65.2,757.35 65.55,757.56 65.9,758.2 66.25,757.67 66.6,757.53 66.95,758.28 67.3,758.27 67.65,758.98 68,758.6 68.35,758.99 68.7,759.86 69.05,759.8 69.4,760.09 69.75,760.06 70.1,760.08 70.45,761.48 70.8,760.74 71.15,761.93 71.5,761.63 71.85,762.61 72.2,762.22 72.55,763.14 72.9,762.96 73.25,762.86 73.6,763.74 73.95,763.93 74.3,764.22 74.65,763.31 75,762.37 75.35,762.22 75.7,760.94 76.05,760.99 76.4,760.27 76.75,759.31 77.1,759.12 77.45,757.56 77.8,756.96 78.15,756.62 78.5,755.28 78.85,754.84 79.2,753.89 79.55,753.45 79.9,753.34 80.25,752.95 80.6,752.99 80.95,752.14 81.3,752.75 81.65,752.84 82,752.25 82.35,752.36 82.7,752.21 83.05,752.72 83.4,751.89 83.75,751.93 84.1,751.4 84.45,751.88 84.8,752.11 85.15,752.46 85.5,752.42 85.85,751.69 86.2,752.46 86.55,751.48 86.9,752.22 87.25,751.4 87.6,751.68 87.95,751.26 88.3,752.18 88.65,752.13 89,751.28 89.35,751.09 89.7,749.27 90.05,748.06 90.4,746.47 90.75,743.87 91.1,742.72 91.45,740.08 91.8,738.51 92.15,736.28 92.5,734.45 92.85,732.91 93.2,731.32 93.55,730.26 93.9,728.47 94.25,726.23 94.6,724.45 94.95,722.95 95.3,721.43 95.65,719.5 96,719.35 96.35,718.18 96.7,717.71 97.05,717.28 97.4,716.95 97.75,717.14 98.1,717.11 98.45,716.24 98.8,716.35 99.15,716.85 99.5,717.12 99.85,717.65 100.2,717.83 100.55,718.4 100.9,719.27 101.25,720.13 101.6,720 101.95,720.54 102.3,721.11 102.65,721.95 103,722.69 103.35,723.76 103.7,723.97 104.05,725.25 104.4,725.7 104.75,727.16 105.1,727.07 105.45,727.8 105.8,727.33 106.15,727.56 106.5,727.29 106.85,726.99 107.2,727.17 107.55,726.61 107.9,726.56 108.25,727.11 108.6,727.01 108.95,727.4 109.3,726.45 109.65,727.13 110,727.08 110.35,727.24 110.7,727.43 111.05,727.21 111.4,727.29 111.75,727.23 112.1,727.41 112.45,727 112.8,727.4 113.15,727.68 113.5,727.03 113.85,728.07 114.2,727.86 114.55,728.2 114.9,727.49 115.25,727.75 115.6,727.61 115.95,727.44 116.3,727.49 116.65,727.85 117,728.67 117.35,727.91 117.7,728.63 118.05,729.1 118.4,729.89 118.75,731.04 119.1,732.63 119.45,733.42 119.8,734.48 120.15,735.4 120.5,736.25 120.85,737.58 121.2,739.17 121.55,739.37 121.9,741.07 122.25,741.1 122.6,741.45 122.95,742.03 123.3,742.17 123.65,743.6 124,743.34 124.35,743.41 124.7,743.5 125.05,743.62 125.4,744.37 125.75,744.91 126.1,745.44 126.45,746.12 126.8,746.21 127.15,745.63 127.5,746.28 127.85,746.85 128.2,746.06 128.55,747.17 128.9,746.82 129.25,747.5 129.6,747.17 129.95,747.76 130.3,747.84 130.65,747.53 131,748.64 131.35,748.98 131.7,748.29 132.05,747.63 132.4,748.06 132.75,746.58 133.1,746.99 133.45,745.64 133.8,745.04 134.15,744.51 134.5,743.38 134.85,743.33 135.2,742.72 135.55,741.83 135.9,742.45 136.25,741.72 136.6,740.18 136.95,739.91 137.3,741.23 137.65,738.43 138,738.38 138.35,739.34 138.7,736.22 139.05,736.4 139.4,736.91 139.75,733.78 140.1,733.31 140.45,735.69 140.8,734.52 141.15,732.78 141.5,733.11 141.85,731.98 142.2,733.67 142.55,733.48 142.9,730.27 143.25,731.35 143.6,729.86 143.95,730.15 144.3,730.82 144.65,730.3 145,728.19 145.35,728.23 145.7,728.11 146.05,727.56 146.4,728.1 146.75,728.02 147.1,726.13 147.45,726.02 147.8,724.2 148.15,724.58 148.5,725.88 148.85,723.83 149.2,723.41 149.55,722.97 149.9,722.25 150.25,722.43 150.6,720.04 150.95,719.65 151.3,720.95 151.65,719.1 152,720.03 152.35,716.74 152.7,718.29 153.05,716.69 153.4,716.11 153.75,716.84 154.1,713.49 154.45,713.89 154.8,712.14 155.15,711.58 155.5,712.29 155.85,710.03 156.2,710.47 156.55,707.06 156.9,709.51 157.25,708.52 157.6,706.76 157.95,704.31 158.3,705.09 158.65,702.8 159,702.68 159.35,700.8 159.7,700.19 160.05,699.8 160.4,699.53 160.75,701.39 161.1,699.04 161.45,700.65 161.8,697.53 162.15,697.36 162.5,697.61 162.85,700.89 163.2,700.84 163.55,698.46 163.9,701.9 164.25,699.85 164.6,700.31 164.95,701.74 165.3,700.81 165.65,703.8 166,702.1 166.35,703.17 166.7,703.54 167.05,702.92 167.4,704.84 167.75,706.09 168.1,705.1 168.45,703.72 168.8,706.57 169.15,706.44 169.5,706.2 169.85,707.12 170.2,706.13 170.55,706.64 170.9,707.73 171.25,706.55 171.6,708.7 171.95,707.64 172.3,708.21 172.65,711.47 173,710.02 173.35,709.16 173.7,711.07 174.05,712.43 174.4,712.41 174.75,712.4 175.1,711.39 175.45,713.1 175.8,714.09 176.15,713.04 176.5,715.98 176.85,716.22 177.2,717.11 177.55,718.8 177.9,717.42 178.25,718.83 178.6,723.33 178.95,721 179.3,721.58 179.65,721.52 180,722.96 180.35,724.43 180.7,723.18 181.05,724.65 181.4,725.13 181.75,725.35 182.1,728.2 182.45,729.37 182.8,729.77 183.15,728.66 183.5,727.9 183.85,729.48 184.2,730.67 184.55,730.73 184.9,732.55 185.25,733.16 185.6,734.43 185.95,734.01 186.3,734.29 186.65,737.79 187,738.8 187.35,737.19 187.7,738.55 188.05,741.17 188.4,742.77 188.75,744.29 189.1,741.93 189.45,743.56 189.8,745.55 190.15,747.49 190.5,749.8 190.85,750.48 191.2,751.83 191.55,752.28 191.9,755.29 192.25,756.5 192.6,759.18 192.95,757.64 193.3,758.7 193.65,760.88 194,762.08 194.35,763.88 194.7,764.09 195.05,767.48 195.4,769.13 195.75,767.09 196.1,771.88 196.45,769.79 196.8,771.84 197.15,773.75 197.5,774.69 197.85,774.79 198.2,777.86 198.55,779.28 198.9,777.7 199.25,778.39 199.6,780.84 199.95,780.23 200.3,784.55 200.65,785.19 201,786.47 201.35,785.99 201.7,788.95 202.05,788.57 202.4,790.23 202.75,790.12 203.1,791.26 203.45,795.51 203.8,794.83 204.15,797.97 204.5,795.93 204.85,795.71 205.2,796.88 205.55,793.93 205.9,792.41 206.25,793.17 206.6,794.07 206.95,792.37 207.3,792.29 207.65,793.76 208,791.37 208.35,790.51 208.7,789.31 209.05,790.05 209.4,791.6 209.75,786.89 210.1,789.48 210.45,788.45 210.8,786.9 211.15,785.91 211.5,784.33 211.85,780.65 212,782.29" fill="none" stroke="#000" stroke-width="1.6" stroke-linejoin="round" />
<polyline points="212,782.29 212.16,783.76 212.32,781.72 212.48,779.56 212.64,778.68 212.8,780.52 212.96,774.47 213.12,774.89 213.28,779.14 213.44,776.42 213.6,776.96 213.76,774.17 213.92,769.76 214.08,772.75 214.24,772.77 214.4,767.68 214.56,770.14 214.72,773.36 214.88,765.02 215.04,764.07 215.2,763.77 215.36,768.39 215.52,770.17 215.68,762.92 215.84,769.6 216,763.2 216.16,766.3 216.32,768.58 216.48,761.52 216.64,765.28 216.8,769.53 216.96,763.62 217.12,768.62 217.28,764.49 217.44,770.26 217.6,763.56 217.76,768.69 217.92,759.14 218.08,762.33 218.24,759.64 218.4,762.87 218.56,762.75 218.72,760.4 218.88,762.78 219.04,766.43 219.2,764.93 219.36,760.02 219.52,766.84 219.68,766.79 219.84,762.42 220,762.94 220.16,758.41 220.32,768.76 220.48,761.12 220.64,760 220.8,770.36 220.96,760.02 221.12,758.12 221.28,761.16 221.44,763.38 221.6,765.06 221.76,761.22 221.92,766.26 222.08,754.32 222.24,770.55 222.4,762.11 222.56,761.84 222.72,761.75 222.88,758.61 223.04,768.31 223.2,761.71 223.36,755.18 223.52,759.74 223.68,762.14 223.84,759.81 224,755.07 224.16,769.35 224.32,755.84 224.48,766.34 224.64,760.73 224.8,761.98 224.96,765.26 225.12,748.72 225.28,761.81 225.44,761.25 225.6,760.69 225.76,752.82 225.92,753 226.08,761.81 226.24,761.18 226.4,758.95 226.56,754.91 226.72,759.48 226.88,765.2 227.04,767.92 227.2,769.35 227.36,752.75 227.52,759 227.68,761.8 227.84,767.85 228,763.2 228.16,767.63 228.32,765.53 228.48,754.01 228.64,771 228.8,763.08 228.96,763.94 229.12,757.48 229.28,769.56 229.44,771.36 229.6,759.05 229.76,761.79 229.92,753.78 230.08,766.96 230.24,764.71 230.4,756.97 230.56,768.23 230.72,762.89 230.88,770.12 231.04,768.07 231.2,754.42 231.36,757.01 231.52,768.62 231.68,753.09 231.84,754.96 232,769.99 232.16,767.92 232.32,757.32 232.48,758.92 232.64,753.17 232.8,754.86 232.96,752.64 233.12,763.67 233.28,765.18 233.44,755.16 233.6,768.41 233.76,761.76 233.92,764.87 234.08,766.7 234.24,756.32 234.4,767.86 234.56,760.28 234.72,761.96 234.88,754.76 235.04,757.25 235.2,760.68 235.36,766.32 235.52,761.12 235.68,763.11 235.84,766.92 236,760 236.16,752.45 236.32,763.07 236.48,770.52 236.64,752.81 236.8,761.09 236.96,764.83 237.12,761.57 237.28,754 237.44,762.03 237.6,753.49 237.76,753.28 237.92,758.52 238.08,755.34 238.24,761.76 238.4,770.43 238.56,756.02 238.72,771.29 238.88,758.63 239.04,768.24 239.2,762.03 239.36,767.13 239.52,768.8 239.68,768.32 239.84,754.51 240,769.28 240.16,753.91 240.32,766.14 240.48,752.39 240.64,755.45 240.8,754.07 240.96,763.84 241.12,757.68 241.28,762.7 241.44,755.71 241.6,759.32 241.76,769.38 241.92,763.27 242.08,761.02 242.24,765.82 242.4,771.18 242.56,757.9 242.72,753.35 242.88,755.98 243.04,754.25 243.2,759.26 243.36,766.07 243.52,766.54 243.68,753.18 243.84,750.83 244,758.26 244.16,768.09 244.32,760.74 244.48,761.85 244.64,756.78 244.8,762.55 244.96,763.15 245.12,757.67 245.28,763.1 245.44,766.25 245.6,758.07 245.76,760.17 245.92,753.51 246.08,756.17 246.24,751.68 246.4,752.01 246.56,752.6 246.72,769.36 246.88,765.98 247.04,762.97 247.2,767.38 247.36,754.54 247.52,758.19 247.68,762.96 247.84,768.64 248,762.14 248.16,753.55 248.32,751.87 248.48,751.68 248.64,766.69 248.8,769.59 248.96,754.01 249.12,767.88 249.28,751.87 249.44,768.44 249.6,765.69 249.76,760.92 249.92,761.01 250.08,755.63 250.24,770.56 250.4,756.76 250.56,756.61 250.72,767.27 250.88,763.21 251.04,761.96 251.2,763.11 251.36,749.31 251.52,753.4 251.68,771.78 251.84,765.97 252,764.13 252.16,763 252.32,756.11 252.48,754.47 252.64,763.55 252.8,751.37 252.96,751.76 253.12,758.48 253.28,763.65 253.44,771 253.6,760.85 253.76,757.73 253.92,771.6 254.08,757.58 254.24,761.52 254.4,761.46 254.56,752.19 254.72,753.52 254.88,751.43 255.04,768.32 255.2,759.44 255.36,765.94 255.52,760.92 255.68,762 255.84,769.97 256,759.87 256.16,753.56 256.32,765.84 256.48,752.04 256.64,762.57 256.8,759.41 256.96,760.69 257.12,767.25 257.28,769.69 257.44,772.4 257.6,768.46 257.76,769.35 257.92,771.93 258.08,759.93 258.24,759.04 258.4,752.18 258.56,761.5 258.72,752.83 258.88,756.3 259.04,760.67 259.2,760.66 259.36,768.43 259.52,761.85 259.68,767.21 259.84,752.2 260,767.58 260.16,768.5 260.32,751.99 260.48,759.48 260.64,765.83 260.8,754.78 260.96,769.66 261.12,773.41 261.28,769.23 261.44,765.6 261.6,769.3 261.76,772.82 261.92,773.24 262.08,759.26 262.24,766.45 262.4,754.01 262.56,772.7 262.72,753.32 262.88,758.6 263.04,765.19 263.2,757.27 263.36,761.87 263.52,760.34 263.68,767.67 263.84,764.33 264,775.41 264.16,766.88 264.32,769.27 264.48,753.02 264.64,768.4 264.8,773.95 264.96,755.99 265.12,771.18 265.28,771.3 265.44,754.95 265.6,767.5 265.76,760.44 265.92,761.89 266.08,776.71 266.24,766.79 266.4,764.65 266.56,772.34 266.72,762.77 266.88,756.61 267.04,776.99 267.2,757.5 267.36,775.29 267.52,777.2 267.68,765.09 267.84,756.77 268,765.05 268.16,767.09 268.32,773.04 268.48,778.26 268.64,760 268.8,754.91 268.96,778.04 269.12,754.18 269.28,777.72 269.44,776.08 269.6,776.31 269.76,764.14 269.92,759.21 270.08,769.06 270.24,765.02 270.4,774.53 270.56,759.14 270.72,766.1 270.88,777.17 271.04,769.16 271.2,777.68 271.36,773.3 271.52,757.92 271.68,770.78 271.84,759.25 272,756.43 272.16,769.9 272.32,754.91 272.48,756.05 272.64,764.65 272.8,759.37 272.96,771.72 273.12,761.92 273.28,761.03 273.44,768.99 273.6,768.36 273.76,776.65 273.92,776.07 274.08,779.04 274.24,757.89 274.4,756.51 274.56,774.34 274.72,764.78 274.88,755.29 275.04,767.21 275.2,761.27 275.36,757.98 275.52,769.39 275.68,770.78 275.84,757.71 276,768.08 276.16,755.79 276.32,773.14 276.48,758.1 276.64,761.04 276.8,752.2 276.96,759.86 277.12,754.2 277.28,767.81 277.44,749.25 277.6,759.93 277.76,755.82 277.92,769.75 278.08,761.99 278.24,758.92 278.4,746.5 278.56,744.77 278.72,758.77 278.88,767.49 279.04,742.57 279.2,752.03 279.36,750.03 279.52,739.25 279.68,756.63 279.84,751.37 280,751.47 280.16,761.77 280.32,755.39 280.48,743.65 280.64,765.36 280.8,764.13 280.96,756.93 281.12,739.3 281.28,754.81 281.44,735.18 281.6,743.78 281.76,748.22 281.92,748.87 282.08,758.93 282.24,751.6 282.4,754.24 282.56,747.86 282.72,756.59 282.88,739.2 283.04,761.62 283.2,759.64 283.36,761.85 283.52,762.98 283.68,757.43 283.84,741.39 284,761.43 284.16,757.95 284.32,746.78 284.48,734.38 284.64,762.92 284.8,737.78 284.96,736.26 285.12,748.67 285.28,758.65 285.44,738.91 285.6,736.69 285.76,755.76 285.92,748.3 286.08,748.2 286.24,748.97 286.4,756.05 286.56,754.95 286.72,737.28 286.88,740.44 287.04,762.02 287.2,756.4 287.36,746.03 287.52,738.27 287.68,758.17 287.84,736.62 288,742.71 288.16,747.1 288.32,753.03 288.48,750.78 288.64,749.93 288.8,732.87 288.96,737.33 289.12,751.74 289.28,745.48 289.44,757.27 289.6,727.04 289.76,759.59 289.92,741.85 290.08,734.56 290.24,727.29 290.4,725.93 290.56,759.35 290.72,751.77 290.88,758.69 291.04,753.75 291.2,738.24 291.36,729.23 291.52,741.86 291.68,730.59 291.84,727.4 292,742.08 292.16,742.5 292.32,758.02 292.48,751.07 292.64,721.01 292.8,726.64 292.96,741.29 293.12,746.87 293.28,757.61 293.44,740.49 293.6,737.2 293.76,719.15 293.92,735.54 294.08,752.16 294.24,720.37 294.4,738.59 294.56,755.31 294.72,755.68 294.88,717.83 295.04,729.23 295.2,724.54 295.36,756.05 295.52,748.54 295.68,726.93 295.84,731.54 296,743.14 296.16,706.68 296.32,722 296.48,747.43 296.64,727.33 296.8,724.3 296.96,752.1 297.12,744.08 297.28,749.68 297.44,746.43 297.6,734.97 297.76,720.94 297.92,742.34 298.08,735.95 298.24,743.53 298.4,741.06 298.56,745.84 298.72,714.17 298.88,718.67 299.04,749.51 299.2,740.83 299.36,748.61 299.52,713.13 299.68,733.26 299.84,710.77 300,716.94 300.16,712.02 300.32,718.23 300.48,721.15 300.64,712.94 300.8,738.39 300.96,735.51 301.12,739.91 301.28,752.82 301.44,721.93 301.6,720.18 301.76,722.85 301.92,745.47 302.08,738.31 302.24,742.57 302.4,719.57 302.56,714.96 302.72,730.05 302.88,749.31 303.04,720.41 303.2,742.92 303.36,740.19 303.52,725.06 303.68,740.01 303.84,749.92 304,717.92 304.16,720.09 304.32,725.88 304.48,717.14 304.64,726.27 304.8,741.23 304.96,746.83 305.12,738.09 305.28,732.49 305.44,749.68 305.6,716.27 305.76,739.43 305.92,724.94 306.08,750.28 306.24,716.41 306.4,719.09 306.56,712.63 306.72,728.14 306.88,738.8 307.04,720.57 307.2,748.31 307.36,743.85 307.52,719.46 307.68,734.72 307.84,737.11 308,713.1 308.16,736.69 308.32,735.6 308.48,746.9 308.64,720.32 308.8,712.86 308.96,731.64 309.12,746.19 309.28,711.88 309.44,715.86 309.6,711.05 309.76,752.11 309.92,741.5 310.08,710.3 310.24,745.53 310.4,726.27 310.56,706.91 310.72,708.58 310.88,717.3 311.04,707.4 311.2,713.44 311.36,708.44 311.52,712.03 311.68,709.98 311.84,725.3 312,744.19 312.16,742.16 312.32,730.13 312.48,707.95 312.64,749.85 312.8,708.01 312.96,705.41 313.12,740.31 313.28,734.44 313.44,740.68 313.6,717.65 313.76,747.06 313.92,746.02 314.08,706.48 314.24,750.03 314.4,741.03 314.56,745.05 314.72,727.07 314.88,742.18 315.04,747.74 315.2,747.02 315.36,717.19 315.52,712.06 315.68,734.96 315.84,725.13 316,745.03 316.16,725.37 316.32,711.24 316.48,721.61 316.64,749.88 316.8,737.11 316.96,711.49 317.12,712.41 317.28,721.95 317.44,748.67 317.6,728.15 317.76,716.18 317.92,713.31 318.08,715.02 318.24,728.93 318.4,713.25 318.56,708.02 318.72,742.7 318.88,734.55 319.04,731.62 319.2,715.08 319.36,723.02 319.52,745.29 319.68,715.27 319.84,723.5 320,707.2 320.16,721.33 320.32,706.46 320.48,739.8 320.64,750.86 320.8,705.86 320.96,719.7 321.12,748.51 321.28,707.94 321.44,741.54 321.6,707.33 321.76,724.43 321.92,740.11 322.08,740.36 322.24,741.04 322.4,717.53 322.56,728.04 322.72,707.9 322.88,750.21 323.04,737.44 323.2,720.71 323.36,725.62 323.52,729.96 323.68,718.89 323.84,717.47 324,745.77 324.16,708.96 324.32,747.81 324.48,728.04 324.64,723.66 324.8,724.1 324.96,701.61 325.12,716.87 325.28,723.49 325.44,703.05 325.6,701.29 325.76,700.95 325.92,731.12 326.08,700.89 326.24,747.56 326.4,731.36 326.56,735.91 326.72,702.41 326.88,725.43 327.04,710.48 327.2,745.76 327.36,717.75 327.52,709.95 327.68,721.37 327.84,716 328,707.09 328.16,738.59 328.32,710.63 328.48,744.93 328.64,736.35 328.8,742.54 328.96,735.89 329.12,743.63 329.28,747.18 329.44,700.02 329.6,712.31 329.76,744.51 329.92,726.53 330.08,745.26 330.24,722.3 330.4,716.24 330.56,740.73 330.72,712.24 330.88,719.4" fill="none" stroke="#000" stroke-width="1" stroke-linejoin="round" /></g>
<rect x="53.3" y="652.4" width="277.9" height="177.6" fill="none" stroke="#333" stroke-width="1"/>
<path d="M84.31 830v-3M84.31 652.4v3M102.44 830v-3M102.44 652.4v3M115.31 830v-3M115.31 652.4v3M125.29 830v-3M125.29 652.4v3M133.45 830v-3M133.45 652.4v3M140.35 830v-3M140.35 652.4v3M146.32 830v-3M146.32 652.4v3M151.59 830v-3M151.59 652.4v3M187.31 830v-3M187.31 652.4v3M205.44 830v-3M205.44 652.4v3M218.31 830v-3M218.31 652.4v3M228.29 830v-3M228.29 652.4v3M236.45 830v-3M236.45 652.4v3M243.35 830v-3M243.35 652.4v3M249.32 830v-3M249.32 652.4v3M254.59 830v-3M254.59 652.4v3M290.31 830v-3M290.31 652.4v3M308.44 830v-3M308.44 652.4v3M321.31 830v-3M321.31 652.4v3M53.3 830v-5M53.3 652.4v5M156.3 830v-5M156.3 652.4v5M259.3 830v-5M259.3 652.4v5M53.3 809.9h3M331.2 809.9h-3M53.3 798.44h3M331.2 798.44h-3M53.3 790.31h3M331.2 790.31h-3M53.3 784h3M331.2 784h-3M53.3 778.84h3M331.2 778.84h-3M53.3 774.48h3M331.2 774.48h-3M53.3 770.71h3M331.2 770.71h-3M53.3 767.38h3M331.2 767.38h-3M53.3 744.8h3M331.2 744.8h-3M53.3 733.34h3M331.2 733.34h-3M53.3 725.21h3M331.2 725.21h-3M53.3 718.9h3M331.2 718.9h-3M53.3 713.74h3M331.2 713.74h-3M53.3 709.38h3M331.2 709.38h-3M53.3 705.61h3M331.2 705.61h-3M53.3 702.28h3M331.2 702.28h-3M53.3 679.7h3M331.2 679.7h-3M53.3 668.24h3M331.2 668.24h-3M53.3 660.11h3M331.2 660.11h-3M53.3 829.5h5M331.2 829.5h-5M53.3 764.4h5M331.2 764.4h-5M53.3 699.3h5M331.2 699.3h-5" stroke="#333" stroke-width="1" fill="none"/>
<text x="48.6" y="702.1" font-family="Liberation Sans" font-size="10.92" fill="#666666" text-anchor="end" textLength="25.23" lengthAdjust="spacingAndGlyphs" style="white-space:pre" >10.0</text>
<text x="48.6" y="767.7" font-family="Liberation Sans" font-size="10.92" fill="#666666" text-anchor="end" textLength="18.94" lengthAdjust="spacingAndGlyphs" style="white-space:pre" >1.0</text>
<text x="48.1" y="830" font-family="Liberation Sans" font-size="10.92" fill="#666666" text-anchor="end" textLength="17.89" lengthAdjust="spacingAndGlyphs" style="white-space:pre" >0.1</text>
<text x="51.8" y="845.25" font-family="Liberation Sans" font-size="12" fill="#666666" text-anchor="middle" textLength="17.89" lengthAdjust="spacingAndGlyphs" style="white-space:pre" >0.1</text>
<text x="156.05" y="845.25" font-family="Liberation Sans" font-size="12" fill="#666666" text-anchor="middle" textLength="20.7" lengthAdjust="spacingAndGlyphs" style="white-space:pre" >1.0</text>
<text x="258.8" y="846.5" font-family="Liberation Sans" font-size="12" fill="#666666" text-anchor="middle" textLength="26.27" lengthAdjust="spacingAndGlyphs" style="white-space:pre" >10.0</text>
<text x="172.8" y="642" font-family="Liberation Sans" font-size="14.8" fill="#000" text-anchor="middle" textLength="179.98" lengthAdjust="spacingAndGlyphs" style="white-space:pre" >CENTRE ARRAY LL  -  HVSR</text>
<text x="295" y="675.6" font-family="Liberation Sans" font-size="20.42" fill="#000" text-anchor="start" textLength="27.74" lengthAdjust="spacingAndGlyphs" style="white-space:pre" >(d)</text>
<text x="282.8" y="698.75" font-family="Liberation Sans" font-size="13.6" fill="#000" text-anchor="start" textLength="14.55" lengthAdjust="spacingAndGlyphs" style="white-space:pre" >LL</text>
<text transform="translate(13.15,741.25) rotate(-90)" font-family="Liberation Sans" font-size="12.6" fill="#666666" text-anchor="middle" textLength="103.02" lengthAdjust="spacingAndGlyphs" style="white-space:pre" >Ellipticity  (H/V)</text>
<text x="177.2" y="862.6" font-family="Liberation Sans" font-size="14.81" fill="#000" text-anchor="start" textLength="105.03" lengthAdjust="spacingAndGlyphs" style="white-space:pre" >Frequency (Hz)</text>
<clipPath id="clipe"><rect x="400.6" y="655.4" width="262.1" height="163.39999999999998"/></clipPath>
<g clip-path="url(#clipe)"><line x1="400.6" y1="764.4" x2="662.7" y2="764.4" stroke="#000" stroke-width="1" />
<line x1="426.6" y1="810.8" x2="584.6" y2="810.8" stroke="#000" stroke-width="2.6" />
<rect x="426.6" y="814.7" width="131.1" height="3.4" fill="none" stroke="#7a7a7a" stroke-width="0.9"/>
<path d="M428.5 814.7v3.4M432.1 814.7v3.4M435.7 814.7v3.4M439.3 814.7v3.4M442.9 814.7v3.4M446.5 814.7v3.4M450.1 814.7v3.4M453.7 814.7v3.4M457.3 814.7v3.4M460.9 814.7v3.4M464.5 814.7v3.4M468.1 814.7v3.4M471.7 814.7v3.4M475.3 814.7v3.4M478.9 814.7v3.4M482.5 814.7v3.4M486.1 814.7v3.4M489.7 814.7v3.4M493.3 814.7v3.4M496.9 814.7v3.4M500.5 814.7v3.4M504.1 814.7v3.4M507.7 814.7v3.4M511.3 814.7v3.4M514.9 814.7v3.4M518.5 814.7v3.4M522.1 814.7v3.4M525.7 814.7v3.4M529.3 814.7v3.4M532.9 814.7v3.4M536.5 814.7v3.4M540.1 814.7v3.4M543.7 814.7v3.4M547.3 814.7v3.4M550.9 814.7v3.4M554.5 814.7v3.4" stroke="#8a8a8a" stroke-width="0.8"/>
<polyline points="411.08,655.5 411.34,655.5 411.61,655.5 411.88,655.5 412.15,655.5 412.42,655.5 412.69,655.5 412.96,655.5 413.23,655.5 413.49,655.5 413.76,655.5 414.03,655.5 414.3,655.5 414.57,655.5 414.84,655.5 415.11,655.5 415.38,655.5 415.64,655.5 415.91,655.5 416.18,655.5 416.45,655.5 416.72,655.5 416.99,655.5 417.26,655.5 417.53,655.5 417.79,655.5 418.06,655.5 418.33,655.5 418.6,655.5 418.87,655.5 419.14,655.5 419.41,655.5 419.68,655.5 419.94,655.5 420.21,655.5 420.48,655.5 420.75,655.5 421.02,655.5 421.29,655.5 421.56,655.5 421.82,655.5 422.09,655.5 422.36,655.5 422.63,655.5 422.9,655.5 423.17,655.5 423.44,655.5 423.71,655.5 423.97,655.5 424.24,655.5 424.51,655.5 424.78,655.5 425.05,655.5 425.32,655.5 425.59,655.5 425.86,655.5 426.12,655.5 426.39,655.5 426.66,655.5 426.93,655.5 427.2,655.54 427.47,655.61 427.74,655.7 428.01,655.82 428.27,655.96 428.54,656.12 428.81,656.3 429.08,656.49 429.35,656.68 429.62,656.89 429.89,657.1 430.16,657.33 430.42,657.61 430.69,657.95 430.96,658.33 431.23,658.74 431.5,659.18 431.77,659.65 432.04,660.13 432.31,660.63 432.57,661.12 432.84,661.61 433.11,662.1 433.38,662.58 433.65,663.08 433.92,663.59 434.19,664.11 434.45,664.64 434.72,665.18 434.99,665.74 435.26,666.31 435.53,666.89 435.8,667.48 436.07,668.09 436.34,668.7 436.6,669.33 436.87,669.97 437.14,670.64 437.41,671.34 437.68,672.06 437.95,672.8 438.22,673.55 438.49,674.32 438.75,675.09 439.02,675.87 439.29,676.65 439.56,677.43 439.83,678.21 440.1,678.98 440.37,679.75 440.64,680.52 440.9,681.28 441.17,682.05 441.44,682.82 441.71,683.58 441.98,684.35 442.25,685.12 442.52,685.88 442.79,686.65 443.05,687.43 443.32,688.2 443.59,688.97 443.86,689.75 444.13,690.53 444.4,691.31 444.67,692.1 444.94,692.89 445.2,693.68 445.47,694.47 445.74,695.27 446.01,696.08 446.28,696.89 446.55,697.7 446.82,698.52 447.08,699.35 447.35,700.18 447.62,701.02 447.89,701.86 448.16,702.71 448.43,703.56 448.7,704.43 448.97,705.3 449.23,706.18 449.5,707.06 449.77,707.96 450.04,708.86 450.31,709.77 450.58,710.7 450.85,711.64 451.12,712.59 451.38,713.56 451.65,714.55 451.92,715.55 452.19,716.56 452.46,717.59 452.73,718.62 453,719.67 453.27,720.73 453.53,721.8 453.8,722.88 454.07,723.97 454.34,725.07 454.61,726.17 454.88,727.28 455.15,728.4 455.42,729.52 455.68,730.64 455.95,731.78 456.22,732.91 456.49,734.05 456.76,735.19 457.03,736.33 457.3,737.47 457.57,738.62 457.83,739.76 458.1,740.9 458.37,742.05 458.64,743.18 458.91,744.32 459.18,745.45 459.45,746.58 459.71,747.71 459.98,748.82 460.25,749.94 460.52,751.04 460.79,752.14 461.06,753.23 461.33,754.31 461.6,755.39 461.86,756.45 462.13,757.5 462.4,758.54 462.67,759.57 462.94,760.59 463.21,761.6 463.48,762.59 463.75,763.56 464.01,764.52 464.28,765.48 464.55,766.42 464.82,767.36 465.09,768.3 465.36,769.23 465.63,770.16 465.9,771.08 466.16,772 466.43,772.91 466.7,773.81 466.97,774.71 467.24,775.61 467.51,776.5 467.78,777.38 468.05,778.26 468.31,779.13 468.58,780 468.85,780.87 469.12,781.72 469.39,782.57 469.66,783.42 469.93,784.26 470.2,785.1 470.46,785.93 470.73,786.75 471,787.57 471.27,788.38 471.54,789.19 471.81,789.99 472.08,790.79 472.34,791.58 472.61,792.38 472.88,793.21 473.15,794.06 473.42,794.92 473.69,795.8 473.96,796.67 474.23,797.55 474.49,798.41 474.76,799.26 475.03,800.09 475.3,800.9 475.57,801.66 475.84,802.39 476.11,803.08 476.38,803.71 476.64,804.29 476.91,804.8 477.18,805.25 477.45,805.61 477.72,805.91 477.99,806.19 478.26,806.46 478.53,806.72 478.79,806.97 479.06,807.2 479.33,807.41 479.6,807.58 479.87,807.73 480.14,807.85 480.41,807.92 480.68,807.96 480.94,807.95 481.21,807.91 481.48,807.84 481.75,807.75 482.02,807.63 482.29,807.48 482.56,807.32 482.83,807.13 483.09,806.93 483.36,806.72 483.63,806.49 483.9,806.25 484.17,806.01 484.44,805.75 484.71,805.45 484.97,805.05 485.24,804.58 485.51,804.04 485.78,803.43 486.05,802.76 486.32,802.02 486.59,801.24 486.86,800.41 487.12,799.54 487.39,798.63 487.66,797.69 487.93,796.72 488.2,795.73 488.47,794.73 488.74,793.72 489.01,792.7 489.27,791.68 489.54,790.67 489.81,789.67 490.08,788.68 490.35,787.7 490.62,786.67 490.89,785.6 491.16,784.49 491.42,783.34 491.69,782.15 491.96,780.93 492.23,779.69 492.5,778.42 492.77,777.12 493.04,775.81 493.31,774.49 493.57,773.15 493.84,771.8 494.11,770.45 494.38,769.1 494.65,767.75 494.92,766.41 495.19,765.08 495.46,763.76 495.72,762.45 495.99,761.17 496.26,759.91 496.53,758.67 496.8,757.46 497.07,756.29 497.34,755.15 497.6,754.06 497.87,753 498.14,751.99 498.41,750.97 498.68,749.95 498.95,748.92 499.22,747.89 499.49,746.88 499.75,745.87 500.02,744.89 500.29,743.92 500.56,742.99 500.83,742.09 501.1,741.23 501.37,740.42 501.64,739.66 501.9,738.95 502.17,738.31 502.44,737.73 502.71,737.23 502.98,736.77 503.25,736.31 503.52,735.85 503.79,735.41 504.05,734.98 504.32,734.57 504.59,734.19 504.86,733.85 505.13,733.54 505.4,733.28 505.67,733.08 505.94,732.93 506.2,732.84 506.47,732.82 506.74,732.86 507.01,732.96 507.28,733.1 507.55,733.28 507.82,733.51 508.09,733.77 508.35,734.06 508.62,734.38 508.89,734.72 509.16,735.08 509.43,735.46 509.7,735.85 509.97,736.24 510.23,736.64 510.5,737.04 510.77,737.44 511.04,737.89 511.31,738.39 511.58,738.93 511.85,739.51 512.12,740.12 512.38,740.77 512.65,741.44 512.92,742.15 513.19,742.87 513.46,743.61 513.73,744.36 514,745.12 514.27,745.89 514.53,746.69 514.8,747.53 515.07,748.42 515.34,749.34 515.61,750.3 515.88,751.3 516.15,752.32 516.42,753.37 516.68,754.44 516.95,755.52 517.22,756.62 517.49,757.73 517.76,758.84 518.03,759.96 518.3,761.07 518.57,762.18 518.83,763.28 519.1,764.37 519.37,765.44 519.64,766.49 519.91,767.52 520.18,768.51 520.45,769.48 520.72,770.43 520.98,771.42 521.25,772.46 521.52,773.53 521.79,774.64 522.06,775.76 522.33,776.9 522.6,778.05 522.86,779.2 523.13,780.34 523.4,781.46 523.67,782.56 523.94,783.64 524.21,784.68 524.48,785.67 524.75,786.61 525.01,787.5 525.28,788.32 525.55,789.06 525.82,789.73 526.09,790.31 526.36,790.79 526.63,791.17 526.9,791.44 527.16,791.59 527.43,791.62 527.7,791.57 527.97,791.47 528.24,791.3 528.51,791.09 528.78,790.82 529.05,790.51 529.31,790.17 529.58,789.78 529.85,789.36 530.12,788.91 530.39,788.44 530.66,787.94 530.93,787.42 531.2,786.9 531.46,786.35 531.73,785.76 532,784.98 532.27,784.02 532.54,782.9 532.81,781.64 533.08,780.26 533.34,778.78 533.61,777.21 533.88,775.58 534.15,773.9 534.42,772.2 534.69,770.48 534.96,768.78 535.23,767.11 535.49,765.48 535.76,763.93 536.03,762.46 536.3,761.1 536.57,759.86 536.84,758.76 537.11,757.69 537.38,756.61 537.64,755.52 537.91,754.42 538.18,753.33 538.45,752.25 538.72,751.19 538.99,750.16 539.26,749.16 539.53,748.2 539.79,747.29 540.06,746.44 540.33,745.65 540.6,744.93 540.87,744.29 541.14,743.74 541.41,743.28 541.68,742.92 541.94,742.67 542.21,742.51 542.48,742.36 542.75,742.22 543.02,742.09 543.29,741.97 543.56,741.86 543.83,741.77 544.09,741.68 544.36,741.62 544.63,741.57 544.9,741.54 545.17,741.53" fill="none" stroke="#ff0000" stroke-width="1.5" stroke-linejoin="round" />
<polyline points="409.5,655.5 409.81,655.5 410.12,655.5 410.42,655.5 410.73,655.5 411.03,655.5 411.34,655.5 411.65,655.5 411.95,655.5 412.26,655.5 412.56,655.5 412.87,655.5 413.18,655.5 413.48,655.5 413.79,655.5 414.09,655.5 414.4,655.5 414.7,655.5 415.01,655.5 415.32,655.5 415.62,655.5 415.93,655.5 416.23,655.5 416.54,655.5 416.85,655.5 417.15,655.5 417.46,655.5 417.76,655.5 418.07,655.5 418.38,655.5 418.68,655.5 418.99,655.5 419.29,655.5 419.6,655.5 419.9,655.5 420.21,655.5 420.52,655.5 420.82,655.5 421.13,655.5 421.43,655.5 421.74,655.5 422.05,655.5 422.35,655.5 422.66,655.5 422.96,655.5 423.27,655.5 423.57,655.5 423.88,655.5 424.19,655.5 424.49,655.5 424.8,655.5 425.1,655.5 425.41,655.5 425.72,655.5 426.02,655.5 426.33,655.5 426.63,655.5 426.94,655.5 427.25,655.5 427.55,655.5 427.86,655.5 428.16,655.5 428.47,655.5 428.77,655.5 429.08,655.5 429.39,655.5 429.69,655.53 430,655.62 430.3,655.78 430.61,655.98 430.92,656.24 431.22,656.53 431.53,656.85 431.83,657.2 432.14,657.57 432.45,657.96 432.75,658.35 433.06,658.74 433.36,659.17 433.67,659.68 433.97,660.27 434.28,660.92 434.59,661.63 434.89,662.39 435.2,663.19 435.5,664.03 435.81,664.89 436.12,665.76 436.42,666.65 436.73,667.54 437.03,668.41 437.34,669.28 437.65,670.12 437.95,670.93 438.26,671.7 438.56,672.44 438.87,673.2 439.17,673.96 439.48,674.73 439.79,675.5 440.09,676.27 440.4,677.03 440.7,677.77 441.01,678.5 441.32,679.2 441.62,679.88 441.93,680.52 442.23,681.13 442.54,681.7 442.85,682.24 443.15,682.77 443.46,683.27 443.76,683.76 444.07,684.23 444.37,684.69 444.68,685.13 444.99,685.56 445.29,685.97 445.6,686.37 445.9,686.76 446.21,687.13 446.52,687.48 446.82,687.79 447.13,688.09 447.43,688.37 447.74,688.63 448.05,688.89 448.35,689.14 448.66,689.39 448.96,689.65 449.27,689.93 449.57,690.22 449.88,690.53 450.19,690.87 450.49,691.24 450.8,691.64 451.1,692.1 451.41,692.63 451.72,693.23 452.02,693.89 452.33,694.61 452.63,695.37 452.94,696.19 453.25,697.03 453.55,697.91 453.86,698.81 454.16,699.73 454.47,700.66 454.77,701.59 455.08,702.52 455.39,703.45 455.69,704.35 456,705.24 456.3,706.1 456.61,706.96 456.92,707.82 457.22,708.68 457.53,709.54 457.83,710.4 458.14,711.26 458.45,712.13 458.75,713 459.06,713.88 459.36,714.76 459.67,715.65 459.97,716.55 460.28,717.46 460.59,718.38 460.89,719.31 461.2,720.25 461.5,721.21 461.81,722.18 462.12,723.16 462.42,724.16 462.73,725.18 463.03,726.22 463.34,727.27 463.65,728.35 463.95,729.45 464.26,730.58 464.56,731.75 464.87,732.96 465.17,734.21 465.48,735.49 465.79,736.8 466.09,738.15 466.4,739.51 466.7,740.9 467.01,742.31 467.32,743.73 467.62,745.16 467.93,746.6 468.23,748.05 468.54,749.5 468.84,750.94 469.15,752.39 469.46,753.83 469.76,755.25 470.07,756.67 470.37,758.07 470.68,759.45 470.99,760.8 471.29,762.13 471.6,763.45 471.9,764.78 472.21,766.11 472.52,767.45 472.82,768.78 473.13,770.12 473.43,771.45 473.74,772.78 474.04,774.1 474.35,775.4 474.66,776.7 474.96,777.97 475.27,779.23 475.57,780.47 475.88,781.69 476.19,782.88 476.49,784.05 476.8,785.18 477.1,786.28 477.41,787.4 477.72,788.55 478.02,789.73 478.33,790.92 478.63,792.12 478.94,793.31 479.24,794.47 479.55,795.61 479.86,796.7 480.16,797.74 480.47,798.71 480.77,799.6 481.08,800.41 481.39,801.11 481.69,801.71 482,802.17 482.3,802.51 482.61,802.76 482.92,803 483.22,803.23 483.53,803.44 483.83,803.63 484.14,803.8 484.44,803.94 484.75,804.04 485.06,804.11 485.36,804.15 485.67,804.11 485.97,803.95 486.28,803.66 486.59,803.26 486.89,802.78 487.2,802.23 487.5,801.62 487.81,800.97 488.12,800.3 488.42,799.63 488.73,798.96 489.03,798.17 489.34,797.25 489.64,796.22 489.95,795.11 490.26,793.94 490.56,792.73 490.87,791.49 491.17,790.26 491.48,789.05 491.79,787.88 492.09,786.77 492.4,785.74 492.7,784.74 493.01,783.74 493.32,782.76 493.62,781.78 493.93,780.82 494.23,779.86 494.54,778.91 494.84,777.97 495.15,777.03 495.46,776.1 495.76,775.18 496.07,774.26 496.37,773.34 496.68,772.43 496.99,771.52 497.29,770.61 497.6,769.71 497.9,768.8 498.21,767.9 498.52,767 498.82,766.09 499.13,765.19 499.43,764.28 499.74,763.37 500.04,762.45 500.35,761.52 500.66,760.52 500.96,759.47 501.27,758.38 501.57,757.25 501.88,756.1 502.19,754.94 502.49,753.79 502.8,752.64 503.1,751.52 503.41,750.43 503.72,749.38 504.02,748.38 504.33,747.46 504.63,746.6 504.94,745.84 505.24,745.17 505.55,744.61 505.86,744.17 506.16,743.86 506.47,743.68 506.77,743.56 507.08,743.45 507.39,743.33 507.69,743.23 508,743.13 508.3,743.04 508.61,742.96 508.92,742.89 509.22,742.82 509.53,742.76 509.83,742.71 510.14,742.68 510.44,742.65 510.75,742.63 511.06,742.62 511.36,742.67 511.67,742.89 511.97,743.26 512.28,743.76 512.59,744.38 512.89,745.1 513.2,745.89 513.5,746.75 513.81,747.65 514.11,748.58 514.42,749.53 514.73,750.46 515.03,751.37 515.34,752.24 515.64,753.04 515.95,753.78 516.26,754.5 516.56,755.21 516.87,755.92 517.17,756.63 517.48,757.35 517.79,758.06 518.09,758.77 518.4,759.48 518.7,760.2 519.01,760.92 519.31,761.64 519.62,762.36 519.93,763.09 520.23,763.82 520.54,764.56 520.84,765.31 521.15,766.06 521.46,766.82 521.76,767.58 522.07,768.36 522.37,769.14 522.68,769.93 522.99,770.79 523.29,771.74 523.6,772.76 523.9,773.84 524.21,774.96 524.51,776.11 524.82,777.27 525.13,778.42 525.43,779.55 525.74,780.64 526.04,781.68 526.35,782.65 526.66,783.54 526.96,784.32 527.27,784.99 527.57,785.52 527.88,785.91 528.19,786.13 528.49,786.17 528.8,786.06 529.1,785.82 529.41,785.44 529.71,784.94 530.02,784.32 530.33,783.59 530.63,782.75 530.94,781.81 531.24,780.77 531.55,779.65 531,780 538,762 544,742 550,758 557,783 565,745 573,779 578,750 587,780 596,749 606,778 617,750 628,777 639,753 646,756 651,773.6 658,773.6 662.6,763" fill="none" stroke="#0000ff" stroke-width="1.5" stroke-linejoin="round" />
<polyline points="402.2,778 402.9,762.5 403.6,742 404.3,721 405,700 405.7,679 406.4,666.8 407.1,661.6 407.8,658.8 408.5,657.5 409.2,656.8 409.9,656.1 410.6,656 411.3,656 412,656 412.7,656 413.4,656 414.1,656 414.8,656 415.5,656 416.2,656 416.9,656 417.6,656 418.3,656 419,656 419.7,656 420.4,656 421.1,656 421.8,656 422.5,656 423.2,656 423.9,656 424.6,656 425.3,656 426,656 426.7,656 427.4,656 428.1,656 428.8,656 429.5,656 430.2,656 430.9,656 431.6,656 432.3,655.87 433,658.47 433.7,660.43 434.4,661.81 435.1,665.4 435.8,667.82 436.5,668.41 437.2,671.51 437.9,672.46 438.6,673.7 439.3,674.92 440,676.76 440.7,676.16 441.4,678.94 442.1,680.16 442.8,679.49 443.5,682.4 444.2,683.05 444.9,684.75 445.6,684.65 446.3,685.86 447,687.02 447.7,686.92 448.4,689.28 449.1,690.12 449.8,691.99 450.5,692.58 451.2,695.27 451.9,696.28 452.6,697.66 453.3,700.41 454,703.01 454.7,705.53 455.4,704.94 456.1,709.06 456.8,711.17 457.5,713.17 458.2,714.89 458.9,719.16 459.6,719.59 460.3,723.8 461,727.54 461.7,728.37 462.4,732.56 463.1,734.9 463.8,739.3 464.5,743.34 465.2,746.72 465.9,746.65 466.6,750.59 467.3,754.59 468,758.26 468.7,760.66 469.4,763.05 470.1,767.21 470.8,770.29 471.5,773.46 472.2,775.55 472.9,776.91 473.6,777.31 474.3,777.46 475,777.82 475.7,776.97 476.4,777.61 477.1,778.97 477.8,777.85 478.5,778.01 479.2,781.87 479.9,782.86 480.6,785.75 481.3,785.8 482,787.13 482.7,788.09 483.4,792.93 484.1,797.19 484.8,797.74 485.5,801.15 486.2,804.08 486.9,801.54 487.6,800.58 488.3,798.72 489,796.82 489.7,795.21 490.4,792.02 491.1,790.4 491.8,787 492.5,785.26 493.2,780.96 493.9,779.17 494.6,777.44 495.3,772.59 496,769.8 496.7,766.03 497.4,763.06 498.1,759.15 498.8,755.81 499.5,755.24 500.2,755.94 500.9,757.75 501.6,760.05 502.3,758.47 503,756.01 503.7,753.33 504.4,750.45 505.1,745.89 505.8,739.54 506.5,741.37 507.2,741.21 507.9,742.05 508.6,740.44 509.3,737.54 510,736.7 510.7,741.27 511.4,738.66 512.1,740.25 512.8,740.43 513.5,734.78 514.2,737.59 514.9,740.87 515.6,744.21 516.3,747.93 517,751.86 517.7,756.36 518.4,756.63 519.1,761.37 519.8,762.65 520.5,766.56 521.2,767.63 521.9,771.21 522.6,773.21 523.3,773.92 524,775.57 524.7,777.62 525.4,779.09 526.1,781.8 526.8,781.91 527.5,784.2 528.2,783.23 528.9,781.45 529.6,775.21 530.3,776.8 531,771.96 531.7,770.14 532.4,769.24 533.1,766.65 533.8,765.86 534.5,761.97 535.2,758.74 535.9,756.81 536.6,758.76 537.3,754.61 538,750.57 538.7,750.82 539.4,746.4 540.1,751.02 540.8,743.66 541.5,745.86 542.2,744.98 542.9,741.39 543.6,744.54 544.3,745.79 545,744.84 545.7,751.47 546.4,759.71 547.1,765.29 547.8,772.61 548.5,778.02 549.2,785.34 549.9,788.46 550.6,789.83 551.3,784.46 552,780.37 552.7,779.96 553.4,780.41 554.1,777.97 554.8,774.19 555.5,775.26 556.2,772.06 556.9,771.54 557.6,770.8 558.3,765.53 559,769.34 559.7,766.45 560.4,766.34 561.1,764.25 561.8,763.47 562.5,763.5 563.2,765.57 563.9,765.96 564.6,761.79 565.3,762.69 566,759.12 566.7,755.04 567.4,759.87 568.1,763.2 568.8,764.43 569.5,768.54 570.2,770.63 570.9,766.65 571.6,764.14 572.3,765 573,763.62 573.7,761.97 574.4,763.24 575.1,763.64 575.8,758.85 576.5,759.92 577.2,759.43 577.9,758.08 578.6,757.75 579.3,754.23 580,755.33 580.7,758.34 581.4,756.85 582.1,754.98 582.8,757.89 583.5,759.77 584.2,758.26 584.9,755.19 585.6,757.58 586.3,753.1 587,759.41 587.7,761.62 588.4,762.65 589.1,770.15 589.8,771.73 590.5,769.4 591.2,771.88 591.9,769.32 592.6,765.97 593.3,767.46 594,768.47 594.7,768.44 595.4,766.9 596.1,766.15 596.8,767.38 597.5,766.62 598.2,769.59 598.9,768.2 599.6,768.93 600.3,769.84 601,767.43 601.7,768.52 602.4,772.82 603.1,770.79 603.8,769.79 604.5,771.03 605.2,769.67 605.9,771.15 606.6,769.57 607.3,771.38 608,768.16 608.7,772.58 609.4,768.44 610.1,765.7 610.8,767.33 611.5,766.25 612.2,766.37 612.9,763.22 613.6,765.18 614.3,770.22 615,760.7 615.7,762.91 616.4,761.04 617.1,761.25 617.8,756.94 618.5,759.3 619.2,764.13 619.9,765.16 620.6,770.09 621.3,767.81 622,771.31 622.7,776.13 623.4,769.39 624.1,769.02 624.8,770.47 625.5,770.34 626.2,771.82 626.9,770.42 627.6,768.7 628.3,770.18 629,774.08 629.7,771.16 630.4,763.39 631.1,767.68 631.8,765.89 632.5,768.12 633.2,766.22 633.9,769.55 634.6,768.78 635.3,769.99 636,770 636.7,770.88 637.4,772.85 638.1,775.85 638.8,775.76 639.5,775.45 640.2,778.78 640.9,775.01 641.6,772.7 642.3,769.6 643,768.18 643.7,766.24 644.4,760.53 645.1,765.57 645.8,762.94 646.5,759.71 647.2,760.16 647.9,757.25 648.6,755.31 649.3,748.37 650,750.58 650.7,752.48 651.4,754.95 652.1,755.89 652.8,755.67 653.5,751.53 654.2,750.44 654.9,756.83 655.6,757.25 656.3,760.33 657,759.77 657.7,761.8 658.4,761.43 659.1,768.67 659.8,770.8 660.5,775.96 661.2,780.33 661.9,784.54 662.6,790.57" fill="none" stroke="#000" stroke-width="1.2" stroke-linejoin="round" /></g>
<rect x="400.6" y="655.4" width="262.1" height="163.4" fill="none" stroke="#444" stroke-width="1"/>
<path d="M400.6 818.8v-2.8M400.6 655.4v2.8M411.08 818.8v-2.8M411.08 655.4v2.8M421.55 818.8v-2.8M421.55 655.4v2.8M432.03 818.8v-2.8M432.03 655.4v2.8M442.5 818.8v-2.8M442.5 655.4v2.8M452.98 818.8v-2.8M452.98 655.4v2.8M463.46 818.8v-2.8M463.46 655.4v2.8M473.93 818.8v-2.8M473.93 655.4v2.8M484.41 818.8v-2.8M484.41 655.4v2.8M494.88 818.8v-2.8M494.88 655.4v2.8M505.36 818.8v-2.8M505.36 655.4v2.8M515.84 818.8v-2.8M515.84 655.4v2.8M526.31 818.8v-2.8M526.31 655.4v2.8M536.79 818.8v-2.8M536.79 655.4v2.8M547.26 818.8v-2.8M547.26 655.4v2.8M557.74 818.8v-2.8M557.74 655.4v2.8M568.22 818.8v-2.8M568.22 655.4v2.8M578.69 818.8v-2.8M578.69 655.4v2.8M589.17 818.8v-2.8M589.17 655.4v2.8M599.64 818.8v-2.8M599.64 655.4v2.8M610.12 818.8v-2.8M610.12 655.4v2.8M620.6 818.8v-2.8M620.6 655.4v2.8M631.07 818.8v-2.8M631.07 655.4v2.8M641.55 818.8v-2.8M641.55 655.4v2.8M652.02 818.8v-2.8M652.02 655.4v2.8M662.5 818.8v-2.8M662.5 655.4v2.8M400.6 818.8v-5M400.6 655.4v5M452.98 818.8v-5M452.98 655.4v5M505.36 818.8v-5M505.36 655.4v5M557.74 818.8v-5M557.74 655.4v5M610.12 818.8v-5M610.12 655.4v5M662.5 818.8v-5M662.5 655.4v5M400.6 818.85h2.8M662.7 818.85h-2.8M400.6 807.96h2.8M662.7 807.96h-2.8M400.6 797.07h2.8M662.7 797.07h-2.8M400.6 786.18h2.8M662.7 786.18h-2.8M400.6 775.29h2.8M662.7 775.29h-2.8M400.6 764.4h2.8M662.7 764.4h-2.8M400.6 753.51h2.8M662.7 753.51h-2.8M400.6 742.62h2.8M662.7 742.62h-2.8M400.6 731.73h2.8M662.7 731.73h-2.8M400.6 720.84h2.8M662.7 720.84h-2.8M400.6 709.95h2.8M662.7 709.95h-2.8M400.6 699.06h2.8M662.7 699.06h-2.8M400.6 688.17h2.8M662.7 688.17h-2.8M400.6 677.28h2.8M662.7 677.28h-2.8M400.6 666.39h2.8M662.7 666.39h-2.8M400.6 655.5h2.8M662.7 655.5h-2.8M400.6 818.85h5M662.7 818.85h-5M400.6 764.4h5M662.7 764.4h-5M400.6 709.95h5M662.7 709.95h-5M400.6 655.5h5M662.7 655.5h-5" stroke="#444" stroke-width="1" fill="none"/>
<line x1="419.6" y1="643" x2="418.8" y2="647" stroke="#666" stroke-width="0.8" />
<text x="396.5" y="664.05" font-family="Liberation Sans" font-size="14.04" fill="#666666" text-anchor="end" textLength="17.48" lengthAdjust="spacingAndGlyphs" style="white-space:pre" >1.0</text>
<text x="397" y="715.3" font-family="Liberation Sans" font-size="16.2" fill="#666666" text-anchor="end" textLength="18.58" lengthAdjust="spacingAndGlyphs" style="white-space:pre" >0.5</text>
<text x="396.5" y="769.75" font-family="Liberation Sans" font-size="16.2" fill="#666666" text-anchor="end" textLength="17.48" lengthAdjust="spacingAndGlyphs" style="white-space:pre" >0.0</text>
<text x="396.75" y="819.45" font-family="Liberation Sans" font-size="14.14" fill="#666666" text-anchor="end" textLength="27.61" lengthAdjust="spacingAndGlyphs" style="white-space:pre" >−0.5</text>
<text x="400.1" y="837.25" font-family="Liberation Sans" font-size="12.6" fill="#666666" text-anchor="middle" textLength="7.25" lengthAdjust="spacingAndGlyphs" style="white-space:pre" >0</text>
<text x="452.48" y="837.25" font-family="Liberation Sans" font-size="12.6" fill="#666666" text-anchor="middle" textLength="4.81" lengthAdjust="spacingAndGlyphs" style="white-space:pre" >1</text>
<text x="504.86" y="837.25" font-family="Liberation Sans" font-size="12.6" fill="#666666" text-anchor="middle" textLength="7.25" lengthAdjust="spacingAndGlyphs" style="white-space:pre" >2</text>
<text x="557.74" y="837.25" font-family="Liberation Sans" font-size="12.6" fill="#666666" text-anchor="middle" textLength="7.1" lengthAdjust="spacingAndGlyphs" style="white-space:pre" >3</text>
<text x="610.12" y="837.25" font-family="Liberation Sans" font-size="12.6" fill="#666666" text-anchor="middle" textLength="7.1" lengthAdjust="spacingAndGlyphs" style="white-space:pre" >4</text>
<text x="662.5" y="837.25" font-family="Liberation Sans" font-size="12.6" fill="#666666" text-anchor="middle" textLength="8.28" lengthAdjust="spacingAndGlyphs" style="white-space:pre" >5</text>
<text x="529.2" y="645.95" font-family="Liberation Sans" font-size="14.4" fill="#000" text-anchor="middle" textLength="62.53" lengthAdjust="spacingAndGlyphs" style="white-space:pre" >ARRAY LL</text>
<text x="466.7" y="684.95" font-family="Liberation Sans" font-size="14.7" fill="#000" text-anchor="start" textLength="53.24" lengthAdjust="spacingAndGlyphs" style="white-space:pre" >r=277m</text>
<text x="531.2" y="678.3" font-family="Liberation Sans" font-size="8.6" fill="#333" text-anchor="start" textLength="73" lengthAdjust="spacingAndGlyphs" style="white-space:pre" >MM.  Std Dev=0.082</text>
<text x="625.5" y="682.35" font-family="Liberation Sans" font-size="22.5" fill="#000" text-anchor="start" textLength="27.83" lengthAdjust="spacingAndGlyphs" style="white-space:pre" >(e)</text>
<text transform="translate(361.1,733.35) rotate(-90)" font-family="Liberation Sans" font-size="13" fill="#666666" text-anchor="middle" textLength="154.41" lengthAdjust="spacingAndGlyphs" style="white-space:pre" >Azim  ave  coherency</text>
<text x="377" y="851.7" font-family="Liberation Sans" font-size="12.8" fill="#666666" text-anchor="start" textLength="92.43" lengthAdjust="spacingAndGlyphs" style="white-space:pre" >Frequency (Hz).</text>
<text x="490.4" y="852.7" font-family="Liberation Sans" font-size="12.8" fill="#666666" text-anchor="start" textLength="192" lengthAdjust="spacingAndGlyphs" style="white-space:pre" >Modes: Red=R0; Yell=R1; Grn=R2</text>
<text x="387.75" y="866.45" font-family="Liberation Sans" font-size="12.8" fill="#666666" text-anchor="start" textLength="89.84" lengthAdjust="spacingAndGlyphs" style="white-space:pre" >Radius=277 r1.</text>
<text x="488.7" y="866.7" font-family="Liberation Sans" font-size="12.8" fill="#666666" text-anchor="start" textLength="189" lengthAdjust="spacingAndGlyphs" style="white-space:pre" >Std Dev=0.139 Γlm rms=0.091⌉</text>
<polyline points="85.23,915.1 85.23,923.94 87.31,923.94 87.31,981.88 86.06,981.88 86.06,1040.48 117.87,1040.48 117.87,1155.3" fill="none" stroke="#ff0000" stroke-width="2" stroke-linejoin="round" stroke-linejoin="miter" stroke-linecap="butt"/>
<rect x="68.6" y="915.1" width="207.9" height="240.2" fill="none" stroke="#333" stroke-width="1.1"/>
<path d="M68.6 1155.3v-2.6M68.6 915.1v2.6M78.99 1155.3v-2.6M78.99 915.1v2.6M89.39 1155.3v-2.6M89.39 915.1v2.6M99.78 1155.3v-2.6M99.78 915.1v2.6M110.18 1155.3v-2.6M110.18 915.1v2.6M120.57 1155.3v-2.6M120.57 915.1v2.6M130.97 1155.3v-2.6M130.97 915.1v2.6M141.37 1155.3v-2.6M141.37 915.1v2.6M151.76 1155.3v-2.6M151.76 915.1v2.6M162.16 1155.3v-2.6M162.16 915.1v2.6M172.55 1155.3v-2.6M172.55 915.1v2.6M182.94 1155.3v-2.6M182.94 915.1v2.6M193.34 1155.3v-2.6M193.34 915.1v2.6M203.73 1155.3v-2.6M203.73 915.1v2.6M214.13 1155.3v-2.6M214.13 915.1v2.6M224.53 1155.3v-2.6M224.53 915.1v2.6M234.92 1155.3v-2.6M234.92 915.1v2.6M245.31 1155.3v-2.6M245.31 915.1v2.6M255.71 1155.3v-2.6M255.71 915.1v2.6M266.11 1155.3v-2.6M266.11 915.1v2.6M276.5 1155.3v-2.6M276.5 915.1v2.6M68.6 1155.3v-5M68.6 915.1v5M120.57 1155.3v-5M120.57 915.1v5M172.55 1155.3v-5M172.55 915.1v5M224.53 1155.3v-5M224.53 915.1v5M276.5 1155.3v-5M276.5 915.1v5M68.6 915.1h2.6M276.5 915.1h-2.6M68.6 919.9h2.6M276.5 919.9h-2.6M68.6 924.71h2.6M276.5 924.71h-2.6M68.6 929.51h2.6M276.5 929.51h-2.6M68.6 934.32h2.6M276.5 934.32h-2.6M68.6 939.12h2.6M276.5 939.12h-2.6M68.6 943.92h2.6M276.5 943.92h-2.6M68.6 948.73h2.6M276.5 948.73h-2.6M68.6 953.53h2.6M276.5 953.53h-2.6M68.6 958.34h2.6M276.5 958.34h-2.6M68.6 963.14h2.6M276.5 963.14h-2.6M68.6 967.94h2.6M276.5 967.94h-2.6M68.6 972.75h2.6M276.5 972.75h-2.6M68.6 977.55h2.6M276.5 977.55h-2.6M68.6 982.36h2.6M276.5 982.36h-2.6M68.6 987.16h2.6M276.5 987.16h-2.6M68.6 991.96h2.6M276.5 991.96h-2.6M68.6 996.77h2.6M276.5 996.77h-2.6M68.6 1001.57h2.6M276.5 1001.57h-2.6M68.6 1006.38h2.6M276.5 1006.38h-2.6M68.6 1011.18h2.6M276.5 1011.18h-2.6M68.6 1015.98h2.6M276.5 1015.98h-2.6M68.6 1020.79h2.6M276.5 1020.79h-2.6M68.6 1025.59h2.6M276.5 1025.59h-2.6M68.6 1030.4h2.6M276.5 1030.4h-2.6M68.6 1035.2h2.6M276.5 1035.2h-2.6M68.6 1040h2.6M276.5 1040h-2.6M68.6 1044.81h2.6M276.5 1044.81h-2.6M68.6 1049.61h2.6M276.5 1049.61h-2.6M68.6 1054.42h2.6M276.5 1054.42h-2.6M68.6 1059.22h2.6M276.5 1059.22h-2.6M68.6 1064.02h2.6M276.5 1064.02h-2.6M68.6 1068.83h2.6M276.5 1068.83h-2.6M68.6 1073.63h2.6M276.5 1073.63h-2.6M68.6 1078.44h2.6M276.5 1078.44h-2.6M68.6 1083.24h2.6M276.5 1083.24h-2.6M68.6 1088.04h2.6M276.5 1088.04h-2.6M68.6 1092.85h2.6M276.5 1092.85h-2.6M68.6 1097.65h2.6M276.5 1097.65h-2.6M68.6 1102.46h2.6M276.5 1102.46h-2.6M68.6 1107.26h2.6M276.5 1107.26h-2.6M68.6 1112.06h2.6M276.5 1112.06h-2.6M68.6 1116.87h2.6M276.5 1116.87h-2.6M68.6 1121.67h2.6M276.5 1121.67h-2.6M68.6 1126.48h2.6M276.5 1126.48h-2.6M68.6 1131.28h2.6M276.5 1131.28h-2.6M68.6 1136.08h2.6M276.5 1136.08h-2.6M68.6 1140.89h2.6M276.5 1140.89h-2.6M68.6 1145.69h2.6M276.5 1145.69h-2.6M68.6 1150.5h2.6M276.5 1150.5h-2.6M68.6 1155.3h2.6M276.5 1155.3h-2.6M68.6 915.1h5M276.5 915.1h-5M68.6 963.14h5M276.5 963.14h-5M68.6 1011.18h5M276.5 1011.18h-5M68.6 1059.22h5M276.5 1059.22h-5M68.6 1107.26h5M276.5 1107.26h-5M68.6 1155.3h5M276.5 1155.3h-5" stroke="#333" stroke-width="1.1" fill="none"/>
<text x="64.35" y="922.35" font-family="Liberation Sans" font-size="13.54" fill="#666666" text-anchor="end" textLength="8.31" lengthAdjust="spacingAndGlyphs" style="white-space:pre" >0</text>
<text x="64.1" y="966.94" font-family="Liberation Sans" font-size="11.8" fill="#666666" text-anchor="end" textLength="25.6" lengthAdjust="spacingAndGlyphs" style="white-space:pre" >−10</text>
<text x="64.1" y="1015.18" font-family="Liberation Sans" font-size="11.8" fill="#666666" text-anchor="end" textLength="25.6" lengthAdjust="spacingAndGlyphs" style="white-space:pre" >−20</text>
<text x="64.1" y="1063.42" font-family="Liberation Sans" font-size="11.8" fill="#666666" text-anchor="end" textLength="25.6" lengthAdjust="spacingAndGlyphs" style="white-space:pre" >−30</text>
<text x="64.1" y="1111.66" font-family="Liberation Sans" font-size="11.8" fill="#666666" text-anchor="end" textLength="25.6" lengthAdjust="spacingAndGlyphs" style="white-space:pre" >−40</text>
<text x="64.35" y="1156.15" font-family="Liberation Sans" font-size="11.8" fill="#666666" text-anchor="end" textLength="26.13" lengthAdjust="spacingAndGlyphs" style="white-space:pre" >−50</text>
<text x="68.6" y="1171.6" font-family="Liberation Sans" font-size="12.4" fill="#666666" text-anchor="middle" textLength="8.89" lengthAdjust="spacingAndGlyphs" style="white-space:pre" >0</text>
<text x="120.42" y="1171.6" font-family="Liberation Sans" font-size="12.4" fill="#666666" text-anchor="middle" textLength="25.04" lengthAdjust="spacingAndGlyphs" style="white-space:pre" >500</text>
<text x="172.3" y="1171.6" font-family="Liberation Sans" font-size="12.4" fill="#666666" text-anchor="middle" textLength="33.51" lengthAdjust="spacingAndGlyphs" style="white-space:pre" >1000</text>
<text x="224.18" y="1171.6" font-family="Liberation Sans" font-size="12.4" fill="#666666" text-anchor="middle" textLength="33.82" lengthAdjust="spacingAndGlyphs" style="white-space:pre" >1500</text>
<text x="276" y="1171.6" font-family="Liberation Sans" font-size="12.4" fill="#666666" text-anchor="middle" textLength="33.82" lengthAdjust="spacingAndGlyphs" style="white-space:pre" >2000</text>
<text x="171.9" y="910.5" font-family="Liberation Sans" font-size="18.03" fill="#666666" text-anchor="middle" textLength="68.22" lengthAdjust="spacingAndGlyphs" style="white-space:pre" >KUM−LL</text>
<text x="235.1" y="956.8" font-family="Liberation Sans" font-size="22.5" fill="#000" text-anchor="start" textLength="20.58" lengthAdjust="spacingAndGlyphs" style="white-space:pre" >(f)</text>
<text x="172.8" y="1184.3" font-family="Liberation Sans" font-size="13.35" fill="#666666" text-anchor="middle" textLength="64.85" lengthAdjust="spacingAndGlyphs" style="white-space:pre" >Vs (m/s)</text>
<text transform="translate(25.2,1036) rotate(-90)" font-family="Liberation Sans" font-size="13.8" fill="#666666" text-anchor="middle" textLength="67.66" lengthAdjust="spacingAndGlyphs" style="white-space:pre" >Depth  (m)</text>
<polyline points="432.01,914.9 432.76,916.14 431.27,917.37 431.27,922.48 463.75,922.48 463.75,945.52 517.57,945.52 517.57,1023.14 542.41,1023.14 542.41,1146.53 626.8,1146.53" fill="none" stroke="#ff0000" stroke-width="2" stroke-linejoin="round" stroke-linejoin="miter" stroke-linecap="butt"/>
<rect x="414.5" y="914.9" width="212.3" height="247.4" fill="none" stroke="#333" stroke-width="1.1"/>
<path d="M414.5 1162.3v-2.6M414.5 914.9v2.6M425.12 1162.3v-2.6M425.12 914.9v2.6M435.73 1162.3v-2.6M435.73 914.9v2.6M446.34 1162.3v-2.6M446.34 914.9v2.6M456.96 1162.3v-2.6M456.96 914.9v2.6M467.57 1162.3v-2.6M467.57 914.9v2.6M478.19 1162.3v-2.6M478.19 914.9v2.6M488.8 1162.3v-2.6M488.8 914.9v2.6M499.42 1162.3v-2.6M499.42 914.9v2.6M510.03 1162.3v-2.6M510.03 914.9v2.6M520.65 1162.3v-2.6M520.65 914.9v2.6M531.26 1162.3v-2.6M531.26 914.9v2.6M541.88 1162.3v-2.6M541.88 914.9v2.6M552.5 1162.3v-2.6M552.5 914.9v2.6M563.11 1162.3v-2.6M563.11 914.9v2.6M573.72 1162.3v-2.6M573.72 914.9v2.6M584.34 1162.3v-2.6M584.34 914.9v2.6M594.95 1162.3v-2.6M594.95 914.9v2.6M605.57 1162.3v-2.6M605.57 914.9v2.6M616.18 1162.3v-2.6M616.18 914.9v2.6M626.8 1162.3v-2.6M626.8 914.9v2.6M414.5 1162.3v-5M414.5 914.9v5M467.57 1162.3v-5M467.57 914.9v5M520.65 1162.3v-5M520.65 914.9v5M573.72 1162.3v-5M573.72 914.9v5M626.8 1162.3v-5M626.8 914.9v5M414.5 914.9h2.6M626.8 914.9h-2.6M414.5 930.36h2.6M626.8 930.36h-2.6M414.5 945.82h2.6M626.8 945.82h-2.6M414.5 961.29h2.6M626.8 961.29h-2.6M414.5 976.75h2.6M626.8 976.75h-2.6M414.5 992.21h2.6M626.8 992.21h-2.6M414.5 1007.67h2.6M626.8 1007.67h-2.6M414.5 1023.14h2.6M626.8 1023.14h-2.6M414.5 1038.6h2.6M626.8 1038.6h-2.6M414.5 1054.06h2.6M626.8 1054.06h-2.6M414.5 1069.52h2.6M626.8 1069.52h-2.6M414.5 1084.99h2.6M626.8 1084.99h-2.6M414.5 1100.45h2.6M626.8 1100.45h-2.6M414.5 1115.91h2.6M626.8 1115.91h-2.6M414.5 1131.38h2.6M626.8 1131.38h-2.6M414.5 1146.84h2.6M626.8 1146.84h-2.6M414.5 1162.3h2.6M626.8 1162.3h-2.6M414.5 914.9h5M626.8 914.9h-5M414.5 976.75h5M626.8 976.75h-5M414.5 1038.6h5M626.8 1038.6h-5M414.5 1100.45h5M626.8 1100.45h-5M414.5 1162.3h5M626.8 1162.3h-5" stroke="#333" stroke-width="1.1" fill="none"/>
<text x="409.75" y="922.15" font-family="Liberation Sans" font-size="13.54" fill="#666666" text-anchor="end" textLength="8.26" lengthAdjust="spacingAndGlyphs" style="white-space:pre" >0</text>
<text x="410.25" y="981.6" font-family="Liberation Sans" font-size="14.11" fill="#666666" text-anchor="end" textLength="37.73" lengthAdjust="spacingAndGlyphs" style="white-space:pre" >−200</text>
<text x="410.25" y="1043.7" font-family="Liberation Sans" font-size="14.11" fill="#666666" text-anchor="end" textLength="37.73" lengthAdjust="spacingAndGlyphs" style="white-space:pre" >−400</text>
<text x="410.25" y="1105.8" font-family="Liberation Sans" font-size="14.11" fill="#666666" text-anchor="end" textLength="37.73" lengthAdjust="spacingAndGlyphs" style="white-space:pre" >−600</text>
<text x="410" y="1163.65" font-family="Liberation Sans" font-size="13.99" fill="#666666" text-anchor="end" textLength="38.27" lengthAdjust="spacingAndGlyphs" style="white-space:pre" >−800</text>
<text x="414.25" y="1179.2" font-family="Liberation Sans" font-size="12.4" fill="#666666" text-anchor="middle" textLength="8.26" lengthAdjust="spacingAndGlyphs" style="white-space:pre" >0</text>
<text x="467.07" y="1179.2" font-family="Liberation Sans" font-size="12.4" fill="#666666" text-anchor="middle" textLength="29.23" lengthAdjust="spacingAndGlyphs" style="white-space:pre" >500</text>
<text x="521.15" y="1179.2" font-family="Liberation Sans" font-size="12.4" fill="#666666" text-anchor="middle" textLength="38.62" lengthAdjust="spacingAndGlyphs" style="white-space:pre" >1000</text>
<text x="576.97" y="1179.2" font-family="Liberation Sans" font-size="12.4" fill="#666666" text-anchor="middle" textLength="37.14" lengthAdjust="spacingAndGlyphs" style="white-space:pre" >1500</text>
<text x="627.3" y="1179.2" font-family="Liberation Sans" font-size="12.4" fill="#666666" text-anchor="middle" textLength="35.54" lengthAdjust="spacingAndGlyphs" style="white-space:pre" >2000</text>
<text x="519.9" y="909.75" font-family="Liberation Sans" font-size="19.26" fill="#666666" text-anchor="middle" textLength="69.46" lengthAdjust="spacingAndGlyphs" style="white-space:pre" >KUM−LL</text>
<text x="592.05" y="951.1" font-family="Liberation Sans" font-size="22.5" fill="#000" text-anchor="start" textLength="25.49" lengthAdjust="spacingAndGlyphs" style="white-space:pre" >(g)</text>
<text x="519.4" y="1191.8" font-family="Liberation Sans" font-size="14.44" fill="#666666" text-anchor="middle" textLength="64.03" lengthAdjust="spacingAndGlyphs" style="white-space:pre" >Vs (m/s)</text>
<text transform="translate(361.4,1039.7) rotate(-90)" font-family="Liberation Sans" font-size="16.29" fill="#666666" text-anchor="middle" textLength="69.06" lengthAdjust="spacingAndGlyphs" style="white-space:pre" >Depth  (m)</text>
</svg>
</body></html>
